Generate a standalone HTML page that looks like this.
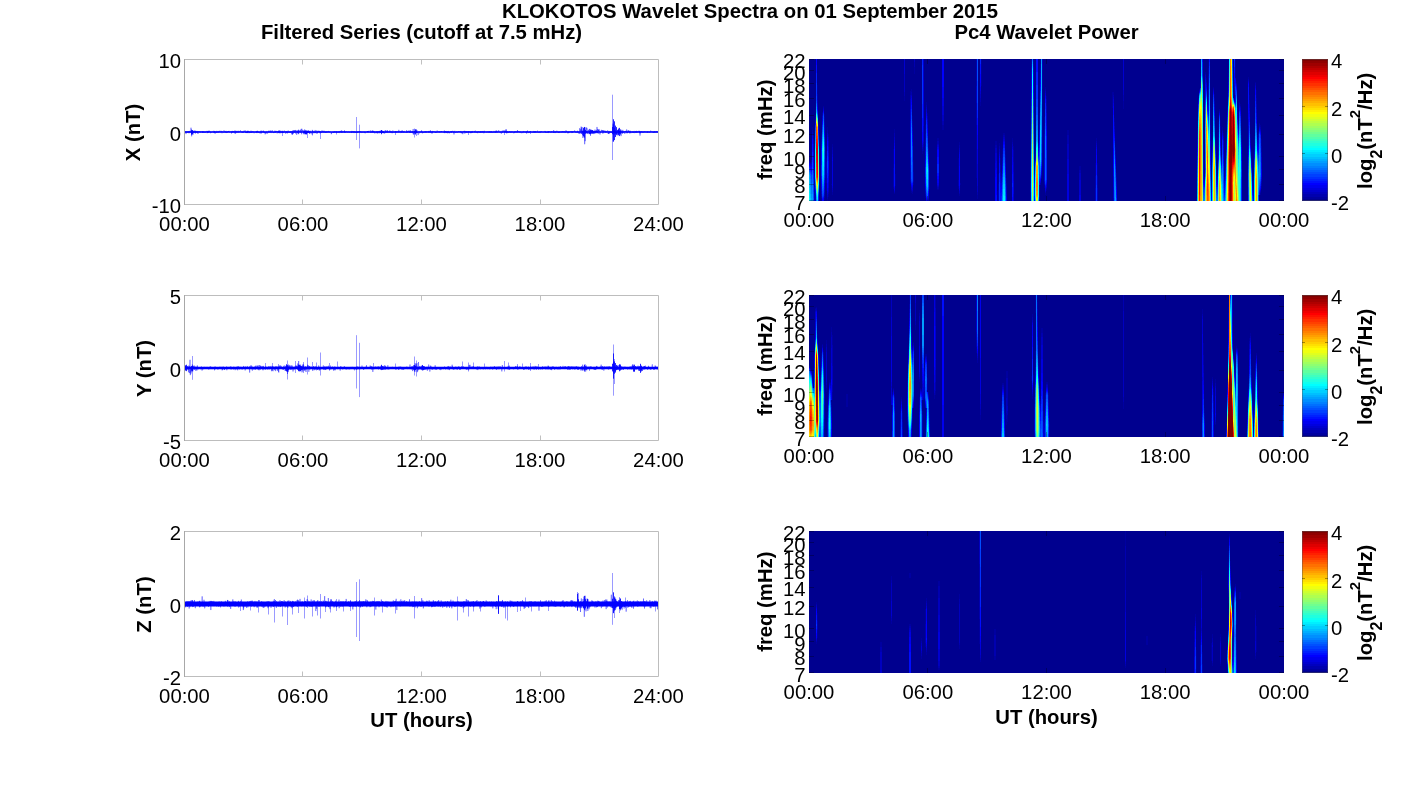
<!DOCTYPE html>
<html lang="en"><head><meta charset="utf-8"><title>KLOKOTOS Wavelet Spectra on 01 September 2015</title>
<style>html,body{margin:0;padding:0;background:#fff}svg{display:block}text{font-family:"Liberation Sans", sans-serif;font-size:20.3px;fill:#000}.b{font-weight:bold}.m{text-anchor:middle}.e{text-anchor:end}</style></head><body>
<svg width="1418" height="788" viewBox="0 0 1418 788">
<rect width="1418" height="788" fill="#fff"/>
<defs><linearGradient id="jet" x1="0" y1="1" x2="0" y2="0">
<stop offset="0.0000" stop-color="#00008f"/><stop offset="0.0156" stop-color="#00008f"/>
<stop offset="0.0156" stop-color="#00009f"/><stop offset="0.0312" stop-color="#00009f"/>
<stop offset="0.0312" stop-color="#0000af"/><stop offset="0.0469" stop-color="#0000af"/>
<stop offset="0.0469" stop-color="#0000bf"/><stop offset="0.0625" stop-color="#0000bf"/>
<stop offset="0.0625" stop-color="#0000cf"/><stop offset="0.0781" stop-color="#0000cf"/>
<stop offset="0.0781" stop-color="#0000df"/><stop offset="0.0938" stop-color="#0000df"/>
<stop offset="0.0938" stop-color="#0000ef"/><stop offset="0.1094" stop-color="#0000ef"/>
<stop offset="0.1094" stop-color="#0000ff"/><stop offset="0.1250" stop-color="#0000ff"/>
<stop offset="0.1250" stop-color="#0010ff"/><stop offset="0.1406" stop-color="#0010ff"/>
<stop offset="0.1406" stop-color="#0020ff"/><stop offset="0.1562" stop-color="#0020ff"/>
<stop offset="0.1562" stop-color="#0030ff"/><stop offset="0.1719" stop-color="#0030ff"/>
<stop offset="0.1719" stop-color="#0040ff"/><stop offset="0.1875" stop-color="#0040ff"/>
<stop offset="0.1875" stop-color="#0050ff"/><stop offset="0.2031" stop-color="#0050ff"/>
<stop offset="0.2031" stop-color="#0060ff"/><stop offset="0.2188" stop-color="#0060ff"/>
<stop offset="0.2188" stop-color="#0070ff"/><stop offset="0.2344" stop-color="#0070ff"/>
<stop offset="0.2344" stop-color="#0080ff"/><stop offset="0.2500" stop-color="#0080ff"/>
<stop offset="0.2500" stop-color="#008fff"/><stop offset="0.2656" stop-color="#008fff"/>
<stop offset="0.2656" stop-color="#009fff"/><stop offset="0.2812" stop-color="#009fff"/>
<stop offset="0.2812" stop-color="#00afff"/><stop offset="0.2969" stop-color="#00afff"/>
<stop offset="0.2969" stop-color="#00bfff"/><stop offset="0.3125" stop-color="#00bfff"/>
<stop offset="0.3125" stop-color="#00cfff"/><stop offset="0.3281" stop-color="#00cfff"/>
<stop offset="0.3281" stop-color="#00dfff"/><stop offset="0.3438" stop-color="#00dfff"/>
<stop offset="0.3438" stop-color="#00efff"/><stop offset="0.3594" stop-color="#00efff"/>
<stop offset="0.3594" stop-color="#00ffff"/><stop offset="0.3750" stop-color="#00ffff"/>
<stop offset="0.3750" stop-color="#10ffef"/><stop offset="0.3906" stop-color="#10ffef"/>
<stop offset="0.3906" stop-color="#20ffdf"/><stop offset="0.4062" stop-color="#20ffdf"/>
<stop offset="0.4062" stop-color="#30ffcf"/><stop offset="0.4219" stop-color="#30ffcf"/>
<stop offset="0.4219" stop-color="#40ffbf"/><stop offset="0.4375" stop-color="#40ffbf"/>
<stop offset="0.4375" stop-color="#50ffaf"/><stop offset="0.4531" stop-color="#50ffaf"/>
<stop offset="0.4531" stop-color="#60ff9f"/><stop offset="0.4688" stop-color="#60ff9f"/>
<stop offset="0.4688" stop-color="#70ff8f"/><stop offset="0.4844" stop-color="#70ff8f"/>
<stop offset="0.4844" stop-color="#80ff80"/><stop offset="0.5000" stop-color="#80ff80"/>
<stop offset="0.5000" stop-color="#8fff70"/><stop offset="0.5156" stop-color="#8fff70"/>
<stop offset="0.5156" stop-color="#9fff60"/><stop offset="0.5312" stop-color="#9fff60"/>
<stop offset="0.5312" stop-color="#afff50"/><stop offset="0.5469" stop-color="#afff50"/>
<stop offset="0.5469" stop-color="#bfff40"/><stop offset="0.5625" stop-color="#bfff40"/>
<stop offset="0.5625" stop-color="#cfff30"/><stop offset="0.5781" stop-color="#cfff30"/>
<stop offset="0.5781" stop-color="#dfff20"/><stop offset="0.5938" stop-color="#dfff20"/>
<stop offset="0.5938" stop-color="#efff10"/><stop offset="0.6094" stop-color="#efff10"/>
<stop offset="0.6094" stop-color="#ffff00"/><stop offset="0.6250" stop-color="#ffff00"/>
<stop offset="0.6250" stop-color="#ffef00"/><stop offset="0.6406" stop-color="#ffef00"/>
<stop offset="0.6406" stop-color="#ffdf00"/><stop offset="0.6562" stop-color="#ffdf00"/>
<stop offset="0.6562" stop-color="#ffcf00"/><stop offset="0.6719" stop-color="#ffcf00"/>
<stop offset="0.6719" stop-color="#ffbf00"/><stop offset="0.6875" stop-color="#ffbf00"/>
<stop offset="0.6875" stop-color="#ffaf00"/><stop offset="0.7031" stop-color="#ffaf00"/>
<stop offset="0.7031" stop-color="#ff9f00"/><stop offset="0.7188" stop-color="#ff9f00"/>
<stop offset="0.7188" stop-color="#ff8f00"/><stop offset="0.7344" stop-color="#ff8f00"/>
<stop offset="0.7344" stop-color="#ff8000"/><stop offset="0.7500" stop-color="#ff8000"/>
<stop offset="0.7500" stop-color="#ff7000"/><stop offset="0.7656" stop-color="#ff7000"/>
<stop offset="0.7656" stop-color="#ff6000"/><stop offset="0.7812" stop-color="#ff6000"/>
<stop offset="0.7812" stop-color="#ff5000"/><stop offset="0.7969" stop-color="#ff5000"/>
<stop offset="0.7969" stop-color="#ff4000"/><stop offset="0.8125" stop-color="#ff4000"/>
<stop offset="0.8125" stop-color="#ff3000"/><stop offset="0.8281" stop-color="#ff3000"/>
<stop offset="0.8281" stop-color="#ff2000"/><stop offset="0.8438" stop-color="#ff2000"/>
<stop offset="0.8438" stop-color="#ff1000"/><stop offset="0.8594" stop-color="#ff1000"/>
<stop offset="0.8594" stop-color="#ff0000"/><stop offset="0.8750" stop-color="#ff0000"/>
<stop offset="0.8750" stop-color="#ef0000"/><stop offset="0.8906" stop-color="#ef0000"/>
<stop offset="0.8906" stop-color="#df0000"/><stop offset="0.9062" stop-color="#df0000"/>
<stop offset="0.9062" stop-color="#cf0000"/><stop offset="0.9219" stop-color="#cf0000"/>
<stop offset="0.9219" stop-color="#bf0000"/><stop offset="0.9375" stop-color="#bf0000"/>
<stop offset="0.9375" stop-color="#af0000"/><stop offset="0.9531" stop-color="#af0000"/>
<stop offset="0.9531" stop-color="#9f0000"/><stop offset="0.9688" stop-color="#9f0000"/>
<stop offset="0.9688" stop-color="#8f0000"/><stop offset="0.9844" stop-color="#8f0000"/>
<stop offset="0.9844" stop-color="#800000"/><stop offset="1.0000" stop-color="#800000"/>
</linearGradient>
<filter id="bl" x="-2%" y="-2%" width="104%" height="104%"><feGaussianBlur stdDeviation="0.55 0.3"/></filter>
<clipPath id="cp0"><rect x="809" y="59" width="475" height="142"/></clipPath>
<clipPath id="cp1"><rect x="809" y="295" width="475" height="142"/></clipPath>
<clipPath id="cp2"><rect x="809" y="531" width="475" height="142"/></clipPath>
</defs>
<text class="b m" x="750" y="18">KLOKOTOS Wavelet Spectra on 01 September 2015</text>
<text class="b m" x="421.5" y="39">Filtered Series (cutoff at 7.5 mHz)</text>
<text class="b m" x="1046.5" y="39">Pc4 Wavelet Power</text>
<text class="b m" x="421.5" y="727">UT (hours)</text>
<text class="b m" x="1046.5" y="723.5">UT (hours)</text>
<path d="M302.5 204.5v-5M302.5 59.5v5M421.5 204.5v-5M421.5 59.5v5M540.5 204.5v-5M540.5 59.5v5M184.5 132.0h5M658.5 132.0h-5" stroke="#b0b0b0" stroke-width="1" fill="none" opacity="0.8"/>
<path d="M185.0 132.00H658.0" stroke="#00f" stroke-width="1.50" fill="none"/><path d="M184.50 131.76L184.67 132.61L184.83 131.27L185.00 132.16L185.17 132.37L185.33 131.55L185.50 131.56L185.67 132.33L185.83 131.99L186.00 134.07L186.17 131.41L186.33 131.49L186.50 131.51L186.67 133.04L186.83 132.17L187.00 132.00L187.17 131.79L187.33 131.85L187.50 131.30L187.67 132.84L187.83 132.11L188.00 132.37L188.17 131.89L188.33 131.67L188.50 131.18L188.67 132.31L188.83 131.53L189.00 133.34L189.17 132.14L189.33 131.10L189.50 132.37L189.67 131.66L189.83 130.86L190.00 130.77L190.17 130.89L190.33 132.17L190.50 131.81L190.67 132.52L190.83 130.56L191.00 127.69L191.17 131.86L191.33 133.12L191.50 131.93L191.67 136.33L191.83 131.48L192.00 133.91L192.17 132.29L192.33 131.96L192.50 130.46L192.67 131.57L192.83 130.40L193.00 134.62L193.17 134.40L193.33 132.16L193.50 132.82L193.67 132.20L193.83 131.54L194.00 132.04L194.17 131.38L194.33 130.44L194.50 132.91L194.67 132.06L194.83 131.75L195.00 132.16L195.17 131.27L195.33 133.61L195.50 130.70L195.67 132.70L195.83 131.87L196.00 131.26L196.17 132.45L196.33 131.74L196.50 131.61L196.67 131.71L196.83 132.91L197.00 130.91L197.17 131.88L197.33 133.13L197.50 131.66L197.67 131.98L197.83 131.75L198.00 133.93L198.17 131.28L198.33 131.92L198.50 131.91L198.67 132.23L198.83 131.58L199.00 131.46L199.17 131.85L199.33 131.24L199.50 131.96L199.67 132.22L199.83 132.56L200.00 132.57L200.17 131.20L200.33 132.04L200.50 132.19L200.67 131.71L200.83 132.59L201.00 132.28L201.17 131.84L201.33 131.69L201.50 131.72L201.67 131.84L201.83 131.73L202.00 131.25L202.17 132.43L202.33 132.47L202.50 131.32L202.67 132.71L202.83 131.52L203.00 132.95L203.17 132.25L203.33 131.58L203.50 132.11L203.67 132.10L203.83 131.32L204.00 133.01L204.17 131.97L204.33 131.78L204.50 132.14L204.67 132.34L204.83 132.38L205.00 131.76L205.17 132.95L205.33 131.78L205.50 132.27L205.67 132.17L205.83 131.61L206.00 131.62L206.17 131.87L206.33 131.91L206.50 131.54L206.67 130.93L206.83 131.64L207.00 132.54L207.17 133.18L207.33 130.91L207.50 132.98L207.67 131.31L207.83 131.55L208.00 132.22L208.17 131.60L208.33 132.48L208.50 130.80L208.67 132.54L208.83 131.60L209.00 131.44L209.17 132.07L209.33 130.65L209.50 131.72L209.67 131.55L209.83 132.27L210.00 132.03L210.17 131.22L210.33 132.46L210.50 133.22L210.67 132.19L210.83 132.51L211.00 131.81L211.17 131.69L211.33 132.43L211.50 132.18L211.67 132.53L211.83 132.50L212.00 131.87L212.17 131.64L212.33 131.81L212.50 131.45L212.67 131.43L212.83 132.04L213.00 132.32L213.17 132.54L213.33 132.72L213.50 131.92L213.67 132.13L213.83 130.76L214.00 131.93L214.17 132.82L214.33 131.17L214.50 133.25L214.67 132.79L214.83 131.79L215.00 132.01L215.17 131.26L215.33 133.53L215.50 132.70L215.67 132.35L215.83 132.24L216.00 132.84L216.17 131.88L216.33 132.35L216.50 132.87L216.67 132.53L216.83 130.83L217.00 132.25L217.17 132.10L217.33 131.48L217.50 131.83L217.67 132.62L217.83 132.19L218.00 132.37L218.17 131.83L218.33 132.34L218.50 131.37L218.67 132.47L218.83 132.31L219.00 131.96L219.17 130.86L219.33 131.53L219.50 131.69L219.67 132.33L219.83 131.38L220.00 130.74L220.17 131.13L220.33 131.39L220.50 131.55L220.67 132.40L220.83 131.74L221.00 131.59L221.17 132.17L221.33 130.85L221.50 131.75L221.67 131.46L221.83 131.86L222.00 133.25L222.17 132.23L222.33 132.05L222.50 131.32L222.67 131.85L222.83 131.93L223.00 131.82L223.17 132.09L223.33 132.45L223.50 132.76L223.67 131.85L223.83 131.65L224.00 130.32L224.17 131.76L224.33 131.59L224.50 132.17L224.67 131.70L224.83 131.47L225.00 132.64L225.17 132.85L225.33 131.30L225.50 131.28L225.67 131.76L225.83 132.54L226.00 131.82L226.17 130.86L226.33 133.05L226.50 132.86L226.67 131.92L226.83 132.00L227.00 132.78L227.17 132.52L227.33 131.66L227.50 132.31L227.67 132.49L227.83 131.06L228.00 131.87L228.17 131.81L228.33 131.04L228.50 131.82L228.67 131.33L228.83 131.78L229.00 130.83L229.17 132.30L229.33 131.76L229.50 131.99L229.67 132.41L229.83 132.20L230.00 132.45L230.17 131.89L230.33 131.39L230.50 131.99L230.67 131.66L230.83 131.78L231.00 132.17L231.17 132.31L231.33 132.23L231.50 133.50L231.67 131.04L231.83 131.96L232.00 132.18L232.17 132.79L232.33 130.88L232.50 132.22L232.67 132.07L232.83 131.76L233.00 131.07L233.17 132.43L233.33 131.33L233.50 131.98L233.67 131.15L233.83 132.03L234.00 132.23L234.17 132.98L234.33 132.20L234.50 131.67L234.67 131.55L234.83 132.14L235.00 130.33L235.17 133.99L235.33 132.06L235.50 131.09L235.67 131.62L235.83 131.89L236.00 133.12L236.17 131.82L236.33 132.35L236.50 131.89L236.67 130.87L236.83 132.03L237.00 132.18L237.17 131.41L237.33 132.04L237.50 132.47L237.67 132.66L237.83 130.85L238.00 131.39L238.17 131.54L238.33 131.91L238.50 132.52L238.67 132.22L238.83 130.77L239.00 131.90L239.17 131.51L239.33 132.27L239.50 131.88L239.67 131.82L239.83 131.96L240.00 132.02L240.17 132.11L240.33 131.69L240.50 130.38L240.67 132.01L240.83 131.91L241.00 131.72L241.17 131.83L241.33 131.63L241.50 131.31L241.67 132.11L241.83 132.70L242.00 132.03L242.17 132.55L242.33 131.73L242.50 131.72L242.67 132.64L242.83 132.28L243.00 131.01L243.17 132.24L243.33 132.30L243.50 132.88L243.67 132.03L243.83 131.02L244.00 130.61L244.17 131.15L244.33 131.82L244.50 131.33L244.67 131.28L244.83 131.77L245.00 132.13L245.17 130.35L245.33 131.08L245.50 132.77L245.67 132.85L245.83 131.59L246.00 132.72L246.17 132.41L246.33 131.93L246.50 132.96L246.67 131.75L246.83 132.60L247.00 133.16L247.17 130.79L247.33 132.88L247.50 131.63L247.67 132.46L247.83 130.94L248.00 132.07L248.17 130.75L248.33 132.23L248.50 131.87L248.67 132.34L248.83 131.30L249.00 133.18L249.17 132.51L249.33 132.60L249.50 131.73L249.67 132.65L249.83 131.77L250.00 131.64L250.17 132.77L250.33 131.97L250.50 131.96L250.67 132.71L250.83 132.16L251.00 130.67L251.17 132.16L251.33 132.64L251.50 131.75L251.67 132.88L251.83 132.14L252.00 132.32L252.17 131.31L252.33 131.04L252.50 131.24L252.67 131.69L252.83 132.67L253.00 131.13L253.17 131.65L253.33 132.44L253.50 132.49L253.67 132.30L253.83 131.59L254.00 131.75L254.17 133.28L254.33 132.64L254.50 132.53L254.67 132.08L254.83 131.81L255.00 131.83L255.17 132.18L255.33 132.22L255.50 131.68L255.67 132.04L255.83 132.33L256.00 131.75L256.17 132.73L256.33 132.22L256.50 131.00L256.67 132.89L256.83 133.12L257.00 130.88L257.17 132.43L257.33 132.12L257.50 130.80L257.67 132.39L257.83 132.49L258.00 131.57L258.17 132.16L258.33 131.76L258.50 132.28L258.67 133.02L258.83 131.81L259.00 131.80L259.17 132.89L259.33 132.53L259.50 133.26L259.67 131.80L259.83 131.93L260.00 132.27L260.17 132.43L260.33 131.98L260.50 132.42L260.67 131.19L260.83 132.89L261.00 133.78L261.17 130.47L261.33 133.10L261.50 132.85L261.67 131.69L261.83 131.69L262.00 131.47L262.17 131.65L262.33 132.18L262.50 132.37L262.67 132.52L262.83 130.97L263.00 132.21L263.17 131.63L263.33 130.54L263.50 132.21L263.67 131.97L263.83 131.66L264.00 133.06L264.17 131.66L264.33 131.61L264.50 132.87L264.67 133.04L264.83 132.38L265.00 132.31L265.17 134.35L265.33 132.02L265.50 132.58L265.67 131.92L265.83 132.54L266.00 133.70L266.17 131.45L266.33 131.30L266.50 132.43L266.67 133.17L266.83 132.01L267.00 132.19L267.17 132.13L267.33 131.91L267.50 133.60L267.67 133.39L267.83 131.60L268.00 131.36L268.17 132.12L268.33 132.04L268.50 132.55L268.67 130.66L268.83 131.82L269.00 131.15L269.17 132.28L269.33 132.02L269.50 132.16L269.67 132.38L269.83 130.66L270.00 130.88L270.17 132.92L270.33 131.97L270.50 131.72L270.67 131.55L270.83 130.43L271.00 132.34L271.17 131.40L271.33 131.99L271.50 131.82L271.67 132.90L271.83 132.75L272.00 132.10L272.17 131.98L272.33 130.33L272.50 130.75L272.67 132.50L272.83 132.32L273.00 132.91L273.17 132.72L273.33 132.88L273.50 132.06L273.67 133.06L273.83 132.45L274.00 131.87L274.17 132.51L274.33 132.70L274.50 132.81L274.67 131.03L274.83 130.62L275.00 132.50L275.17 132.17L275.33 132.96L275.50 131.47L275.67 131.84L275.83 131.12L276.00 132.40L276.17 130.89L276.33 131.28L276.50 131.32L276.67 131.58L276.83 132.04L277.00 131.39L277.17 133.40L277.33 131.93L277.50 131.74L277.67 132.31L277.83 132.00L278.00 131.14L278.17 132.14L278.33 131.35L278.50 131.55L278.67 132.94L278.83 130.65L279.00 133.18L279.17 130.33L279.33 133.12L279.50 131.94L279.67 131.50L279.83 130.77L280.00 131.82L280.17 133.26L280.33 131.34L280.50 132.35L280.67 131.08L280.83 130.70L281.00 130.82L281.17 133.14L281.33 132.22L281.50 131.35L281.67 132.09L281.83 132.49L282.00 131.80L282.17 132.83L282.33 131.84L282.50 132.79L282.67 130.77L282.83 131.40L283.00 132.14L283.17 131.36L283.33 133.00L283.50 132.45L283.67 132.02L283.83 132.93L284.00 132.89L284.17 131.14L284.33 130.56L284.50 131.98L284.67 131.90L284.83 131.75L285.00 132.26L285.17 131.65L285.33 131.19L285.50 131.56L285.67 133.68L285.83 131.57L286.00 132.30L286.17 132.38L286.33 132.96L286.50 132.68L286.67 131.09L286.83 133.13L287.00 131.53L287.17 131.70L287.33 131.24L287.50 133.37L287.67 132.14L287.83 132.56L288.00 132.63L288.17 130.51L288.33 130.87L288.50 132.40L288.67 131.65L288.83 131.62L289.00 132.12L289.17 132.35L289.33 132.57L289.50 131.85L289.67 132.76L289.83 131.22L290.00 132.19L290.17 132.10L290.33 132.22L290.50 132.83L290.67 131.27L290.83 132.27L291.00 131.37L291.17 132.32L291.33 131.55L291.50 131.28L291.67 134.07L291.83 134.45L292.00 131.55L292.17 133.52L292.33 133.06L292.50 132.96L292.67 134.19L292.83 130.50L293.00 133.12L293.17 131.82L293.33 130.25L293.50 133.56L293.67 132.47L293.83 132.19L294.00 131.79L294.17 130.38L294.33 131.43L294.50 132.65L294.67 130.43L294.83 131.68L295.00 132.46L295.17 130.17L295.33 131.72L295.50 133.53L295.67 130.05L295.83 130.20L296.00 131.62L296.17 131.64L296.33 130.87L296.50 130.71L296.67 134.81L296.83 132.78L297.00 131.12L297.17 130.69L297.33 132.14L297.50 133.19L297.67 130.38L297.83 132.31L298.00 133.17L298.17 131.77L298.33 130.97L298.50 130.16L298.67 134.18L298.83 130.50L299.00 131.36L299.17 132.23L299.33 131.36L299.50 131.69L299.67 131.74L299.83 130.90L300.00 129.94L300.17 132.15L300.33 130.86L300.50 130.47L300.67 132.69L300.83 132.92L301.00 130.00L301.17 128.92L301.33 132.05L301.50 132.43L301.67 134.27L301.83 128.76L302.00 132.17L302.17 131.87L302.33 131.86L302.50 131.68L302.67 130.17L302.83 130.21L303.00 131.13L303.17 130.19L303.33 131.56L303.50 133.34L303.67 131.55L303.83 134.25L304.00 132.25L304.17 131.46L304.33 133.20L304.50 131.63L304.67 129.43L304.83 134.28L305.00 132.63L305.17 132.72L305.33 130.69L305.50 131.98L305.67 131.97L305.83 134.06L306.00 131.01L306.17 132.76L306.33 134.74L306.50 131.25L306.67 132.26L306.83 133.54L307.00 131.61L307.17 131.20L307.33 131.82L307.50 131.61L307.67 132.42L307.83 133.07L308.00 130.03L308.17 131.20L308.33 132.82L308.50 131.88L308.67 130.62L308.83 132.32L309.00 132.06L309.17 131.60L309.33 132.46L309.50 134.03L309.67 133.01L309.83 130.83L310.00 133.08L310.17 131.61L310.33 131.28L310.50 130.85L310.67 132.25L310.83 131.61L311.00 133.60L311.17 132.08L311.33 132.31L311.50 132.75L311.67 132.25L311.83 132.13L312.00 132.37L312.17 134.63L312.33 129.89L312.50 131.32L312.67 132.15L312.83 130.66L313.00 131.93L313.17 131.70L313.33 131.57L313.50 132.74L313.67 132.06L313.83 133.31L314.00 132.13L314.17 132.51L314.33 132.45L314.50 131.38L314.67 132.22L314.83 133.12L315.00 132.23L315.17 129.98L315.33 132.67L315.50 131.93L315.67 133.13L315.83 131.65L316.00 131.83L316.17 131.61L316.33 131.98L316.50 132.27L316.67 131.99L316.83 130.37L317.00 133.99L317.17 131.67L317.33 132.74L317.50 132.10L317.67 132.82L317.83 131.06L318.00 131.57L318.17 131.78L318.33 131.36L318.50 132.12L318.67 131.10L318.83 130.57L319.00 132.08L319.17 131.32L319.33 132.83L319.50 130.97L319.67 132.01L319.83 131.51L320.00 132.56L320.17 133.53L320.33 132.76L320.50 132.21L320.67 132.64L320.83 131.56L321.00 131.96L321.17 132.43L321.33 132.19L321.50 132.14L321.67 131.87L321.83 132.97L322.00 130.33L322.17 132.21L322.33 132.09L322.50 131.44L322.67 131.20L322.83 131.80L323.00 132.05L323.17 132.04L323.33 130.88L323.50 132.45L323.67 132.20L323.83 132.33L324.00 132.65L324.17 130.74L324.33 131.99L324.50 132.51L324.67 132.37L324.83 132.55L325.00 131.08L325.17 132.00L325.33 132.27L325.50 132.87L325.67 131.91L325.83 132.48L326.00 131.99L326.17 132.31L326.33 131.62L326.50 132.54L326.67 131.54L326.83 132.06L327.00 132.38L327.17 131.43L327.33 131.46L327.50 131.66L327.67 132.43L327.83 131.99L328.00 131.67L328.17 132.20L328.33 132.03L328.50 130.93L328.67 131.96L328.83 131.78L329.00 132.45L329.17 132.04L329.33 132.28L329.50 132.13L329.67 131.42L329.83 132.02L330.00 132.50L330.17 132.33L330.33 131.86L330.50 131.75L330.67 131.70L330.83 132.09L331.00 132.22L331.17 131.98L331.33 134.20L331.50 132.82L331.67 133.25L331.83 132.13L332.00 132.42L332.17 132.02L332.33 132.20L332.50 131.88L332.67 131.83L332.83 131.58L333.00 132.46L333.17 132.02L333.33 133.00L333.50 131.95L333.67 132.29L333.83 132.49L334.00 132.52L334.17 130.99L334.33 132.33L334.50 132.30L334.67 131.57L334.83 132.37L335.00 132.72L335.17 131.65L335.33 132.06L335.50 132.08L335.67 131.47L335.83 132.30L336.00 132.35L336.17 131.97L336.33 132.37L336.50 132.17L336.67 131.36L336.83 132.88L337.00 131.90L337.17 132.32L337.33 131.88L337.50 131.77L337.67 131.76L337.83 131.75L338.00 132.55L338.17 132.05L338.33 131.40L338.50 132.44L338.67 131.91L338.83 131.52L339.00 132.05L339.17 133.00L339.33 133.04L339.50 131.05L339.67 131.05L339.83 131.86L340.00 132.23L340.17 132.24L340.33 132.50L340.50 130.97L340.67 132.14L340.83 130.87L341.00 131.71L341.17 132.03L341.33 132.86L341.50 131.95L341.67 130.33L341.83 132.35L342.00 131.53L342.17 132.74L342.33 131.87L342.50 131.38L342.67 132.11L342.83 132.11L343.00 132.16L343.17 131.85L343.33 131.36L343.50 132.40L343.67 131.95L343.83 131.80L344.00 131.26L344.17 132.14L344.33 131.25L344.50 131.94L344.67 131.92L344.83 132.62L345.00 132.19L345.17 131.60L345.33 132.67L345.50 131.66L345.67 132.29L345.83 132.01L346.00 132.17L346.17 131.60L346.33 131.49L346.50 131.22L346.67 132.32L346.83 132.58L347.00 132.29L347.17 131.43L347.33 131.61L347.50 132.29L347.67 132.59L347.83 132.37L348.00 131.93L348.17 131.70L348.33 132.26L348.50 131.67L348.67 131.73L348.83 131.57L349.00 132.57L349.17 132.33L349.33 132.43L349.50 131.80L349.67 131.71L349.83 131.67L350.00 132.83L350.17 132.25L350.33 131.88L350.50 131.59L350.67 131.85L350.83 131.67L351.00 132.35L351.17 132.70L351.33 132.72L351.50 131.98L351.67 132.74L351.83 130.89L352.00 132.37L352.17 131.64L352.33 132.04L352.50 131.76L352.67 132.36L352.83 131.63L353.00 132.25L353.17 132.28L353.33 131.48L353.50 132.37L353.67 132.12L353.83 131.24L354.00 132.48L354.17 133.10L354.33 132.13L354.50 131.28L354.67 132.17L354.83 131.99L355.00 132.41L355.17 132.63L355.33 131.62L355.50 132.16L355.67 132.94L355.83 132.42L356.00 131.96L356.17 132.77L356.33 131.98L356.50 131.81L356.67 132.02L356.83 132.29L357.00 131.60L357.17 132.61L357.33 131.89L357.50 132.22L357.67 131.71L357.83 132.85L358.00 132.77L358.17 132.22L358.33 131.61L358.50 132.22L358.67 131.69L358.83 131.83L359.00 131.51L359.17 131.98L359.33 131.93L359.50 131.41L359.67 131.42L359.83 132.60L360.00 131.82L360.17 131.92L360.33 131.24L360.50 132.45L360.67 132.35L360.83 131.65L361.00 132.00L361.17 131.91L361.33 131.99L361.50 132.88L361.67 132.74L361.83 131.64L362.00 131.89L362.17 131.96L362.33 132.35L362.50 131.77L362.67 132.36L362.83 132.17L363.00 131.99L363.17 132.29L363.33 131.98L363.50 131.89L363.67 132.11L363.83 132.31L364.00 131.53L364.17 132.53L364.33 133.07L364.50 131.97L364.67 132.11L364.83 132.30L365.00 131.65L365.17 132.08L365.33 133.27L365.50 133.06L365.67 131.99L365.83 131.86L366.00 132.41L366.17 132.19L366.33 132.22L366.50 132.30L366.67 131.84L366.83 131.99L367.00 131.42L367.17 131.67L367.33 132.13L367.50 131.02L367.67 132.25L367.83 131.15L368.00 132.76L368.17 132.00L368.33 131.00L368.50 131.64L368.67 131.72L368.83 131.10L369.00 130.76L369.17 132.21L369.33 131.96L369.50 132.16L369.67 131.86L369.83 132.23L370.00 132.57L370.17 132.47L370.33 132.41L370.50 132.50L370.67 130.41L370.83 131.98L371.00 132.54L371.17 132.05L371.33 132.85L371.50 132.30L371.67 131.48L371.83 130.92L372.00 132.13L372.17 131.82L372.33 131.03L372.50 130.48L372.67 132.80L372.83 131.26L373.00 132.23L373.17 130.82L373.33 132.27L373.50 131.10L373.67 131.20L373.83 131.31L374.00 132.71L374.17 131.97L374.33 132.58L374.50 131.34L374.67 131.49L374.83 133.48L375.00 132.52L375.17 132.61L375.33 131.71L375.50 132.28L375.67 132.02L375.83 132.50L376.00 131.56L376.17 131.69L376.33 131.61L376.50 132.76L376.67 132.54L376.83 131.42L377.00 133.33L377.17 131.69L377.33 132.39L377.50 131.79L377.67 133.40L377.83 131.38L378.00 131.79L378.17 132.09L378.33 131.97L378.50 131.51L378.67 131.75L378.83 132.60L379.00 131.36L379.17 133.38L379.33 131.98L379.50 130.86L379.67 131.36L379.83 132.12L380.00 132.54L380.17 130.99L380.33 131.96L380.50 132.05L380.67 132.68L380.83 131.06L381.00 130.23L381.17 131.75L381.33 132.92L381.50 130.25L381.67 131.51L381.83 131.83L382.00 132.34L382.17 132.14L382.33 132.17L382.50 132.17L382.67 130.91L382.83 132.73L383.00 133.05L383.17 132.49L383.33 131.60L383.50 132.00L383.67 132.83L383.83 131.96L384.00 133.55L384.17 133.60L384.33 132.08L384.50 132.35L384.67 132.30L384.83 133.29L385.00 130.54L385.17 131.53L385.33 132.62L385.50 130.65L385.67 130.86L385.83 130.36L386.00 132.86L386.17 130.96L386.33 132.11L386.50 131.86L386.67 131.73L386.83 131.73L387.00 132.46L387.17 133.04L387.33 130.09L387.50 132.16L387.67 131.89L387.83 130.97L388.00 132.41L388.17 132.52L388.33 132.05L388.50 132.10L388.67 131.87L388.83 132.00L389.00 131.48L389.17 132.69L389.33 132.28L389.50 131.49L389.67 131.66L389.83 130.30L390.00 132.70L390.17 131.88L390.33 132.20L390.50 132.55L390.67 131.27L390.83 131.92L391.00 131.23L391.17 132.26L391.33 131.72L391.50 131.62L391.67 133.02L391.83 132.25L392.00 131.76L392.17 133.26L392.33 132.56L392.50 132.81L392.67 131.97L392.83 130.46L393.00 131.65L393.17 132.68L393.33 132.11L393.50 132.05L393.67 131.70L393.83 131.79L394.00 132.52L394.17 132.89L394.33 131.68L394.50 131.48L394.67 132.36L394.83 132.05L395.00 132.09L395.17 131.89L395.33 131.53L395.50 132.38L395.67 131.33L395.83 132.85L396.00 132.80L396.17 131.05L396.33 132.34L396.50 132.38L396.67 132.30L396.83 131.61L397.00 132.49L397.17 131.34L397.33 131.71L397.50 132.26L397.67 131.79L397.83 132.11L398.00 132.19L398.17 131.49L398.33 130.98L398.50 132.06L398.67 132.55L398.83 129.83L399.00 131.61L399.17 132.15L399.33 131.43L399.50 131.55L399.67 132.42L399.83 131.68L400.00 131.67L400.17 132.07L400.33 131.71L400.50 131.83L400.67 130.93L400.83 132.90L401.00 132.79L401.17 131.48L401.33 132.20L401.50 130.75L401.67 132.43L401.83 131.91L402.00 132.62L402.17 131.69L402.33 130.44L402.50 131.67L402.67 130.95L402.83 131.48L403.00 132.33L403.17 132.99L403.33 131.24L403.50 131.71L403.67 132.21L403.83 132.70L404.00 131.63L404.17 131.29L404.33 130.92L404.50 131.70L404.67 132.57L404.83 132.08L405.00 131.74L405.17 132.02L405.33 132.27L405.50 132.00L405.67 132.41L405.83 132.27L406.00 131.88L406.17 132.02L406.33 132.88L406.50 132.21L406.67 130.20L406.83 132.37L407.00 131.41L407.17 131.91L407.33 132.61L407.50 132.23L407.67 131.04L407.83 131.88L408.00 132.51L408.17 132.23L408.33 131.74L408.50 131.78L408.67 130.95L408.83 131.79L409.00 130.39L409.17 132.51L409.33 131.37L409.50 132.56L409.67 131.96L409.83 132.64L410.00 131.72L410.17 132.26L410.33 130.52L410.50 132.97L410.67 130.66L410.83 131.34L411.00 131.43L411.17 132.45L411.33 131.90L411.50 132.32L411.67 132.65L411.83 131.86L412.00 132.76L412.17 130.90L412.33 131.00L412.50 132.81L412.67 131.24L412.83 133.25L413.00 133.14L413.17 128.96L413.33 134.42L413.50 132.84L413.67 132.92L413.83 132.25L414.00 134.56L414.17 131.21L414.33 131.96L414.50 131.02L414.67 131.15L414.83 133.50L415.00 134.08L415.17 129.19L415.33 130.59L415.50 132.44L415.67 132.74L415.83 132.11L416.00 132.54L416.17 132.43L416.33 130.74L416.50 132.71L416.67 132.39L416.83 132.09L417.00 130.21L417.17 131.09L417.33 133.07L417.50 132.06L417.67 132.90L417.83 132.75L418.00 132.79L418.17 135.09L418.33 132.41L418.50 132.39L418.67 131.86L418.83 131.45L419.00 131.23L419.17 133.47L419.33 132.63L419.50 132.43L419.67 132.65L419.83 131.81L420.00 131.57L420.17 131.88L420.33 132.68L420.50 132.32L420.67 131.54L420.83 131.72L421.00 131.95L421.17 132.47L421.33 132.68L421.50 130.41L421.67 132.04L421.83 130.91L422.00 131.45L422.17 132.37L422.33 133.24L422.50 132.37L422.67 133.14L422.83 131.96L423.00 132.29L423.17 131.85L423.33 132.67L423.50 132.05L423.67 132.49L423.83 132.24L424.00 131.51L424.17 131.65L424.33 132.13L424.50 132.58L424.67 131.76L424.83 131.04L425.00 131.35L425.17 132.51L425.33 132.25L425.50 132.67L425.67 131.17L425.83 132.29L426.00 131.66L426.17 131.56L426.33 131.05L426.50 131.86L426.67 132.95L426.83 132.39L427.00 132.14L427.17 131.68L427.33 132.04L427.50 132.04L427.67 132.09L427.83 131.67L428.00 131.68L428.17 131.93L428.33 130.93L428.50 132.54L428.67 131.86L428.83 132.34L429.00 131.33L429.17 132.49L429.33 132.41L429.50 132.17L429.67 131.53L429.83 132.16L430.00 131.15L430.17 132.46L430.33 130.22L430.50 131.53L430.67 131.45L430.83 133.00L431.00 132.72L431.17 131.14L431.33 131.42L431.50 131.82L431.67 132.33L431.83 132.53L432.00 133.74L432.17 131.66L432.33 132.93L432.50 130.92L432.67 131.66L432.83 131.92L433.00 131.79L433.17 131.37L433.33 132.09L433.50 131.51L433.67 131.67L433.83 132.06L434.00 131.76L434.17 132.32L434.33 131.80L434.50 131.85L434.67 132.12L434.83 131.43L435.00 131.47L435.17 131.41L435.33 132.98L435.50 131.83L435.67 132.41L435.83 132.16L436.00 132.65L436.17 132.27L436.33 132.19L436.50 132.55L436.67 131.79L436.83 132.18L437.00 131.31L437.17 130.47L437.33 132.21L437.50 132.18L437.67 131.84L437.83 132.12L438.00 132.35L438.17 131.13L438.33 131.37L438.50 132.06L438.67 132.19L438.83 131.70L439.00 131.63L439.17 131.78L439.33 131.62L439.50 132.59L439.67 131.17L439.83 131.70L440.00 132.39L440.17 132.31L440.33 131.76L440.50 132.00L440.67 132.06L440.83 132.19L441.00 131.17L441.17 131.96L441.33 131.04L441.50 132.07L441.67 131.46L441.83 132.22L442.00 131.91L442.17 131.55L442.33 131.37L442.50 131.71L442.67 131.75L442.83 131.99L443.00 131.95L443.17 132.48L443.33 132.52L443.50 131.84L443.67 132.00L443.83 131.44L444.00 130.87L444.17 132.10L444.33 132.86L444.50 130.64L444.67 132.67L444.83 133.20L445.00 132.18L445.17 131.75L445.33 132.35L445.50 131.04L445.67 132.05L445.83 131.11L446.00 132.30L446.17 132.57L446.33 131.86L446.50 132.96L446.67 131.70L446.83 131.23L447.00 131.28L447.17 133.17L447.33 131.44L447.50 131.55L447.67 132.35L447.83 133.22L448.00 132.53L448.17 131.67L448.33 130.94L448.50 132.45L448.67 131.83L448.83 132.43L449.00 131.59L449.17 132.24L449.33 133.37L449.50 132.03L449.67 132.42L449.83 132.37L450.00 132.13L450.17 131.83L450.33 131.77L450.50 131.47L450.67 131.33L450.83 132.72L451.00 131.12L451.17 132.41L451.33 131.61L451.50 132.57L451.67 131.39L451.83 131.72L452.00 131.26L452.17 131.16L452.33 131.95L452.50 131.39L452.67 130.85L452.83 131.47L453.00 132.27L453.17 132.46L453.33 132.55L453.50 132.90L453.67 131.17L453.83 131.49L454.00 134.44L454.17 131.81L454.33 131.73L454.50 131.88L454.67 131.88L454.83 130.90L455.00 130.84L455.17 132.65L455.33 132.87L455.50 132.46L455.67 132.67L455.83 132.21L456.00 131.98L456.17 132.46L456.33 132.09L456.50 131.60L456.67 131.27L456.83 132.30L457.00 132.26L457.17 132.08L457.33 132.64L457.50 132.54L457.67 131.97L457.83 132.08L458.00 132.22L458.17 131.32L458.33 131.88L458.50 132.06L458.67 131.47L458.83 132.10L459.00 131.03L459.17 131.99L459.33 131.74L459.50 131.72L459.67 131.83L459.83 132.22L460.00 131.76L460.17 131.88L460.33 131.76L460.50 131.23L460.67 132.09L460.83 132.02L461.00 130.96L461.17 133.18L461.33 132.02L461.50 132.38L461.67 132.12L461.83 131.60L462.00 133.48L462.17 132.01L462.33 132.10L462.50 132.04L462.67 132.68L462.83 134.20L463.00 131.45L463.17 131.76L463.33 131.01L463.50 131.72L463.67 132.10L463.83 131.57L464.00 131.64L464.17 131.54L464.33 130.79L464.50 131.86L464.67 130.98L464.83 133.64L465.00 131.93L465.17 131.57L465.33 130.96L465.50 132.32L465.67 132.10L465.83 132.56L466.00 131.56L466.17 132.34L466.33 131.31L466.50 132.90L466.67 132.70L466.83 131.27L467.00 131.96L467.17 131.78L467.33 133.06L467.50 132.80L467.67 132.38L467.83 131.35L468.00 132.07L468.17 131.56L468.33 131.90L468.50 132.52L468.67 131.77L468.83 132.10L469.00 132.45L469.17 131.30L469.33 132.16L469.50 131.96L469.67 131.48L469.83 131.88L470.00 132.40L470.17 133.11L470.33 132.21L470.50 132.56L470.67 131.50L470.83 132.24L471.00 133.21L471.17 131.20L471.33 132.84L471.50 132.31L471.67 132.22L471.83 132.15L472.00 131.41L472.17 132.41L472.33 131.79L472.50 132.75L472.67 131.27L472.83 130.93L473.00 131.93L473.17 132.03L473.33 131.81L473.50 132.12L473.67 132.41L473.83 131.98L474.00 131.61L474.17 131.74L474.33 131.80L474.50 130.98L474.67 132.39L474.83 132.46L475.00 132.64L475.17 131.95L475.33 130.64L475.50 132.27L475.67 132.06L475.83 131.63L476.00 132.40L476.17 132.68L476.33 132.61L476.50 132.52L476.67 131.46L476.83 132.76L477.00 132.49L477.17 132.49L477.33 131.82L477.50 132.47L477.67 133.20L477.83 131.32L478.00 132.24L478.17 131.86L478.33 131.77L478.50 131.35L478.67 131.62L478.83 132.55L479.00 131.60L479.17 131.93L479.33 132.15L479.50 131.85L479.67 132.14L479.83 132.83L480.00 131.42L480.17 131.58L480.33 132.62L480.50 131.32L480.67 131.02L480.83 132.56L481.00 131.75L481.17 132.10L481.33 131.46L481.50 132.04L481.67 131.55L481.83 132.50L482.00 131.83L482.17 132.67L482.33 132.88L482.50 132.09L482.67 130.98L482.83 131.99L483.00 131.39L483.17 132.03L483.33 131.83L483.50 131.63L483.67 131.97L483.83 133.31L484.00 131.84L484.17 132.96L484.33 130.77L484.50 131.62L484.67 131.92L484.83 131.81L485.00 131.44L485.17 131.61L485.33 131.65L485.50 132.03L485.67 132.09L485.83 132.11L486.00 132.05L486.17 132.69L486.33 131.73L486.50 131.61L486.67 131.50L486.83 131.44L487.00 132.55L487.17 132.50L487.33 131.79L487.50 132.10L487.67 132.22L487.83 131.57L488.00 131.07L488.17 131.63L488.33 131.79L488.50 132.61L488.67 132.62L488.83 132.77L489.00 131.35L489.17 132.29L489.33 131.62L489.50 131.31L489.67 131.63L489.83 132.85L490.00 131.34L490.17 132.18L490.33 132.69L490.50 131.78L490.67 131.76L490.83 131.31L491.00 132.42L491.17 131.78L491.33 132.50L491.50 131.17L491.67 132.20L491.83 132.34L492.00 132.61L492.17 133.03L492.33 131.97L492.50 132.35L492.67 132.15L492.83 131.57L493.00 132.23L493.17 131.98L493.33 132.44L493.50 132.02L493.67 131.85L493.83 132.51L494.00 130.92L494.17 131.21L494.33 131.85L494.50 131.84L494.67 132.64L494.83 132.63L495.00 131.87L495.17 132.41L495.33 132.34L495.50 131.67L495.67 132.91L495.83 131.20L496.00 131.78L496.17 130.29L496.33 132.52L496.50 132.21L496.67 131.54L496.83 132.43L497.00 130.87L497.17 131.98L497.33 132.37L497.50 132.38L497.67 132.50L497.83 132.37L498.00 132.62L498.17 132.06L498.33 131.66L498.50 130.68L498.67 131.46L498.83 130.45L499.00 131.90L499.17 131.88L499.33 132.51L499.50 132.24L499.67 131.90L499.83 132.17L500.00 132.42L500.17 131.50L500.33 131.89L500.50 132.18L500.67 133.15L500.83 131.42L501.00 131.48L501.17 131.98L501.33 132.19L501.50 133.60L501.67 132.16L501.83 132.13L502.00 130.89L502.17 131.06L502.33 131.63L502.50 132.85L502.67 131.58L502.83 130.77L503.00 131.76L503.17 130.44L503.33 131.68L503.50 132.12L503.67 132.32L503.83 131.84L504.00 131.16L504.17 131.14L504.33 130.37L504.50 131.81L504.67 131.88L504.83 132.92L505.00 131.24L505.17 131.90L505.33 131.02L505.50 132.30L505.67 129.61L505.83 130.63L506.00 131.53L506.17 132.90L506.33 129.38L506.50 133.36L506.67 131.63L506.83 132.10L507.00 131.51L507.17 132.51L507.33 131.01L507.50 132.29L507.67 133.15L507.83 132.39L508.00 132.51L508.17 132.30L508.33 132.54L508.50 132.87L508.67 131.68L508.83 132.63L509.00 132.25L509.17 131.06L509.33 131.44L509.50 132.36L509.67 132.02L509.83 131.48L510.00 131.08L510.17 131.75L510.33 132.69L510.50 131.81L510.67 131.68L510.83 132.33L511.00 131.95L511.17 132.28L511.33 132.05L511.50 131.25L511.67 131.88L511.83 132.78L512.00 132.45L512.17 131.89L512.33 132.07L512.50 131.76L512.67 131.35L512.83 131.69L513.00 131.66L513.17 132.57L513.33 132.02L513.50 131.84L513.67 132.44L513.83 133.33L514.00 131.93L514.17 132.15L514.33 132.30L514.50 131.43L514.67 131.84L514.83 133.00L515.00 131.81L515.17 132.36L515.33 131.49L515.50 131.01L515.67 131.57L515.83 131.71L516.00 131.78L516.17 132.13L516.33 131.38L516.50 131.92L516.67 132.63L516.83 131.82L517.00 131.68L517.17 130.98L517.33 131.61L517.50 130.05L517.67 132.46L517.83 132.60L518.00 131.18L518.17 132.02L518.33 131.81L518.50 131.09L518.67 131.49L518.83 131.20L519.00 131.38L519.17 132.49L519.33 132.45L519.50 132.29L519.67 131.60L519.83 131.62L520.00 132.80L520.17 132.85L520.33 131.47L520.50 132.25L520.67 132.15L520.83 132.25L521.00 132.32L521.17 131.95L521.33 131.71L521.50 132.01L521.67 133.24L521.83 132.56L522.00 132.24L522.17 132.29L522.33 131.84L522.50 131.80L522.67 131.84L522.83 132.46L523.00 133.12L523.17 132.15L523.33 130.97L523.50 131.74L523.67 131.79L523.83 132.25L524.00 131.73L524.17 131.84L524.33 132.30L524.50 131.79L524.67 132.03L524.83 132.15L525.00 131.49L525.17 131.83L525.33 131.63L525.50 131.91L525.67 132.83L525.83 131.87L526.00 131.96L526.17 132.19L526.33 132.65L526.50 131.43L526.67 133.64L526.83 132.68L527.00 131.22L527.17 132.40L527.33 131.83L527.50 130.50L527.67 131.66L527.83 131.42L528.00 132.40L528.17 131.70L528.33 131.90L528.50 133.07L528.67 132.44L528.83 132.25L529.00 132.51L529.17 132.95L529.33 132.16L529.50 132.06L529.67 131.58L529.83 132.47L530.00 131.21L530.17 132.36L530.33 131.66L530.50 131.44L530.67 131.41L530.83 131.93L531.00 131.48L531.17 132.17L531.33 132.42L531.50 132.31L531.67 132.08L531.83 132.32L532.00 132.11L532.17 132.21L532.33 131.81L532.50 131.93L532.67 132.02L532.83 132.81L533.00 132.38L533.17 131.69L533.33 130.95L533.50 131.24L533.67 132.10L533.83 132.68L534.00 131.33L534.17 132.61L534.33 132.24L534.50 131.42L534.67 132.75L534.83 131.59L535.00 131.96L535.17 131.84L535.33 131.08L535.50 132.64L535.67 131.21L535.83 131.51L536.00 132.47L536.17 132.09L536.33 132.14L536.50 131.85L536.67 131.69L536.83 132.66L537.00 131.99L537.17 131.92L537.33 131.32L537.50 130.67L537.67 131.80L537.83 132.44L538.00 132.05L538.17 131.88L538.33 132.44L538.50 132.06L538.67 132.39L538.83 131.83L539.00 131.83L539.17 132.58L539.33 132.19L539.50 132.31L539.67 132.03L539.83 131.44L540.00 133.05L540.17 131.78L540.33 131.44L540.50 131.89L540.67 132.44L540.83 132.85L541.00 132.53L541.17 131.31L541.33 131.56L541.50 131.33L541.67 131.97L541.83 131.82L542.00 131.95L542.17 131.58L542.33 132.25L542.50 132.29L542.67 131.95L542.83 132.25L543.00 132.18L543.17 132.23L543.33 132.13L543.50 132.05L543.67 132.32L543.83 131.78L544.00 131.89L544.17 132.15L544.33 131.65L544.50 131.72L544.67 132.32L544.83 131.60L545.00 130.92L545.17 131.20L545.33 131.80L545.50 132.75L545.67 131.56L545.83 132.23L546.00 132.78L546.17 131.89L546.33 132.19L546.50 132.51L546.67 132.70L546.83 132.81L547.00 131.84L547.17 132.21L547.33 132.56L547.50 132.00L547.67 131.42L547.83 131.54L548.00 132.92L548.17 131.58L548.33 133.06L548.50 131.38L548.67 131.67L548.83 132.03L549.00 131.02L549.17 131.98L549.33 132.10L549.50 131.68L549.67 132.40L549.83 132.19L550.00 132.14L550.17 131.57L550.33 131.74L550.50 132.47L550.67 132.02L550.83 132.30L551.00 131.52L551.17 131.80L551.33 132.70L551.50 131.40L551.67 132.03L551.83 131.49L552.00 131.74L552.17 131.48L552.33 131.57L552.50 131.83L552.67 131.97L552.83 132.52L553.00 131.92L553.17 131.59L553.33 132.92L553.50 132.16L553.67 130.17L553.83 132.65L554.00 132.07L554.17 131.88L554.33 131.77L554.50 132.69L554.67 131.87L554.83 131.64L555.00 131.11L555.17 133.08L555.33 132.23L555.50 132.47L555.67 131.93L555.83 131.97L556.00 131.21L556.17 131.72L556.33 132.59L556.50 132.10L556.67 131.56L556.83 130.68L557.00 131.83L557.17 132.31L557.33 131.69L557.50 131.56L557.67 132.29L557.83 131.86L558.00 131.76L558.17 132.20L558.33 132.93L558.50 131.69L558.67 131.96L558.83 132.86L559.00 131.71L559.17 133.05L559.33 132.12L559.50 132.13L559.67 131.47L559.83 132.03L560.00 132.53L560.17 132.02L560.33 131.63L560.50 131.75L560.67 132.30L560.83 132.21L561.00 132.30L561.17 132.13L561.33 131.70L561.50 132.56L561.67 132.19L561.83 131.65L562.00 132.04L562.17 131.40L562.33 131.01L562.50 131.84L562.67 132.44L562.83 131.53L563.00 132.09L563.17 131.33L563.33 132.50L563.50 132.13L563.67 131.30L563.83 131.67L564.00 132.12L564.17 131.90L564.33 131.75L564.50 132.11L564.67 131.21L564.83 131.73L565.00 133.07L565.17 131.70L565.33 131.81L565.50 132.02L565.67 132.03L565.83 132.39L566.00 130.25L566.17 132.07L566.33 131.81L566.50 131.01L566.67 131.67L566.83 132.20L567.00 132.00L567.17 131.53L567.33 131.66L567.50 132.13L567.67 133.16L567.83 132.27L568.00 133.28L568.17 131.48L568.33 131.24L568.50 132.66L568.67 132.16L568.83 133.09L569.00 131.65L569.17 132.13L569.33 131.87L569.50 131.97L569.67 131.72L569.83 132.46L570.00 132.23L570.17 131.71L570.33 132.05L570.50 131.68L570.67 132.09L570.83 131.87L571.00 131.24L571.17 132.08L571.33 131.64L571.50 132.02L571.67 131.53L571.83 133.08L572.00 132.35L572.17 131.78L572.33 132.26L572.50 131.27L572.67 131.11L572.83 132.95L573.00 131.14L573.17 131.38L573.33 131.68L573.50 131.51L573.67 131.18L573.83 131.42L574.00 131.71L574.17 131.26L574.33 131.52L574.50 130.59L574.67 131.66L574.83 130.81L575.00 131.75L575.17 132.05L575.33 132.46L575.50 131.59L575.67 131.66L575.83 131.72L576.00 132.64L576.17 131.77L576.33 132.36L576.50 132.49L576.67 131.94L576.83 131.71L577.00 131.25L577.17 132.66L577.33 132.12L577.50 130.73L577.67 132.24L577.83 131.95L578.00 132.54L578.17 133.07L578.33 132.77L578.50 133.18L578.67 131.42L578.83 132.25L579.00 132.24L579.17 133.88L579.33 132.77L579.50 131.57L579.67 128.22L579.83 132.11L580.00 133.47L580.17 132.67L580.33 133.35L580.50 130.56L580.67 131.51L580.83 128.96L581.00 130.87L581.17 126.58L581.33 132.23L581.50 127.42L581.67 133.99L581.83 132.21L582.00 134.01L582.17 130.44L582.33 133.71L582.50 134.72L582.67 135.17L582.83 131.13L583.00 131.23L583.17 135.25L583.33 132.67L583.50 137.41L583.67 134.78L583.83 134.61L584.00 127.46L584.17 133.70L584.33 132.62L584.50 127.28L584.67 144.24L584.83 135.75L585.00 133.33L585.17 141.18L585.33 132.54L585.50 132.84L585.67 129.83L585.83 127.34L586.00 131.92L586.17 132.39L586.33 131.40L586.50 129.32L586.67 127.61L586.83 129.33L587.00 129.50L587.17 128.62L587.33 133.08L587.50 133.91L587.67 132.26L587.83 131.84L588.00 130.05L588.17 133.46L588.33 134.08L588.50 132.64L588.67 129.84L588.83 130.62L589.00 132.94L589.17 130.05L589.33 129.17L589.50 129.86L589.67 128.86L589.83 130.50L590.00 133.40L590.17 132.37L590.33 133.48L590.50 135.78L590.67 132.12L590.83 130.02L591.00 131.97L591.17 132.30L591.33 129.69L591.50 130.66L591.67 132.20L591.83 130.31L592.00 133.45L592.17 132.89L592.33 131.68L592.50 130.96L592.67 131.98L592.83 130.05L593.00 131.04L593.17 133.52L593.33 133.50L593.50 132.35L593.67 133.09L593.83 134.10L594.00 133.48L594.17 132.69L594.33 131.71L594.50 133.53L594.67 130.82L594.83 129.77L595.00 130.24L595.17 129.81L595.33 131.80L595.50 131.36L595.67 130.64L595.83 133.59L596.00 131.07L596.17 132.27L596.33 131.52L596.50 131.93L596.67 129.93L596.83 131.33L597.00 126.95L597.17 131.81L597.33 133.15L597.50 133.34L597.67 128.91L597.83 130.66L598.00 132.76L598.17 132.23L598.33 129.56L598.50 131.00L598.67 130.03L598.83 133.90L599.00 130.74L599.17 129.23L599.33 131.52L599.50 131.44L599.67 130.87L599.83 132.03L600.00 134.47L600.17 133.40L600.33 132.84L600.50 131.74L600.67 132.65L600.83 132.36L601.00 132.21L601.17 131.23L601.33 129.84L601.50 130.80L601.67 131.21L601.83 131.10L602.00 130.22L602.17 131.34L602.33 132.93L602.50 133.47L602.67 130.21L602.83 131.25L603.00 130.55L603.17 131.66L603.33 131.46L603.50 130.65L603.67 133.33L603.83 130.76L604.00 130.72L604.17 132.01L604.33 131.63L604.50 131.34L604.67 131.75L604.83 130.48L605.00 130.70L605.17 131.41L605.33 132.65L605.50 132.87L605.67 131.12L605.83 131.74L606.00 130.93L606.17 132.03L606.33 132.74L606.50 132.28L606.67 132.22L606.83 131.32L607.00 131.70L607.17 130.91L607.33 130.90L607.50 130.48L607.67 131.61L607.83 132.81L608.00 133.40L608.17 133.79L608.33 132.35L608.50 133.89L608.67 131.90L608.83 130.84L609.00 132.18L609.17 134.03L609.33 131.68L609.50 132.58L609.67 131.71L609.83 132.35L610.00 132.77L610.17 132.71L610.33 132.13L610.50 132.27L610.67 131.81L610.83 132.10L611.00 131.38L611.17 132.36L611.33 132.08L611.50 132.07L611.67 132.78L611.83 132.92L612.00 131.78L612.17 132.09L612.33 132.91L612.50 131.89L612.67 131.50L612.83 131.89L613.00 123.57L613.17 141.54L613.33 125.63L613.50 124.26L613.67 134.52L613.83 127.49L614.00 127.31L614.17 134.80L614.33 127.96L614.50 128.54L614.67 133.56L614.83 130.12L615.00 132.22L615.17 132.97L615.33 132.72L615.50 133.99L615.67 130.18L615.83 132.69L616.00 133.35L616.17 131.92L616.33 133.51L616.50 132.09L616.67 132.97L616.83 134.18L617.00 133.29L617.17 135.53L617.33 133.27L617.50 133.57L617.67 133.55L617.83 134.85L618.00 134.11L618.17 130.84L618.33 132.50L618.50 131.62L618.67 133.99L618.83 131.35L619.00 132.32L619.17 131.65L619.33 131.82L619.50 132.70L619.67 132.10L619.83 133.93L620.00 131.85L620.17 134.58L620.33 129.53L620.50 134.38L620.67 129.72L620.83 129.39L621.00 136.14L621.17 135.30L621.33 132.74L621.50 131.13L621.67 130.39L621.83 133.27L622.00 130.85L622.17 133.03L622.33 133.13L622.50 131.63L622.67 133.71L622.83 129.89L623.00 133.00L623.17 132.19L623.33 132.30L623.50 131.53L623.67 132.41L623.83 131.63L624.00 131.38L624.17 131.14L624.33 131.90L624.50 131.57L624.67 132.79L624.83 133.93L625.00 131.16L625.17 131.33L625.33 131.48L625.50 130.83L625.67 132.02L625.83 131.40L626.00 131.87L626.17 132.10L626.33 131.04L626.50 131.16L626.67 129.43L626.83 133.31L627.00 131.22L627.17 132.63L627.33 132.91L627.50 132.06L627.67 133.20L627.83 133.02L628.00 130.30L628.17 130.70L628.33 130.33L628.50 131.93L628.67 130.90L628.83 131.93L629.00 130.76L629.17 132.63L629.33 132.77L629.50 131.57L629.67 131.49L629.83 133.50L630.00 131.45L630.17 130.70L630.33 133.01L630.50 133.00L630.67 131.51L630.83 131.87L631.00 131.24L631.17 132.74L631.33 133.07L631.50 132.73L631.67 132.71L631.83 132.66L632.00 131.70L632.17 132.02L632.33 132.42L632.50 131.53L632.67 132.26L632.83 132.91L633.00 132.67L633.17 131.45L633.33 132.78L633.50 131.70L633.67 132.69L633.83 132.64L634.00 131.64L634.17 131.35L634.33 130.91L634.50 131.17L634.67 133.13L634.83 132.16L635.00 132.14L635.17 131.90L635.33 132.54L635.50 131.06L635.67 132.28L635.83 132.06L636.00 132.56L636.17 130.94L636.33 131.46L636.50 132.97L636.67 130.96L636.83 131.08L637.00 131.10L637.17 132.04L637.33 131.89L637.50 132.72L637.67 131.92L637.83 131.27L638.00 131.86L638.17 131.98L638.33 131.12L638.50 130.86L638.67 131.77L638.83 132.03L639.00 132.79L639.17 132.61L639.33 130.82L639.50 131.23L639.67 133.25L639.83 130.97L640.00 135.59L640.17 131.55L640.33 132.17L640.50 133.22L640.67 132.19L640.83 132.72L641.00 132.94L641.17 131.00L641.33 131.96L641.50 132.19L641.67 131.91L641.83 131.42L642.00 132.00L642.17 131.74L642.33 132.71L642.50 131.98L642.67 132.25L642.83 132.54L643.00 131.42L643.17 131.88L643.33 132.16L643.50 131.97L643.67 131.87L643.83 132.79L644.00 132.05L644.17 131.09L644.33 131.50L644.50 131.88L644.67 132.17L644.83 131.36L645.00 132.03L645.17 132.34L645.33 132.04L645.50 131.91L645.67 132.06L645.83 131.48L646.00 131.95L646.17 131.60L646.33 132.57L646.50 132.42L646.67 131.97L646.83 132.10L647.00 131.83L647.17 132.11L647.33 131.67L647.50 132.48L647.67 131.46L647.83 132.91L648.00 131.89L648.17 131.38L648.33 132.13L648.50 131.88L648.67 132.18L648.83 132.08L649.00 132.29L649.17 131.88L649.33 131.76L649.50 131.91L649.67 132.85L649.83 132.58L650.00 131.61L650.17 131.79L650.33 131.76L650.50 132.15L650.67 130.63L650.83 131.75L651.00 132.21L651.17 132.29L651.33 131.88L651.50 131.56L651.67 131.99L651.83 131.81L652.00 131.57L652.17 132.20L652.33 132.14L652.50 132.04L652.67 132.36L652.83 131.51L653.00 132.25L653.17 132.59L653.33 131.66L653.50 132.87L653.67 132.19L653.83 131.87L654.00 132.01L654.17 132.16L654.33 132.30L654.50 131.24L654.67 132.65L654.83 131.52L655.00 131.94L655.17 132.30L655.33 132.20L655.50 132.42L655.67 131.81L655.83 132.02L656.00 132.20L656.17 131.72L656.33 131.06L656.50 132.08L656.67 132.28L656.83 132.25L657.00 131.29L657.17 131.62L657.33 131.68L657.50 132.38L657.67 132.25L657.83 132.41L658.00 131.76L658.17 131.98L658.33 131.55L658.50 132.80" stroke="#00f" stroke-width="0.37" fill="none" stroke-linejoin="round"/><path d="M282.5 131.00V136.00M292.5 131.00V135.00M298.5 129.50V134.00M307.5 131.00V138.00M312.5 131.00V135.50M320.5 131.00V139.00M336.5 131.00V134.50M344.5 130.00V133.00M356.5 117.00V140.00M359.5 124.70V148.40M395.5 131.00V135.00M414.5 128.50V137.50M416.5 129.00V136.00M468.5 131.00V135.00M504.5 131.00V135.00M530.5 131.00V134.00M582.5 127.00V138.00M612.5 94.70V160.00" stroke="#00f" stroke-width="0.4" fill="none"/><path d="M612.5 126.96V134.19M613.5 119.27V141.57M614.5 121.34V140.11M615.5 125.60V137.05M616.5 127.13V134.82M617.5 129.86V133.45M618.5 129.99V133.27M619.5 131.04V132.81M620.5 131.24V132.41M582.5 131.28V132.68M583.5 128.12V136.04M584.5 126.96V137.62M585.5 129.89V133.87M586.5 130.84V133.41M587.5 131.54V132.65M618.5 128.59V135.30M619.5 127.86V136.07M620.5 130.62V133.37M191.5 129.57V134.74M192.5 130.21V134.41M193.5 131.37V132.67M589.5 130.38V134.11M590.5 129.58V134.22M591.5 130.37V133.65M592.5 130.12V133.66M593.5 131.06V133.15M594.5 131.14V132.90M595.5 131.18V132.78M596.5 131.15V132.54M597.5 131.44V132.51M414.5 131.29V132.68M415.5 129.50V134.47M416.5 130.62V132.91M380.5 131.37V132.82M381.5 130.03V134.22M382.5 130.79V133.08M383.5 131.28V132.90M303.5 131.33V132.83M304.5 130.76V133.27M305.5 130.38V134.18M306.5 130.44V134.01M307.5 131.00V133.02M308.5 131.17V132.71M309.5 131.44V132.55" stroke="#00f" stroke-width="1" fill="none" opacity="0.85"/>
<path d="M184.5 59.0V205.0" stroke="#a8a8a8" stroke-width="1" fill="none"/>
<path d="M185.0 59.5H658.5V204.5H185.0" stroke="#bdbdbd" stroke-width="1" fill="none"/>
<text class="e" x="181" y="68.2">10</text>
<text class="e" x="181" y="140.7">0</text>
<text class="e" x="181" y="213.2">-10</text>
<text class="m" x="184.5" y="230.8">00:00</text>
<text class="m" x="303.0" y="230.8">06:00</text>
<text class="m" x="421.5" y="230.8">12:00</text>
<text class="m" x="540.0" y="230.8">18:00</text>
<text class="m" x="658.5" y="230.8">24:00</text>
<text class="b m" transform="translate(140 132.5) rotate(-90)">X (nT)</text>
<path d="M302.5 440.5v-5M302.5 295.5v5M421.5 440.5v-5M421.5 295.5v5M540.5 440.5v-5M540.5 295.5v5M184.5 368.0h5M658.5 368.0h-5" stroke="#b0b0b0" stroke-width="1" fill="none" opacity="0.8"/>
<path d="M185.0 368.00H658.0" stroke="#00f" stroke-width="2.40" fill="none"/><path d="M184.50 367.08L184.67 368.04L184.83 367.08L185.00 367.32L185.17 368.95L185.33 369.85L185.50 365.90L185.67 369.78L185.83 366.60L186.00 366.91L186.17 366.96L186.33 368.11L186.50 369.92L186.67 368.35L186.83 367.23L187.00 367.21L187.17 365.97L187.33 366.86L187.50 368.84L187.67 367.04L187.83 369.09L188.00 367.46L188.17 370.17L188.33 369.14L188.50 372.30L188.67 367.17L188.83 365.53L189.00 368.03L189.17 366.32L189.33 365.97L189.50 373.08L189.67 366.21L189.83 365.49L190.00 359.78L190.17 372.13L190.33 375.13L190.50 367.80L190.67 366.67L190.83 373.72L191.00 368.95L191.17 372.33L191.33 369.72L191.50 367.10L191.67 367.16L191.83 368.88L192.00 370.26L192.17 370.49L192.33 364.48L192.50 371.36L192.67 369.06L192.83 371.29L193.00 365.71L193.17 369.10L193.33 366.15L193.50 366.11L193.67 368.52L193.83 368.83L194.00 369.48L194.17 369.90L194.33 365.58L194.50 366.81L194.67 369.36L194.83 369.58L195.00 367.99L195.17 367.18L195.33 366.54L195.50 368.03L195.67 367.29L195.83 370.89L196.00 368.94L196.17 368.03L196.33 367.46L196.50 368.28L196.67 369.31L196.83 366.68L197.00 370.45L197.17 369.00L197.33 365.43L197.50 367.74L197.67 366.93L197.83 367.73L198.00 368.40L198.17 368.56L198.33 367.02L198.50 369.23L198.67 368.73L198.83 368.57L199.00 368.03L199.17 367.87L199.33 367.12L199.50 367.25L199.67 367.52L199.83 367.84L200.00 368.51L200.17 367.78L200.33 367.25L200.50 368.43L200.67 368.73L200.83 369.31L201.00 367.46L201.17 366.81L201.33 368.80L201.50 366.61L201.67 366.92L201.83 367.80L202.00 370.60L202.17 370.34L202.33 368.12L202.50 368.60L202.67 369.07L202.83 369.42L203.00 368.61L203.17 367.95L203.33 367.98L203.50 367.79L203.67 369.09L203.83 368.58L204.00 368.17L204.17 366.78L204.33 367.57L204.50 367.56L204.67 367.48L204.83 367.95L205.00 368.16L205.17 368.12L205.33 367.70L205.50 366.95L205.67 367.84L205.83 368.02L206.00 368.77L206.17 368.16L206.33 368.94L206.50 367.90L206.67 368.22L206.83 367.89L207.00 366.81L207.17 368.23L207.33 368.35L207.50 367.48L207.67 368.63L207.83 368.73L208.00 368.08L208.17 367.62L208.33 367.75L208.50 369.45L208.67 368.94L208.83 367.37L209.00 368.08L209.17 368.92L209.33 369.17L209.50 366.74L209.67 368.08L209.83 368.64L210.00 367.72L210.17 369.11L210.33 368.34L210.50 366.47L210.67 366.23L210.83 367.04L211.00 367.30L211.17 368.37L211.33 367.49L211.50 367.94L211.67 368.23L211.83 367.34L212.00 367.32L212.17 369.18L212.33 368.83L212.50 367.40L212.67 367.80L212.83 368.26L213.00 368.43L213.17 368.09L213.33 367.03L213.50 368.84L213.67 368.53L213.83 368.03L214.00 367.12L214.17 368.55L214.33 367.07L214.50 370.31L214.67 368.71L214.83 366.71L215.00 368.51L215.17 367.80L215.33 366.70L215.50 369.18L215.67 368.31L215.83 368.54L216.00 368.36L216.17 367.85L216.33 368.40L216.50 367.85L216.67 367.21L216.83 368.82L217.00 368.06L217.17 368.43L217.33 367.94L217.50 368.26L217.67 367.86L217.83 369.72L218.00 369.49L218.17 367.48L218.33 368.52L218.50 368.81L218.67 368.58L218.83 367.75L219.00 367.96L219.17 367.81L219.33 367.74L219.50 368.27L219.67 367.89L219.83 366.66L220.00 367.55L220.17 368.02L220.33 367.58L220.50 367.64L220.67 369.06L220.83 367.70L221.00 367.79L221.17 366.83L221.33 368.82L221.50 366.99L221.67 367.42L221.83 368.27L222.00 367.74L222.17 370.37L222.33 368.86L222.50 369.65L222.67 368.34L222.83 368.22L223.00 367.99L223.17 366.41L223.33 367.83L223.50 368.70L223.67 369.08L223.83 367.25L224.00 368.68L224.17 369.53L224.33 368.13L224.50 370.02L224.67 369.07L224.83 367.63L225.00 368.54L225.17 367.76L225.33 368.14L225.50 367.30L225.67 368.20L225.83 368.41L226.00 367.12L226.17 368.10L226.33 367.14L226.50 367.51L226.67 366.41L226.83 370.24L227.00 367.80L227.17 367.85L227.33 368.57L227.50 368.97L227.67 367.70L227.83 368.27L228.00 367.46L228.17 367.15L228.33 367.80L228.50 368.98L228.67 368.22L228.83 366.89L229.00 368.19L229.17 367.79L229.33 368.58L229.50 368.17L229.67 368.79L229.83 368.10L230.00 369.01L230.17 366.79L230.33 367.98L230.50 368.42L230.67 369.14L230.83 366.28L231.00 368.25L231.17 369.55L231.33 368.63L231.50 367.24L231.67 368.12L231.83 367.70L232.00 368.24L232.17 367.92L232.33 368.51L232.50 367.17L232.67 367.81L232.83 367.20L233.00 368.34L233.17 367.79L233.33 369.53L233.50 368.69L233.67 366.66L233.83 369.01L234.00 368.00L234.17 367.38L234.33 367.42L234.50 368.41L234.67 366.92L234.83 367.44L235.00 368.81L235.17 370.18L235.33 367.16L235.50 367.30L235.67 367.58L235.83 367.47L236.00 366.97L236.17 368.61L236.33 369.35L236.50 367.58L236.67 368.46L236.83 368.25L237.00 367.28L237.17 366.10L237.33 366.52L237.50 367.69L237.67 370.30L237.83 367.46L238.00 369.12L238.17 368.77L238.33 367.23L238.50 366.81L238.67 366.04L238.83 368.40L239.00 369.07L239.17 368.46L239.33 367.53L239.50 368.64L239.67 369.44L239.83 368.02L240.00 367.26L240.17 366.72L240.33 368.26L240.50 368.58L240.67 369.00L240.83 368.25L241.00 366.98L241.17 367.60L241.33 367.33L241.50 366.91L241.67 368.75L241.83 369.43L242.00 368.98L242.17 368.42L242.33 367.57L242.50 367.47L242.67 369.36L242.83 368.30L243.00 367.10L243.17 367.09L243.33 368.13L243.50 365.95L243.67 368.76L243.83 367.11L244.00 368.75L244.17 368.26L244.33 368.45L244.50 366.89L244.67 367.38L244.83 367.87L245.00 366.83L245.17 370.44L245.33 368.38L245.50 368.07L245.67 366.44L245.83 369.05L246.00 367.75L246.17 368.38L246.33 368.38L246.50 367.88L246.67 368.80L246.83 368.03L247.00 367.38L247.17 368.52L247.33 365.96L247.50 367.57L247.67 368.23L247.83 367.29L248.00 368.82L248.17 368.86L248.33 368.77L248.50 367.66L248.67 367.45L248.83 367.55L249.00 366.93L249.17 368.70L249.33 369.15L249.50 368.25L249.67 372.59L249.83 366.10L250.00 369.11L250.17 366.75L250.33 368.42L250.50 366.98L250.67 367.50L250.83 368.03L251.00 365.14L251.17 368.70L251.33 367.96L251.50 369.20L251.67 368.03L251.83 365.92L252.00 367.36L252.17 368.33L252.33 370.67L252.50 367.02L252.67 368.64L252.83 368.67L253.00 366.96L253.17 368.49L253.33 368.28L253.50 367.11L253.67 368.29L253.83 369.61L254.00 369.73L254.17 368.28L254.33 369.08L254.50 369.02L254.67 368.18L254.83 367.37L255.00 366.22L255.17 368.89L255.33 369.45L255.50 366.64L255.67 369.51L255.83 366.77L256.00 365.44L256.17 366.73L256.33 367.87L256.50 368.90L256.67 368.57L256.83 366.85L257.00 366.51L257.17 367.07L257.33 366.84L257.50 365.75L257.67 367.97L257.83 367.94L258.00 369.71L258.17 365.26L258.33 366.38L258.50 369.28L258.67 366.98L258.83 370.21L259.00 370.32L259.17 370.26L259.33 367.40L259.50 365.53L259.67 365.01L259.83 366.98L260.00 366.89L260.17 369.90L260.33 365.88L260.50 366.66L260.67 365.72L260.83 368.89L261.00 368.43L261.17 367.65L261.33 367.03L261.50 366.57L261.67 367.77L261.83 366.60L262.00 368.45L262.17 368.34L262.33 369.24L262.50 366.53L262.67 368.46L262.83 367.35L263.00 370.34L263.17 365.87L263.33 369.07L263.50 366.54L263.67 369.28L263.83 366.93L264.00 368.96L264.17 367.91L264.33 368.11L264.50 368.62L264.67 368.30L264.83 369.38L265.00 367.82L265.17 367.45L265.33 367.64L265.50 367.70L265.67 367.85L265.83 366.23L266.00 367.19L266.17 369.03L266.33 368.18L266.50 368.63L266.67 367.42L266.83 368.63L267.00 368.60L267.17 368.01L267.33 369.56L267.50 368.97L267.67 368.41L267.83 369.15L268.00 368.41L268.17 366.44L268.33 366.58L268.50 366.92L268.67 367.50L268.83 366.46L269.00 369.21L269.17 369.59L269.33 366.54L269.50 367.62L269.67 367.11L269.83 368.22L270.00 368.42L270.17 366.62L270.33 367.95L270.50 367.26L270.67 367.60L270.83 366.05L271.00 365.89L271.17 367.90L271.33 367.68L271.50 371.20L271.67 366.88L271.83 367.34L272.00 366.94L272.17 369.62L272.33 365.94L272.50 367.47L272.67 368.91L272.83 369.11L273.00 371.24L273.17 369.65L273.33 366.30L273.50 367.02L273.67 367.20L273.83 368.34L274.00 368.22L274.17 369.10L274.33 367.53L274.50 369.38L274.67 370.19L274.83 368.36L275.00 367.05L275.17 366.13L275.33 368.20L275.50 369.06L275.67 371.12L275.83 366.84L276.00 367.80L276.17 367.79L276.33 366.30L276.50 367.50L276.67 368.41L276.83 369.06L277.00 366.69L277.17 369.08L277.33 367.96L277.50 368.11L277.67 370.85L277.83 366.46L278.00 369.31L278.17 368.17L278.33 367.13L278.50 368.33L278.67 372.35L278.83 372.56L279.00 365.78L279.17 368.72L279.33 368.48L279.50 368.53L279.67 365.58L279.83 367.58L280.00 368.68L280.17 366.87L280.33 366.56L280.50 367.17L280.67 365.43L280.83 366.10L281.00 366.66L281.17 368.12L281.33 366.35L281.50 368.51L281.67 367.02L281.83 367.66L282.00 369.08L282.17 367.81L282.33 367.82L282.50 368.75L282.67 367.98L282.83 368.25L283.00 369.68L283.17 368.48L283.33 369.72L283.50 365.85L283.67 366.09L283.83 368.27L284.00 368.46L284.17 367.74L284.33 368.36L284.50 369.09L284.67 365.49L284.83 366.27L285.00 367.99L285.17 371.02L285.33 369.73L285.50 370.69L285.67 367.90L285.83 369.01L286.00 366.18L286.17 367.80L286.33 365.60L286.50 366.96L286.67 366.82L286.83 370.92L287.00 369.78L287.17 372.08L287.33 366.84L287.50 374.00L287.67 371.12L287.83 370.35L288.00 365.68L288.17 372.07L288.33 370.12L288.50 367.13L288.67 364.54L288.83 365.97L289.00 367.33L289.17 368.61L289.33 365.53L289.50 365.19L289.67 368.59L289.83 366.62L290.00 369.94L290.17 366.94L290.33 369.28L290.50 368.90L290.67 365.65L290.83 365.75L291.00 369.85L291.17 369.59L291.33 365.40L291.50 367.44L291.67 368.66L291.83 367.40L292.00 369.65L292.17 369.35L292.33 365.63L292.50 368.43L292.67 367.87L292.83 367.58L293.00 371.47L293.17 367.99L293.33 366.79L293.50 367.12L293.67 368.88L293.83 367.05L294.00 370.13L294.17 368.63L294.33 368.50L294.50 366.75L294.67 368.47L294.83 367.71L295.00 366.86L295.17 368.99L295.33 366.41L295.50 365.78L295.67 367.87L295.83 367.70L296.00 367.90L296.17 365.48L296.33 368.15L296.50 366.25L296.67 368.82L296.83 366.54L297.00 367.33L297.17 365.69L297.33 366.90L297.50 368.84L297.67 367.48L297.83 363.44L298.00 365.55L298.17 367.78L298.33 369.94L298.50 365.53L298.67 361.01L298.83 369.44L299.00 370.44L299.17 366.19L299.33 366.45L299.50 367.77L299.67 365.51L299.83 366.74L300.00 364.31L300.17 369.09L300.33 370.75L300.50 366.01L300.67 369.56L300.83 369.39L301.00 366.45L301.17 370.11L301.33 366.41L301.50 367.73L301.67 369.64L301.83 369.89L302.00 372.36L302.17 369.61L302.33 364.72L302.50 368.51L302.67 369.75L302.83 368.62L303.00 371.37L303.17 366.21L303.33 363.90L303.50 368.04L303.67 365.23L303.83 368.69L304.00 366.41L304.17 369.01L304.33 369.84L304.50 368.91L304.67 370.78L304.83 367.99L305.00 369.44L305.17 370.27L305.33 366.45L305.50 367.52L305.67 369.37L305.83 366.36L306.00 372.03L306.17 367.64L306.33 367.22L306.50 369.00L306.67 369.50L306.83 368.00L307.00 367.84L307.17 366.43L307.33 368.30L307.50 364.74L307.67 367.09L307.83 368.44L308.00 368.61L308.17 369.19L308.33 365.27L308.50 368.43L308.67 366.49L308.83 371.80L309.00 368.52L309.17 367.52L309.33 366.22L309.50 368.23L309.67 365.96L309.83 369.71L310.00 368.42L310.17 366.90L310.33 367.13L310.50 366.89L310.67 367.43L310.83 368.71L311.00 368.33L311.17 366.94L311.33 366.58L311.50 368.63L311.67 368.73L311.83 368.25L312.00 368.18L312.17 369.03L312.33 367.19L312.50 368.79L312.67 368.29L312.83 368.74L313.00 368.99L313.17 370.43L313.33 367.30L313.50 366.32L313.67 367.27L313.83 366.18L314.00 367.70L314.17 366.98L314.33 367.07L314.50 368.97L314.67 370.19L314.83 366.87L315.00 369.37L315.17 367.78L315.33 367.55L315.50 368.37L315.67 366.63L315.83 369.58L316.00 366.22L316.17 368.20L316.33 367.35L316.50 367.80L316.67 367.11L316.83 367.54L317.00 368.63L317.17 369.42L317.33 369.99L317.50 368.39L317.67 369.85L317.83 368.15L318.00 367.26L318.17 366.93L318.33 366.97L318.50 367.33L318.67 365.49L318.83 369.49L319.00 370.23L319.17 367.97L319.33 366.78L319.50 370.40L319.67 367.74L319.83 368.64L320.00 368.44L320.17 368.22L320.33 369.33L320.50 367.45L320.67 369.24L320.83 368.21L321.00 369.18L321.17 368.41L321.33 369.10L321.50 367.32L321.67 367.80L321.83 368.59L322.00 367.54L322.17 367.94L322.33 368.59L322.50 367.18L322.67 369.19L322.83 369.08L323.00 367.15L323.17 368.29L323.33 365.43L323.50 369.79L323.67 369.25L323.83 367.96L324.00 368.01L324.17 368.20L324.33 369.41L324.50 367.89L324.67 366.31L324.83 368.79L325.00 370.07L325.17 368.96L325.33 366.59L325.50 369.85L325.67 369.15L325.83 368.15L326.00 367.57L326.17 367.73L326.33 368.31L326.50 369.32L326.67 366.60L326.83 366.27L327.00 368.73L327.17 366.78L327.33 366.62L327.50 368.42L327.67 366.92L327.83 368.12L328.00 367.78L328.17 367.97L328.33 367.15L328.50 365.75L328.67 368.87L328.83 368.47L329.00 366.88L329.17 367.91L329.33 368.92L329.50 370.49L329.67 367.28L329.83 368.59L330.00 369.86L330.17 367.26L330.33 365.75L330.50 365.58L330.67 367.60L330.83 367.15L331.00 369.01L331.17 368.87L331.33 369.27L331.50 369.06L331.67 367.55L331.83 368.83L332.00 367.54L332.17 368.38L332.33 366.78L332.50 367.53L332.67 366.63L332.83 368.73L333.00 368.68L333.17 369.14L333.33 368.70L333.50 369.03L333.67 370.68L333.83 368.19L334.00 367.95L334.17 368.23L334.33 370.16L334.50 367.63L334.67 367.80L334.83 366.35L335.00 367.71L335.17 368.65L335.33 370.26L335.50 367.70L335.67 367.76L335.83 368.11L336.00 368.39L336.17 367.26L336.33 368.37L336.50 367.47L336.67 367.88L336.83 368.40L337.00 367.86L337.17 368.97L337.33 367.40L337.50 367.80L337.67 369.20L337.83 367.43L338.00 367.72L338.17 368.17L338.33 368.23L338.50 366.84L338.67 367.88L338.83 367.72L339.00 367.91L339.17 368.46L339.33 368.50L339.50 368.52L339.67 368.78L339.83 368.22L340.00 367.02L340.17 370.61L340.33 367.01L340.50 366.74L340.67 368.40L340.83 366.15L341.00 367.50L341.17 367.59L341.33 368.73L341.50 368.22L341.67 367.09L341.83 367.76L342.00 368.14L342.17 367.78L342.33 367.26L342.50 368.40L342.67 369.43L342.83 367.07L343.00 368.35L343.17 368.90L343.33 368.92L343.50 367.66L343.67 368.33L343.83 367.94L344.00 368.29L344.17 368.51L344.33 366.09L344.50 367.50L344.67 367.34L344.83 367.76L345.00 367.23L345.17 368.21L345.33 368.72L345.50 368.58L345.67 368.42L345.83 368.93L346.00 368.82L346.17 369.67L346.33 368.25L346.50 367.80L346.67 368.09L346.83 367.18L347.00 369.19L347.17 367.89L347.33 368.33L347.50 368.76L347.67 368.51L347.83 368.67L348.00 367.88L348.17 369.24L348.33 368.22L348.50 368.27L348.67 367.59L348.83 369.10L349.00 369.01L349.17 368.70L349.33 368.06L349.50 369.36L349.67 367.44L349.83 368.69L350.00 367.93L350.17 367.16L350.33 367.04L350.50 368.74L350.67 368.01L350.83 369.19L351.00 367.39L351.17 368.13L351.33 367.86L351.50 369.02L351.67 368.51L351.83 367.46L352.00 367.59L352.17 366.89L352.33 368.84L352.50 367.58L352.67 367.63L352.83 368.00L353.00 366.96L353.17 367.32L353.33 369.24L353.50 367.48L353.67 368.40L353.83 367.28L354.00 368.34L354.17 368.07L354.33 367.45L354.50 370.30L354.67 368.03L354.83 368.59L355.00 368.85L355.17 368.00L355.33 368.17L355.50 369.12L355.67 368.10L355.83 368.02L356.00 369.34L356.17 369.13L356.33 367.37L356.50 366.71L356.67 367.60L356.83 369.98L357.00 368.12L357.17 367.61L357.33 366.59L357.50 367.06L357.67 366.71L357.83 367.51L358.00 368.49L358.17 367.40L358.33 367.40L358.50 367.56L358.67 368.39L358.83 369.25L359.00 368.24L359.17 366.70L359.33 368.56L359.50 369.02L359.67 368.70L359.83 369.28L360.00 369.32L360.17 368.07L360.33 367.33L360.50 366.91L360.67 368.67L360.83 367.47L361.00 367.70L361.17 367.72L361.33 368.23L361.50 367.73L361.67 369.03L361.83 368.58L362.00 365.57L362.17 368.72L362.33 368.30L362.50 368.23L362.67 367.54L362.83 367.41L363.00 369.03L363.17 369.16L363.33 367.32L363.50 367.30L363.67 369.93L363.83 367.85L364.00 368.95L364.17 367.45L364.33 367.81L364.50 367.64L364.67 367.72L364.83 368.88L365.00 367.39L365.17 368.01L365.33 368.20L365.50 367.41L365.67 368.24L365.83 368.41L366.00 366.61L366.17 368.59L366.33 368.62L366.50 365.24L366.67 368.07L366.83 367.62L367.00 368.63L367.17 367.70L367.33 367.29L367.50 368.26L367.67 368.31L367.83 368.43L368.00 367.48L368.17 368.93L368.33 368.59L368.50 368.38L368.67 367.73L368.83 368.83L369.00 367.85L369.17 368.51L369.33 367.71L369.50 367.86L369.67 367.31L369.83 367.84L370.00 368.46L370.17 365.49L370.33 367.58L370.50 367.07L370.67 368.66L370.83 366.42L371.00 368.62L371.17 367.41L371.33 366.35L371.50 367.13L371.67 368.75L371.83 369.72L372.00 366.47L372.17 368.84L372.33 369.00L372.50 369.04L372.67 366.87L372.83 371.90L373.00 367.83L373.17 367.62L373.33 369.02L373.50 368.66L373.67 367.67L373.83 369.27L374.00 369.29L374.17 368.03L374.33 368.16L374.50 368.93L374.67 368.15L374.83 367.00L375.00 366.52L375.17 367.53L375.33 368.83L375.50 367.08L375.67 366.86L375.83 366.50L376.00 368.14L376.17 367.62L376.33 367.00L376.50 368.00L376.67 368.04L376.83 366.92L377.00 367.29L377.17 368.46L377.33 368.04L377.50 366.55L377.67 368.09L377.83 367.80L378.00 367.04L378.17 367.55L378.33 368.13L378.50 369.42L378.67 366.12L378.83 368.18L379.00 367.18L379.17 367.40L379.33 368.30L379.50 366.81L379.67 368.94L379.83 367.32L380.00 367.26L380.17 368.31L380.33 367.99L380.50 369.24L380.67 369.62L380.83 368.55L381.00 368.31L381.17 365.61L381.33 368.99L381.50 366.83L381.67 369.00L381.83 367.47L382.00 367.38L382.17 366.91L382.33 366.70L382.50 366.58L382.67 366.81L382.83 365.90L383.00 368.01L383.17 369.89L383.33 369.73L383.50 366.11L383.67 366.20L383.83 366.21L384.00 368.52L384.17 367.55L384.33 368.16L384.50 369.32L384.67 365.22L384.83 369.13L385.00 366.72L385.17 369.91L385.33 366.80L385.50 365.83L385.67 367.99L385.83 369.19L386.00 367.20L386.17 366.88L386.33 367.19L386.50 368.49L386.67 367.98L386.83 368.64L387.00 369.37L387.17 369.34L387.33 368.66L387.50 368.47L387.67 368.26L387.83 365.25L388.00 368.52L388.17 367.35L388.33 369.64L388.50 367.87L388.67 368.56L388.83 368.22L389.00 367.13L389.17 368.19L389.33 367.22L389.50 369.23L389.67 368.48L389.83 367.65L390.00 367.84L390.17 367.71L390.33 368.57L390.50 368.28L390.67 368.01L390.83 368.06L391.00 367.66L391.17 368.32L391.33 368.61L391.50 367.18L391.67 368.52L391.83 368.09L392.00 367.01L392.17 366.85L392.33 367.95L392.50 366.95L392.67 367.85L392.83 368.11L393.00 368.13L393.17 367.77L393.33 367.57L393.50 367.59L393.67 368.36L393.83 368.46L394.00 367.82L394.17 368.26L394.33 368.60L394.50 368.09L394.67 367.65L394.83 368.61L395.00 367.97L395.17 368.25L395.33 368.08L395.50 367.30L395.67 368.01L395.83 369.74L396.00 368.02L396.17 368.59L396.33 369.24L396.50 368.52L396.67 368.42L396.83 368.09L397.00 367.75L397.17 367.35L397.33 367.46L397.50 368.46L397.67 367.19L397.83 368.21L398.00 369.02L398.17 369.15L398.33 368.76L398.50 368.93L398.67 369.78L398.83 366.70L399.00 369.39L399.17 368.30L399.33 367.59L399.50 366.93L399.67 367.35L399.83 368.08L400.00 368.25L400.17 366.49L400.33 367.54L400.50 367.55L400.67 368.14L400.83 368.86L401.00 366.82L401.17 367.87L401.33 367.30L401.50 369.48L401.67 367.63L401.83 367.56L402.00 368.10L402.17 367.73L402.33 368.70L402.50 367.98L402.67 369.63L402.83 369.33L403.00 367.64L403.17 369.71L403.33 367.81L403.50 368.54L403.67 367.05L403.83 369.44L404.00 369.42L404.17 367.05L404.33 367.67L404.50 367.31L404.67 368.91L404.83 367.17L405.00 368.25L405.17 368.33L405.33 368.83L405.50 367.23L405.67 368.25L405.83 368.52L406.00 368.04L406.17 367.86L406.33 368.04L406.50 368.95L406.67 368.79L406.83 366.54L407.00 368.62L407.17 367.86L407.33 368.21L407.50 367.58L407.67 367.21L407.83 369.18L408.00 367.97L408.17 367.55L408.33 368.63L408.50 368.64L408.67 368.88L408.83 367.06L409.00 367.48L409.17 368.35L409.33 368.61L409.50 369.10L409.67 367.80L409.83 366.55L410.00 364.52L410.17 367.75L410.33 368.24L410.50 367.12L410.67 368.25L410.83 369.21L411.00 368.01L411.17 367.77L411.33 367.98L411.50 369.32L411.67 366.89L411.83 366.53L412.00 369.15L412.17 366.11L412.33 369.05L412.50 369.49L412.67 371.12L412.83 368.41L413.00 368.53L413.17 366.24L413.33 370.09L413.50 366.82L413.67 365.12L413.83 370.05L414.00 369.25L414.17 365.66L414.33 366.39L414.50 369.74L414.67 371.54L414.83 365.47L415.00 371.64L415.17 363.18L415.33 366.91L415.50 369.52L415.67 366.35L415.83 366.37L416.00 368.59L416.17 364.14L416.33 367.25L416.50 368.30L416.67 367.70L416.83 369.15L417.00 363.08L417.17 372.20L417.33 366.56L417.50 369.91L417.67 371.42L417.83 371.19L418.00 368.69L418.17 370.09L418.33 367.86L418.50 362.05L418.67 365.98L418.83 369.22L419.00 369.58L419.17 366.72L419.33 369.25L419.50 367.02L419.67 366.15L419.83 368.46L420.00 368.34L420.17 367.02L420.33 367.33L420.50 368.47L420.67 368.12L420.83 369.40L421.00 366.40L421.17 369.47L421.33 365.71L421.50 369.05L421.67 370.09L421.83 366.84L422.00 368.00L422.17 366.45L422.33 365.78L422.50 369.06L422.67 366.78L422.83 366.59L423.00 367.22L423.17 369.72L423.33 366.56L423.50 366.89L423.67 366.70L423.83 366.57L424.00 367.97L424.17 369.50L424.33 366.42L424.50 367.20L424.67 369.20L424.83 369.41L425.00 369.19L425.17 367.89L425.33 367.75L425.50 368.13L425.67 369.23L425.83 368.24L426.00 367.87L426.17 369.59L426.33 366.81L426.50 367.34L426.67 367.13L426.83 368.69L427.00 367.33L427.17 366.93L427.33 370.72L427.50 369.88L427.67 367.30L427.83 367.86L428.00 366.61L428.17 368.22L428.33 369.34L428.50 369.27L428.67 364.57L428.83 365.66L429.00 366.75L429.17 368.33L429.33 367.24L429.50 368.55L429.67 367.84L429.83 371.57L430.00 369.63L430.17 369.34L430.33 366.63L430.50 367.55L430.67 365.59L430.83 367.87L431.00 366.95L431.17 368.10L431.33 366.69L431.50 367.71L431.67 367.17L431.83 369.31L432.00 366.99L432.17 369.76L432.33 369.00L432.50 367.59L432.67 367.74L432.83 367.38L433.00 369.36L433.17 368.42L433.33 368.37L433.50 367.36L433.67 367.85L433.83 368.05L434.00 369.00L434.17 369.23L434.33 368.40L434.50 367.19L434.67 369.14L434.83 366.93L435.00 368.63L435.17 365.25L435.33 367.88L435.50 367.77L435.67 369.56L435.83 368.06L436.00 369.46L436.17 368.55L436.33 368.28L436.50 368.56L436.67 369.55L436.83 368.54L437.00 369.20L437.17 367.04L437.33 368.37L437.50 368.40L437.67 368.09L437.83 367.88L438.00 368.46L438.17 368.28L438.33 367.04L438.50 368.37L438.67 367.84L438.83 368.48L439.00 367.67L439.17 368.14L439.33 369.53L439.50 369.68L439.67 367.78L439.83 367.54L440.00 367.76L440.17 368.03L440.33 367.35L440.50 367.18L440.67 370.14L440.83 369.26L441.00 367.58L441.17 369.43L441.33 369.19L441.50 367.46L441.67 367.15L441.83 368.76L442.00 368.32L442.17 368.64L442.33 367.19L442.50 368.44L442.67 368.37L442.83 369.07L443.00 368.22L443.17 367.43L443.33 369.20L443.50 368.20L443.67 368.82L443.83 367.23L444.00 367.55L444.17 367.18L444.33 367.83L444.50 366.57L444.67 366.53L444.83 368.55L445.00 368.77L445.17 367.14L445.33 368.84L445.50 368.06L445.67 369.53L445.83 368.14L446.00 368.57L446.17 367.45L446.33 368.24L446.50 368.14L446.67 367.88L446.83 366.99L447.00 367.78L447.17 369.04L447.33 368.64L447.50 366.51L447.67 368.01L447.83 368.55L448.00 368.12L448.17 369.77L448.33 367.64L448.50 365.97L448.67 367.61L448.83 367.55L449.00 367.10L449.17 367.72L449.33 366.57L449.50 370.08L449.67 367.64L449.83 368.29L450.00 368.01L450.17 367.03L450.33 368.21L450.50 368.16L450.67 366.50L450.83 367.52L451.00 368.10L451.17 367.19L451.33 367.83L451.50 367.40L451.67 367.97L451.83 368.04L452.00 367.57L452.17 364.72L452.33 368.40L452.50 366.48L452.67 369.14L452.83 368.24L453.00 367.68L453.17 368.06L453.33 369.57L453.50 369.78L453.67 367.29L453.83 368.62L454.00 369.13L454.17 369.09L454.33 367.58L454.50 367.73L454.67 367.85L454.83 369.37L455.00 367.94L455.17 368.26L455.33 366.91L455.50 367.02L455.67 366.79L455.83 366.61L456.00 367.54L456.17 368.91L456.33 368.56L456.50 369.36L456.67 368.58L456.83 368.42L457.00 367.31L457.17 367.22L457.33 367.06L457.50 369.69L457.67 366.96L457.83 367.37L458.00 367.81L458.17 367.42L458.33 367.53L458.50 368.75L458.67 367.46L458.83 366.03L459.00 367.76L459.17 367.74L459.33 368.71L459.50 367.64L459.67 369.83L459.83 367.02L460.00 369.24L460.17 368.04L460.33 367.87L460.50 369.47L460.67 367.81L460.83 369.04L461.00 367.39L461.17 368.73L461.33 368.39L461.50 366.48L461.67 367.74L461.83 367.99L462.00 366.61L462.17 366.84L462.33 368.08L462.50 367.85L462.67 368.24L462.83 367.57L463.00 367.37L463.17 366.95L463.33 366.30L463.50 366.80L463.67 368.90L463.83 368.39L464.00 368.34L464.17 367.27L464.33 367.34L464.50 367.74L464.67 367.22L464.83 368.62L465.00 367.80L465.17 367.58L465.33 368.91L465.50 367.23L465.67 367.47L465.83 367.15L466.00 368.61L466.17 367.94L466.33 369.84L466.50 366.99L466.67 367.74L466.83 367.30L467.00 367.51L467.17 367.81L467.33 369.65L467.50 368.46L467.67 367.68L467.83 367.00L468.00 367.60L468.17 368.82L468.33 368.02L468.50 367.46L468.67 370.23L468.83 368.50L469.00 366.50L469.17 364.91L469.33 365.92L469.50 367.98L469.67 367.43L469.83 367.93L470.00 364.81L470.17 368.19L470.33 368.61L470.50 367.53L470.67 367.38L470.83 368.80L471.00 368.02L471.17 367.18L471.33 366.66L471.50 367.56L471.67 367.42L471.83 367.83L472.00 368.68L472.17 368.60L472.33 368.14L472.50 368.62L472.67 367.82L472.83 366.49L473.00 367.52L473.17 366.71L473.33 366.22L473.50 368.30L473.67 368.89L473.83 368.95L474.00 366.88L474.17 367.24L474.33 367.44L474.50 368.06L474.67 368.55L474.83 368.72L475.00 368.76L475.17 367.39L475.33 368.45L475.50 367.14L475.67 367.22L475.83 368.93L476.00 367.15L476.17 368.97L476.33 369.27L476.50 367.07L476.67 367.61L476.83 368.43L477.00 369.41L477.17 366.68L477.33 368.12L477.50 366.64L477.67 367.73L477.83 370.09L478.00 366.88L478.17 367.84L478.33 367.51L478.50 366.70L478.67 367.52L478.83 367.11L479.00 369.08L479.17 369.05L479.33 368.79L479.50 366.56L479.67 367.71L479.83 367.81L480.00 368.39L480.17 367.28L480.33 368.96L480.50 369.29L480.67 367.30L480.83 368.14L481.00 367.80L481.17 368.10L481.33 367.91L481.50 367.99L481.67 368.67L481.83 367.71L482.00 368.39L482.17 367.91L482.33 367.09L482.50 368.50L482.67 368.87L482.83 367.69L483.00 367.52L483.17 369.34L483.33 367.84L483.50 369.10L483.67 367.81L483.83 368.87L484.00 367.95L484.17 369.06L484.33 367.42L484.50 367.44L484.67 367.24L484.83 367.95L485.00 368.95L485.17 367.23L485.33 367.75L485.50 369.28L485.67 366.91L485.83 368.26L486.00 367.86L486.17 368.04L486.33 367.32L486.50 368.88L486.67 366.87L486.83 368.67L487.00 367.89L487.17 367.95L487.33 369.08L487.50 369.14L487.67 367.04L487.83 368.52L488.00 368.15L488.17 368.28L488.33 368.90L488.50 368.23L488.67 367.53L488.83 368.51L489.00 367.08L489.17 367.87L489.33 369.34L489.50 367.20L489.67 367.42L489.83 369.02L490.00 368.05L490.17 368.18L490.33 367.93L490.50 369.13L490.67 368.76L490.83 366.59L491.00 369.00L491.17 368.17L491.33 368.51L491.50 367.34L491.67 368.67L491.83 367.05L492.00 367.75L492.17 367.37L492.33 366.79L492.50 368.10L492.67 369.55L492.83 367.33L493.00 368.23L493.17 369.02L493.33 368.72L493.50 368.19L493.67 366.85L493.83 367.25L494.00 368.43L494.17 367.01L494.33 366.39L494.50 367.90L494.67 366.48L494.83 366.18L495.00 368.40L495.17 368.17L495.33 368.73L495.50 367.49L495.67 368.22L495.83 368.12L496.00 369.29L496.17 368.20L496.33 367.80L496.50 366.88L496.67 369.95L496.83 368.05L497.00 368.15L497.17 366.51L497.33 367.86L497.50 368.07L497.67 368.20L497.83 367.78L498.00 368.32L498.17 367.70L498.33 368.22L498.50 367.47L498.67 366.42L498.83 369.31L499.00 367.84L499.17 367.88L499.33 368.43L499.50 369.07L499.67 367.13L499.83 366.38L500.00 368.08L500.17 368.63L500.33 367.66L500.50 368.38L500.67 366.61L500.83 368.64L501.00 367.01L501.17 368.03L501.33 369.05L501.50 367.96L501.67 369.36L501.83 371.41L502.00 368.15L502.17 368.82L502.33 365.06L502.50 366.68L502.67 368.02L502.83 369.15L503.00 368.57L503.17 368.85L503.33 367.69L503.50 367.71L503.67 367.78L503.83 367.91L504.00 369.01L504.17 368.02L504.33 367.01L504.50 368.36L504.67 368.65L504.83 367.60L505.00 367.76L505.17 368.98L505.33 368.26L505.50 367.61L505.67 368.32L505.83 367.75L506.00 368.56L506.17 367.91L506.33 367.79L506.50 367.75L506.67 368.96L506.83 368.36L507.00 368.14L507.17 367.68L507.33 367.54L507.50 368.77L507.67 369.25L507.83 369.23L508.00 368.53L508.17 365.94L508.33 368.92L508.50 367.56L508.67 367.54L508.83 368.78L509.00 367.70L509.17 369.70L509.33 365.64L509.50 369.42L509.67 368.24L509.83 369.22L510.00 367.94L510.17 368.32L510.33 367.76L510.50 368.93L510.67 368.98L510.83 367.43L511.00 367.91L511.17 367.73L511.33 368.46L511.50 367.74L511.67 368.02L511.83 367.97L512.00 368.57L512.17 367.81L512.33 368.20L512.50 368.17L512.67 367.08L512.83 369.05L513.00 368.70L513.17 367.93L513.33 368.10L513.50 367.82L513.67 369.37L513.83 368.07L514.00 368.11L514.17 367.23L514.33 368.79L514.50 368.42L514.67 368.40L514.83 367.27L515.00 367.85L515.17 367.87L515.33 366.47L515.50 366.52L515.67 367.38L515.83 367.08L516.00 365.97L516.17 368.59L516.33 369.01L516.50 368.17L516.67 367.57L516.83 367.97L517.00 367.18L517.17 368.37L517.33 366.43L517.50 365.83L517.67 367.76L517.83 367.62L518.00 368.67L518.17 368.64L518.33 368.49L518.50 369.34L518.67 367.98L518.83 368.73L519.00 368.38L519.17 367.76L519.33 366.82L519.50 366.36L519.67 366.48L519.83 366.94L520.00 368.76L520.17 368.13L520.33 366.62L520.50 367.76L520.67 367.46L520.83 367.90L521.00 368.32L521.17 367.05L521.33 368.04L521.50 368.02L521.67 367.60L521.83 368.82L522.00 368.45L522.17 368.09L522.33 367.09L522.50 368.87L522.67 367.93L522.83 368.23L523.00 368.80L523.17 367.92L523.33 367.23L523.50 367.80L523.67 369.95L523.83 367.68L524.00 368.38L524.17 368.74L524.33 369.58L524.50 367.41L524.67 367.89L524.83 368.74L525.00 367.82L525.17 367.92L525.33 366.54L525.50 368.09L525.67 368.01L525.83 367.70L526.00 366.72L526.17 369.27L526.33 367.99L526.50 366.61L526.67 368.55L526.83 367.77L527.00 369.16L527.17 367.91L527.33 367.87L527.50 368.49L527.67 367.41L527.83 368.24L528.00 368.75L528.17 367.48L528.33 366.47L528.50 368.47L528.67 369.94L528.83 368.79L529.00 369.34L529.17 367.69L529.33 368.96L529.50 368.50L529.67 368.87L529.83 367.62L530.00 367.87L530.17 369.41L530.33 368.77L530.50 367.98L530.67 366.41L530.83 368.06L531.00 368.19L531.17 368.03L531.33 369.08L531.50 368.48L531.67 367.31L531.83 368.01L532.00 367.31L532.17 368.08L532.33 366.73L532.50 368.42L532.67 369.07L532.83 368.35L533.00 367.71L533.17 366.36L533.33 366.48L533.50 367.90L533.67 369.31L533.83 369.47L534.00 368.31L534.17 367.35L534.33 368.06L534.50 369.35L534.67 367.32L534.83 368.10L535.00 365.89L535.17 367.51L535.33 367.49L535.50 368.16L535.67 368.53L535.83 367.99L536.00 366.13L536.17 367.45L536.33 369.81L536.50 368.24L536.67 366.79L536.83 368.06L537.00 367.74L537.17 368.33L537.33 368.06L537.50 367.30L537.67 366.54L537.83 367.98L538.00 367.27L538.17 367.16L538.33 368.22L538.50 367.63L538.67 367.12L538.83 368.44L539.00 367.73L539.17 368.60L539.33 368.05L539.50 367.64L539.67 367.06L539.83 368.38L540.00 367.97L540.17 369.39L540.33 367.10L540.50 367.99L540.67 368.41L540.83 367.36L541.00 369.38L541.17 367.77L541.33 367.39L541.50 367.34L541.67 367.86L541.83 367.44L542.00 367.46L542.17 368.58L542.33 367.84L542.50 369.38L542.67 366.20L542.83 368.78L543.00 366.86L543.17 368.65L543.33 367.35L543.50 367.03L543.67 367.87L543.83 368.59L544.00 367.57L544.17 368.33L544.33 369.00L544.50 367.49L544.67 368.50L544.83 366.84L545.00 366.28L545.17 367.23L545.33 368.14L545.50 368.47L545.67 366.83L545.83 369.50L546.00 368.33L546.17 368.70L546.33 367.68L546.50 368.64L546.67 368.45L546.83 369.08L547.00 366.34L547.17 367.02L547.33 368.01L547.50 367.82L547.67 368.00L547.83 369.35L548.00 367.66L548.17 365.58L548.33 369.31L548.50 366.28L548.67 368.76L548.83 366.84L549.00 368.40L549.17 367.11L549.33 368.66L549.50 367.80L549.67 367.46L549.83 369.36L550.00 366.70L550.17 367.77L550.33 368.79L550.50 367.82L550.67 369.68L550.83 369.37L551.00 369.80L551.17 367.95L551.33 367.92L551.50 368.02L551.67 370.17L551.83 367.16L552.00 367.55L552.17 366.36L552.33 368.24L552.50 367.33L552.67 366.67L552.83 367.34L553.00 368.92L553.17 367.36L553.33 368.17L553.50 366.77L553.67 366.39L553.83 367.14L554.00 367.94L554.17 368.46L554.33 367.39L554.50 369.03L554.67 369.90L554.83 368.48L555.00 368.48L555.17 368.80L555.33 368.04L555.50 367.58L555.67 367.16L555.83 367.49L556.00 368.47L556.17 366.71L556.33 367.21L556.50 368.55L556.67 367.63L556.83 368.63L557.00 369.14L557.17 367.56L557.33 369.43L557.50 367.18L557.67 367.41L557.83 368.09L558.00 368.00L558.17 367.33L558.33 367.95L558.50 368.91L558.67 369.47L558.83 367.20L559.00 366.62L559.17 366.83L559.33 368.25L559.50 367.32L559.67 367.73L559.83 367.16L560.00 369.58L560.17 368.71L560.33 367.38L560.50 366.04L560.67 367.08L560.83 367.87L561.00 368.21L561.17 367.95L561.33 367.04L561.50 367.32L561.67 367.94L561.83 368.38L562.00 367.15L562.17 367.57L562.33 368.54L562.50 368.95L562.67 368.74L562.83 367.40L563.00 365.85L563.17 367.70L563.33 368.67L563.50 367.83L563.67 368.12L563.83 367.81L564.00 367.07L564.17 368.34L564.33 367.31L564.50 366.35L564.67 367.00L564.83 369.09L565.00 368.47L565.17 367.14L565.33 368.65L565.50 366.25L565.67 368.03L565.83 366.68L566.00 368.64L566.17 368.18L566.33 367.08L566.50 368.24L566.67 367.79L566.83 367.97L567.00 367.06L567.17 367.14L567.33 366.40L567.50 368.87L567.67 369.86L567.83 368.64L568.00 367.90L568.17 367.81L568.33 366.38L568.50 366.15L568.67 369.58L568.83 366.37L569.00 367.29L569.17 366.14L569.33 367.53L569.50 369.43L569.67 368.20L569.83 369.05L570.00 368.46L570.17 369.87L570.33 368.45L570.50 367.77L570.67 368.73L570.83 366.33L571.00 368.81L571.17 367.33L571.33 366.57L571.50 367.24L571.67 367.14L571.83 368.17L572.00 368.31L572.17 366.32L572.33 367.00L572.50 369.23L572.67 368.10L572.83 368.09L573.00 369.09L573.17 366.63L573.33 366.38L573.50 368.30L573.67 367.57L573.83 368.65L574.00 366.95L574.17 369.14L574.33 367.10L574.50 368.05L574.67 366.50L574.83 369.61L575.00 368.39L575.17 367.96L575.33 367.91L575.50 369.09L575.67 366.45L575.83 367.79L576.00 367.65L576.17 368.64L576.33 368.98L576.50 366.22L576.67 368.12L576.83 368.37L577.00 368.94L577.17 366.40L577.33 368.47L577.50 369.84L577.67 368.40L577.83 367.83L578.00 367.06L578.17 368.35L578.33 368.16L578.50 369.72L578.67 366.64L578.83 369.33L579.00 369.05L579.17 367.56L579.33 368.25L579.50 367.52L579.67 367.71L579.83 368.47L580.00 368.73L580.17 368.65L580.33 369.08L580.50 367.99L580.67 368.11L580.83 368.64L581.00 370.70L581.17 367.26L581.33 368.92L581.50 366.13L581.67 369.35L581.83 367.94L582.00 366.99L582.17 368.89L582.33 369.96L582.50 366.73L582.67 364.66L582.83 370.95L583.00 368.21L583.17 366.67L583.33 369.63L583.50 367.09L583.67 367.64L583.83 367.64L584.00 366.61L584.17 367.70L584.33 367.30L584.50 371.64L584.67 368.26L584.83 367.97L585.00 364.18L585.17 366.30L585.33 366.66L585.50 369.10L585.67 371.60L585.83 367.48L586.00 368.32L586.17 365.44L586.33 369.93L586.50 369.43L586.67 368.55L586.83 370.29L587.00 367.26L587.17 367.85L587.33 367.06L587.50 367.24L587.67 367.52L587.83 366.64L588.00 368.24L588.17 367.99L588.33 368.10L588.50 368.77L588.67 366.76L588.83 368.45L589.00 368.77L589.17 367.23L589.33 368.60L589.50 370.63L589.67 368.71L589.83 367.53L590.00 366.30L590.17 366.76L590.33 367.67L590.50 368.56L590.67 366.48L590.83 368.25L591.00 368.82L591.17 367.21L591.33 367.87L591.50 366.61L591.67 368.91L591.83 367.30L592.00 368.13L592.17 367.30L592.33 367.95L592.50 367.11L592.67 368.19L592.83 367.21L593.00 368.94L593.17 368.52L593.33 369.08L593.50 367.92L593.67 368.22L593.83 367.18L594.00 366.79L594.17 369.95L594.33 368.20L594.50 368.31L594.67 368.79L594.83 367.30L595.00 369.94L595.17 368.07L595.33 369.19L595.50 367.45L595.67 367.65L595.83 370.02L596.00 367.85L596.17 368.01L596.33 366.23L596.50 367.86L596.67 368.83L596.83 365.92L597.00 367.05L597.17 367.46L597.33 366.92L597.50 368.55L597.67 367.73L597.83 367.80L598.00 367.92L598.17 367.26L598.33 367.36L598.50 367.64L598.67 368.35L598.83 367.64L599.00 368.23L599.17 368.66L599.33 367.92L599.50 367.93L599.67 368.10L599.83 367.63L600.00 367.58L600.17 368.27L600.33 366.40L600.50 367.35L600.67 367.80L600.83 367.70L601.00 367.90L601.17 364.68L601.33 368.07L601.50 367.82L601.67 368.87L601.83 369.56L602.00 366.28L602.17 368.51L602.33 366.43L602.50 369.60L602.67 366.85L602.83 367.36L603.00 367.34L603.17 366.47L603.33 367.86L603.50 368.91L603.67 368.13L603.83 370.66L604.00 368.22L604.17 368.55L604.33 367.94L604.50 366.76L604.67 368.30L604.83 366.28L605.00 369.06L605.17 367.39L605.33 367.80L605.50 367.40L605.67 366.95L605.83 368.30L606.00 367.57L606.17 367.61L606.33 368.30L606.50 368.48L606.67 366.89L606.83 368.56L607.00 366.20L607.17 368.53L607.33 367.48L607.50 369.07L607.67 368.68L607.83 367.28L608.00 366.80L608.17 367.84L608.33 367.27L608.50 369.34L608.67 369.61L608.83 366.54L609.00 368.28L609.17 366.21L609.33 367.62L609.50 367.97L609.67 366.74L609.83 367.59L610.00 368.56L610.17 367.72L610.33 368.20L610.50 366.87L610.67 367.36L610.83 366.96L611.00 366.58L611.17 368.11L611.33 368.01L611.50 368.47L611.67 368.38L611.83 367.66L612.00 367.41L612.17 367.14L612.33 368.43L612.50 367.56L612.67 369.09L612.83 368.76L613.00 367.23L613.17 369.18L613.33 362.77L613.50 373.04L613.67 372.32L613.83 362.05L614.00 363.72L614.17 370.18L614.33 365.63L614.50 365.72L614.67 365.15L614.83 370.84L615.00 370.31L615.17 368.97L615.33 368.54L615.50 370.03L615.67 370.78L615.83 366.62L616.00 366.89L616.17 366.43L616.33 368.17L616.50 368.29L616.67 367.97L616.83 369.41L617.00 367.08L617.17 369.11L617.33 367.19L617.50 368.83L617.67 368.01L617.83 368.56L618.00 369.20L618.17 365.05L618.33 366.18L618.50 369.96L618.67 368.25L618.83 368.47L619.00 367.34L619.17 369.42L619.33 369.37L619.50 364.42L619.67 367.48L619.83 366.67L620.00 366.45L620.17 364.07L620.33 367.73L620.50 367.74L620.67 368.71L620.83 366.29L621.00 367.32L621.17 368.06L621.33 368.59L621.50 370.03L621.67 368.59L621.83 367.39L622.00 366.43L622.17 368.19L622.33 368.32L622.50 368.54L622.67 367.88L622.83 369.51L623.00 368.33L623.17 367.57L623.33 369.97L623.50 368.60L623.67 368.96L623.83 367.27L624.00 366.62L624.17 368.90L624.33 368.04L624.50 367.93L624.67 368.46L624.83 366.82L625.00 367.85L625.17 369.02L625.33 369.02L625.50 366.79L625.67 367.22L625.83 368.22L626.00 368.96L626.17 367.74L626.33 369.00L626.50 368.24L626.67 368.30L626.83 367.99L627.00 366.87L627.17 368.48L627.33 367.45L627.50 369.18L627.67 367.58L627.83 369.60L628.00 367.66L628.17 367.51L628.33 368.90L628.50 368.19L628.67 367.95L628.83 368.74L629.00 366.91L629.17 367.52L629.33 368.32L629.50 367.61L629.67 367.59L629.83 366.64L630.00 369.56L630.17 366.81L630.33 367.77L630.50 366.83L630.67 368.41L630.83 367.10L631.00 366.52L631.17 368.96L631.33 369.06L631.50 369.01L631.67 369.51L631.83 366.62L632.00 367.79L632.17 365.50L632.33 368.73L632.50 365.46L632.67 369.29L632.83 364.06L633.00 365.97L633.17 368.78L633.33 365.98L633.50 366.52L633.67 368.01L633.83 368.97L634.00 371.80L634.17 371.57L634.33 370.13L634.50 371.81L634.67 367.61L634.83 369.08L635.00 367.87L635.17 367.54L635.33 367.71L635.50 366.21L635.67 367.72L635.83 369.45L636.00 369.08L636.17 369.09L636.33 366.34L636.50 367.73L636.67 369.47L636.83 366.91L637.00 369.01L637.17 367.65L637.33 368.78L637.50 367.82L637.67 368.85L637.83 365.91L638.00 368.66L638.17 365.78L638.33 369.73L638.50 367.83L638.67 367.45L638.83 370.66L639.00 369.30L639.17 370.95L639.33 366.13L639.50 370.84L639.67 368.91L639.83 366.26L640.00 369.56L640.17 366.91L640.33 367.70L640.50 368.60L640.67 368.27L640.83 370.83L641.00 365.25L641.17 371.74L641.33 369.46L641.50 368.35L641.67 370.84L641.83 366.91L642.00 368.04L642.17 368.54L642.33 367.39L642.50 371.01L642.67 366.76L642.83 369.27L643.00 368.80L643.17 367.93L643.33 369.49L643.50 366.87L643.67 368.57L643.83 366.23L644.00 367.32L644.17 369.43L644.33 366.21L644.50 369.28L644.67 366.04L644.83 366.39L645.00 368.17L645.17 366.15L645.33 365.63L645.50 368.35L645.67 367.93L645.83 369.22L646.00 367.93L646.17 367.77L646.33 367.87L646.50 368.63L646.67 368.39L646.83 368.00L647.00 367.10L647.17 368.36L647.33 368.05L647.50 369.52L647.67 369.95L647.83 369.01L648.00 368.03L648.17 367.29L648.33 369.08L648.50 365.83L648.67 368.66L648.83 367.25L649.00 368.22L649.17 368.03L649.33 366.93L649.50 367.97L649.67 367.13L649.83 367.75L650.00 367.49L650.17 367.60L650.33 370.00L650.50 367.53L650.67 367.10L650.83 367.90L651.00 367.50L651.17 368.84L651.33 366.99L651.50 369.35L651.67 368.16L651.83 367.04L652.00 368.34L652.17 365.73L652.33 364.42L652.50 368.46L652.67 367.51L652.83 368.00L653.00 367.76L653.17 367.18L653.33 367.28L653.50 369.38L653.67 369.87L653.83 369.20L654.00 369.41L654.17 369.47L654.33 367.30L654.50 368.22L654.67 369.50L654.83 369.20L655.00 367.46L655.17 365.48L655.33 367.24L655.50 368.67L655.67 368.61L655.83 366.31L656.00 367.39L656.17 368.32L656.33 369.00L656.50 367.69L656.67 368.24L656.83 368.43L657.00 367.34L657.17 369.61L657.33 367.95L657.50 367.39L657.67 368.07L657.83 369.16L658.00 368.12L658.17 366.54L658.33 368.19L658.50 367.67" stroke="#00f" stroke-width="0.37" fill="none" stroke-linejoin="round"/><path d="M192.5 356.00V379.80M265.5 363.00V370.00M272.5 363.00V371.00M278.5 364.00V372.00M287.5 360.50V379.50M295.5 361.00V373.00M303.5 362.00V373.00M307.5 357.50V374.50M312.5 362.00V371.00M316.5 362.50V370.50M320.5 352.50V375.50M329.5 363.00V369.00M337.5 361.50V369.00M356.5 335.20V388.50M359.5 342.80V397.10M373.5 363.00V369.00M395.5 363.50V369.00M414.5 356.50V375.50M416.5 360.50V376.50M462.5 361.50V369.00M468.5 362.50V371.50M473.5 362.50V369.00M484.5 363.50V369.00M504.5 361.00V371.50M508.5 362.50V369.50M517.5 364.00V370.00M522.5 363.50V369.00M530.5 363.00V371.00M538.5 364.00V370.00M613.5 344.50V395.70M614.5 359.00V384.00" stroke="#00f" stroke-width="0.4" fill="none"/><path d="M612.5 363.84V371.42M613.5 353.46V378.67M614.5 361.37V373.75M615.5 363.09V372.55M616.5 364.95V370.08M617.5 365.78V369.69M618.5 366.95V369.00M619.5 367.29V368.48M619.5 364.74V371.26M620.5 365.16V370.48M621.5 366.74V369.00M633.5 365.52V371.52M634.5 364.66V370.96M635.5 366.30V369.21M636.5 367.32V368.78M639.5 366.99V368.81M640.5 363.81V372.87M641.5 366.03V370.13M642.5 367.03V368.66M583.5 367.39V368.75M584.5 364.95V370.54M585.5 366.23V369.64M586.5 366.64V368.91M191.5 366.01V370.68M192.5 365.72V370.88M193.5 367.30V368.89M421.5 367.08V368.96M422.5 364.97V370.48M423.5 366.11V370.17M424.5 366.61V369.54M425.5 367.14V369.27M426.5 367.25V368.83M427.5 367.57V368.62M285.5 366.67V369.66M286.5 364.28V371.26M287.5 365.14V371.62M288.5 366.55V370.24M289.5 366.67V369.02M290.5 367.39V368.71M296.5 366.95V368.71M297.5 366.68V369.65M298.5 364.68V371.19M299.5 365.05V371.39M300.5 365.46V371.25M301.5 366.17V370.16M302.5 366.34V369.60M303.5 366.78V369.06M304.5 367.23V368.94M305.5 367.35V368.53M414.5 365.04V370.25M415.5 365.90V369.99M416.5 366.74V369.03M380.5 366.65V369.18M381.5 364.80V370.10M382.5 366.23V369.90M383.5 366.99V369.25M384.5 367.39V368.48M185.5 365.32V370.64M186.5 364.72V371.13M187.5 366.45V369.27M188.5 367.01V369.10M189.5 367.54V368.70" stroke="#00f" stroke-width="1" fill="none" opacity="0.85"/>
<path d="M184.5 295.0V441.0" stroke="#a8a8a8" stroke-width="1" fill="none"/>
<path d="M185.0 295.5H658.5V440.5H185.0" stroke="#bdbdbd" stroke-width="1" fill="none"/>
<text class="e" x="181" y="304.2">5</text>
<text class="e" x="181" y="376.7">0</text>
<text class="e" x="181" y="449.2">-5</text>
<text class="m" x="184.5" y="466.8">00:00</text>
<text class="m" x="303.0" y="466.8">06:00</text>
<text class="m" x="421.5" y="466.8">12:00</text>
<text class="m" x="540.0" y="466.8">18:00</text>
<text class="m" x="658.5" y="466.8">24:00</text>
<text class="b m" transform="translate(151 368.5) rotate(-90)">Y (nT)</text>
<path d="M302.5 676.5v-5M302.5 531.5v5M421.5 676.5v-5M421.5 531.5v5M540.5 676.5v-5M540.5 531.5v5M184.5 604.0h5M658.5 604.0h-5" stroke="#b0b0b0" stroke-width="1" fill="none" opacity="0.8"/>
<path d="M185.0 604.00H658.0" stroke="#00f" stroke-width="4.80" fill="none"/><path d="M184.50 604.16L184.67 606.83L184.83 603.33L185.00 606.33L185.17 606.26L185.33 605.28L185.50 606.29L185.67 607.35L185.83 603.43L186.00 604.12L186.17 604.94L186.33 603.00L186.50 605.03L186.67 605.01L186.83 601.16L187.00 602.35L187.17 606.80L187.33 605.55L187.50 604.17L187.67 601.85L187.83 606.79L188.00 601.35L188.17 602.93L188.33 605.66L188.50 605.90L188.67 601.44L188.83 604.96L189.00 604.24L189.17 608.56L189.33 605.19L189.50 604.51L189.67 601.90L189.83 601.26L190.00 607.14L190.17 601.40L190.33 604.50L190.50 603.36L190.67 602.50L190.83 602.97L191.00 600.40L191.17 603.43L191.33 602.45L191.50 605.02L191.67 605.45L191.83 600.33L192.00 605.61L192.17 604.45L192.33 607.10L192.50 600.13L192.67 604.26L192.83 600.74L193.00 602.06L193.17 605.15L193.33 606.99L193.50 604.05L193.67 603.74L193.83 604.48L194.00 604.08L194.17 605.47L194.33 604.49L194.50 599.99L194.67 604.18L194.83 603.49L195.00 603.85L195.17 607.17L195.33 608.16L195.50 604.76L195.67 604.42L195.83 604.39L196.00 602.25L196.17 604.48L196.33 604.94L196.50 605.22L196.67 604.45L196.83 602.85L197.00 605.77L197.17 604.88L197.33 603.42L197.50 604.32L197.67 601.69L197.83 604.88L198.00 605.07L198.17 605.48L198.33 603.42L198.50 604.45L198.67 601.64L198.83 603.86L199.00 605.90L199.17 602.18L199.33 603.70L199.50 601.21L199.67 607.39L199.83 600.70L200.00 607.03L200.17 602.22L200.33 603.71L200.50 603.78L200.67 603.58L200.83 602.47L201.00 605.39L201.17 604.50L201.33 602.78L201.50 602.01L201.67 605.25L201.83 602.74L202.00 603.23L202.17 596.36L202.33 606.36L202.50 601.76L202.67 606.01L202.83 603.69L203.00 602.96L203.17 602.53L203.33 606.47L203.50 602.78L203.67 602.25L203.83 605.94L204.00 599.77L204.17 606.32L204.33 601.89L204.50 601.85L204.67 608.31L204.83 607.86L205.00 605.09L205.17 603.37L205.33 605.87L205.50 605.28L205.67 604.25L205.83 601.90L206.00 606.02L206.17 603.25L206.33 605.54L206.50 603.22L206.67 605.47L206.83 603.51L207.00 602.76L207.17 605.81L207.33 604.50L207.50 605.01L207.67 605.61L207.83 604.34L208.00 605.29L208.17 605.52L208.33 605.32L208.50 606.80L208.67 603.98L208.83 601.69L209.00 603.26L209.17 603.97L209.33 605.43L209.50 605.79L209.67 604.87L209.83 602.19L210.00 600.92L210.17 604.13L210.33 604.25L210.50 603.29L210.67 601.39L210.83 610.06L211.00 604.81L211.17 600.87L211.33 603.33L211.50 605.79L211.67 602.17L211.83 601.07L212.00 602.44L212.17 601.89L212.33 605.40L212.50 601.95L212.67 601.37L212.83 605.54L213.00 604.21L213.17 602.69L213.33 604.73L213.50 605.37L213.67 604.41L213.83 600.88L214.00 606.15L214.17 603.57L214.33 602.74L214.50 605.33L214.67 604.45L214.83 603.02L215.00 605.10L215.17 603.60L215.33 602.49L215.50 602.74L215.67 603.49L215.83 603.84L216.00 602.66L216.17 601.93L216.33 605.03L216.50 606.24L216.67 606.10L216.83 604.96L217.00 606.24L217.17 603.22L217.33 603.17L217.50 605.56L217.67 603.03L217.83 602.44L218.00 606.00L218.17 602.35L218.33 604.07L218.50 605.20L218.67 606.81L218.83 605.68L219.00 603.03L219.17 601.47L219.33 605.11L219.50 603.72L219.67 602.42L219.83 604.57L220.00 604.48L220.17 602.56L220.33 606.52L220.50 607.37L220.67 603.56L220.83 604.96L221.00 606.04L221.17 603.38L221.33 601.26L221.50 603.76L221.67 603.80L221.83 603.61L222.00 604.15L222.17 604.83L222.33 603.94L222.50 604.05L222.67 604.16L222.83 602.45L223.00 602.29L223.17 603.38L223.33 602.04L223.50 603.71L223.67 602.99L223.83 606.53L224.00 604.52L224.17 603.25L224.33 604.34L224.50 603.44L224.67 605.47L224.83 606.15L225.00 603.63L225.17 605.08L225.33 600.83L225.50 605.67L225.67 603.80L225.83 603.50L226.00 604.48L226.17 603.50L226.33 603.86L226.50 603.01L226.67 602.59L226.83 603.58L227.00 604.32L227.17 605.18L227.33 602.34L227.50 599.96L227.67 606.70L227.83 599.99L228.00 604.88L228.17 603.38L228.33 603.50L228.50 602.38L228.67 604.74L228.83 603.34L229.00 605.25L229.17 601.07L229.33 607.09L229.50 606.87L229.67 602.07L229.83 602.49L230.00 603.54L230.17 604.06L230.33 603.64L230.50 603.91L230.67 608.92L230.83 604.96L231.00 603.29L231.17 602.20L231.33 603.63L231.50 602.77L231.67 604.98L231.83 604.14L232.00 603.74L232.17 603.20L232.33 601.98L232.50 605.40L232.67 601.20L232.83 599.42L233.00 605.60L233.17 604.48L233.33 604.71L233.50 601.48L233.67 601.60L233.83 604.54L234.00 603.24L234.17 604.55L234.33 605.67L234.50 603.69L234.67 601.68L234.83 606.57L235.00 604.33L235.17 602.53L235.33 601.50L235.50 606.27L235.67 602.26L235.83 603.87L236.00 605.67L236.17 602.15L236.33 604.42L236.50 604.52L236.67 603.05L236.83 603.90L237.00 603.94L237.17 604.87L237.33 603.33L237.50 603.59L237.67 605.00L237.83 604.33L238.00 603.48L238.17 603.69L238.33 604.73L238.50 600.89L238.67 607.51L238.83 603.42L239.00 603.18L239.17 604.31L239.33 603.57L239.50 605.12L239.67 606.33L239.83 602.74L240.00 606.27L240.17 604.60L240.33 604.94L240.50 604.56L240.67 601.75L240.83 604.85L241.00 603.33L241.17 603.90L241.33 599.56L241.50 604.61L241.67 602.93L241.83 604.38L242.00 605.38L242.17 603.90L242.33 601.90L242.50 605.74L242.67 604.38L242.83 606.37L243.00 605.50L243.17 606.17L243.33 610.09L243.50 604.43L243.67 608.39L243.83 603.60L244.00 603.68L244.17 603.85L244.33 606.26L244.50 604.08L244.67 606.10L244.83 604.64L245.00 602.85L245.17 606.63L245.33 605.39L245.50 605.21L245.67 604.64L245.83 604.33L246.00 602.90L246.17 603.30L246.33 605.75L246.50 607.75L246.67 603.26L246.83 605.04L247.00 604.57L247.17 603.36L247.33 604.81L247.50 603.86L247.67 601.34L247.83 607.42L248.00 603.70L248.17 606.10L248.33 602.57L248.50 605.16L248.67 603.35L248.83 602.23L249.00 604.77L249.17 604.36L249.33 601.13L249.50 602.03L249.67 604.81L249.83 602.66L250.00 603.59L250.17 603.70L250.33 605.82L250.50 602.79L250.67 602.54L250.83 600.84L251.00 604.63L251.17 604.70L251.33 604.98L251.50 606.52L251.67 603.70L251.83 600.94L252.00 602.25L252.17 600.52L252.33 603.43L252.50 604.59L252.67 603.34L252.83 601.85L253.00 605.73L253.17 604.91L253.33 604.15L253.50 604.62L253.67 601.85L253.83 604.78L254.00 605.30L254.17 607.23L254.33 603.00L254.50 604.31L254.67 605.28L254.83 602.03L255.00 600.91L255.17 606.21L255.33 601.98L255.50 604.60L255.67 604.34L255.83 603.28L256.00 603.58L256.17 603.36L256.33 602.49L256.50 605.85L256.67 601.79L256.83 607.54L257.00 601.58L257.17 604.75L257.33 602.47L257.50 607.47L257.67 602.48L257.83 603.70L258.00 602.73L258.17 602.35L258.33 603.47L258.50 602.81L258.67 605.24L258.83 603.59L259.00 606.13L259.17 600.00L259.33 604.46L259.50 602.34L259.67 604.79L259.83 603.59L260.00 603.47L260.17 604.18L260.33 604.67L260.50 603.30L260.67 605.45L260.83 604.90L261.00 605.03L261.17 602.00L261.33 605.50L261.50 604.71L261.67 601.17L261.83 603.37L262.00 606.89L262.17 604.76L262.33 602.89L262.50 604.04L262.67 603.52L262.83 603.99L263.00 607.54L263.17 606.67L263.33 601.95L263.50 602.61L263.67 604.18L263.83 608.03L264.00 602.95L264.17 603.67L264.33 603.60L264.50 603.90L264.67 603.90L264.83 607.02L265.00 603.51L265.17 605.83L265.33 602.26L265.50 602.55L265.67 604.30L265.83 604.22L266.00 603.04L266.17 602.49L266.33 605.04L266.50 604.08L266.67 604.42L266.83 603.50L267.00 601.58L267.17 604.27L267.33 601.53L267.50 601.89L267.67 606.43L267.83 605.15L268.00 608.20L268.17 604.57L268.33 605.19L268.50 605.34L268.67 606.66L268.83 605.86L269.00 605.11L269.17 601.41L269.33 604.49L269.50 603.66L269.67 604.83L269.83 602.95L270.00 604.60L270.17 605.47L270.33 604.74L270.50 604.99L270.67 605.54L270.83 603.05L271.00 607.79L271.17 603.80L271.33 603.36L271.50 602.87L271.67 603.62L271.83 602.45L272.00 606.12L272.17 604.31L272.33 604.52L272.50 605.62L272.67 602.84L272.83 603.74L273.00 603.97L273.17 606.53L273.33 600.73L273.50 606.61L273.67 604.32L273.83 603.98L274.00 603.96L274.17 604.72L274.33 599.10L274.50 605.02L274.67 603.00L274.83 605.70L275.00 604.55L275.17 603.56L275.33 604.16L275.50 600.00L275.67 605.65L275.83 606.02L276.00 606.00L276.17 603.96L276.33 607.85L276.50 601.16L276.67 604.73L276.83 602.01L277.00 604.01L277.17 605.61L277.33 605.23L277.50 603.69L277.67 602.86L277.83 604.23L278.00 603.09L278.17 606.69L278.33 603.34L278.50 603.06L278.67 601.80L278.83 603.24L279.00 606.24L279.17 605.23L279.33 602.43L279.50 605.96L279.67 603.72L279.83 603.76L280.00 600.28L280.17 607.10L280.33 605.28L280.50 603.31L280.67 605.44L280.83 606.64L281.00 602.95L281.17 604.26L281.33 601.10L281.50 603.39L281.67 604.41L281.83 601.27L282.00 603.91L282.17 602.64L282.33 604.79L282.50 604.10L282.67 605.76L282.83 601.83L283.00 602.24L283.17 603.05L283.33 605.51L283.50 604.37L283.67 602.45L283.83 604.36L284.00 603.26L284.17 600.20L284.33 604.47L284.50 603.96L284.67 604.78L284.83 603.52L285.00 603.63L285.17 607.54L285.33 603.89L285.50 601.50L285.67 603.24L285.83 605.28L286.00 606.37L286.17 602.71L286.33 605.09L286.50 604.45L286.67 605.78L286.83 604.03L287.00 605.87L287.17 606.71L287.33 603.52L287.50 605.48L287.67 602.94L287.83 607.86L288.00 600.59L288.17 600.91L288.33 605.66L288.50 604.99L288.67 603.82L288.83 603.53L289.00 600.49L289.17 606.04L289.33 602.13L289.50 605.49L289.67 604.56L289.83 604.32L290.00 603.20L290.17 604.26L290.33 604.32L290.50 600.94L290.67 602.14L290.83 604.17L291.00 607.21L291.17 604.23L291.33 602.12L291.50 602.97L291.67 607.23L291.83 603.71L292.00 607.17L292.17 608.27L292.33 605.70L292.50 602.66L292.67 600.88L292.83 605.38L293.00 606.11L293.17 606.44L293.33 602.43L293.50 607.01L293.67 601.38L293.83 606.09L294.00 602.85L294.17 605.01L294.33 604.38L294.50 606.13L294.67 604.83L294.83 602.17L295.00 604.35L295.17 603.14L295.33 603.60L295.50 601.46L295.67 606.01L295.83 604.52L296.00 603.98L296.17 605.48L296.33 605.41L296.50 605.13L296.67 605.27L296.83 602.58L297.00 600.35L297.17 604.53L297.33 607.06L297.50 599.65L297.67 605.70L297.83 605.50L298.00 605.12L298.17 605.36L298.33 606.06L298.50 605.38L298.67 602.26L298.83 600.75L299.00 605.34L299.17 604.76L299.33 602.78L299.50 602.46L299.67 602.69L299.83 604.11L300.00 598.90L300.17 601.91L300.33 603.88L300.50 602.04L300.67 602.56L300.83 603.32L301.00 604.73L301.17 604.84L301.33 603.90L301.50 602.81L301.67 606.29L301.83 604.19L302.00 603.00L302.17 601.29L302.33 603.44L302.50 601.89L302.67 604.84L302.83 604.74L303.00 603.06L303.17 603.63L303.33 603.92L303.50 602.37L303.67 604.10L303.83 602.87L304.00 605.21L304.17 603.92L304.33 604.27L304.50 604.56L304.67 601.16L304.83 603.11L305.00 605.77L305.17 605.50L305.33 605.22L305.50 600.97L305.67 603.75L305.83 601.35L306.00 602.61L306.17 604.74L306.33 606.85L306.50 602.51L306.67 605.27L306.83 602.27L307.00 604.61L307.17 599.11L307.33 605.92L307.50 605.94L307.67 603.58L307.83 602.13L308.00 605.79L308.17 600.73L308.33 602.23L308.50 603.88L308.67 603.39L308.83 603.24L309.00 602.89L309.17 602.99L309.33 601.37L309.50 602.28L309.67 604.08L309.83 604.32L310.00 606.88L310.17 601.82L310.33 602.63L310.50 603.29L310.67 605.01L310.83 603.48L311.00 602.42L311.17 599.48L311.33 606.91L311.50 603.67L311.67 604.56L311.83 605.48L312.00 606.08L312.17 603.74L312.33 602.74L312.50 606.49L312.67 602.85L312.83 605.93L313.00 602.15L313.17 600.29L313.33 604.69L313.50 606.10L313.67 602.10L313.83 601.78L314.00 604.11L314.17 602.18L314.33 600.15L314.50 605.84L314.67 604.96L314.83 601.42L315.00 601.92L315.17 604.33L315.33 602.10L315.50 604.33L315.67 606.74L315.83 611.07L316.00 604.03L316.17 604.41L316.33 604.66L316.50 605.59L316.67 608.76L316.83 603.10L317.00 601.07L317.17 602.86L317.33 604.72L317.50 603.67L317.67 604.91L317.83 604.77L318.00 602.04L318.17 600.65L318.33 605.44L318.50 606.59L318.67 605.48L318.83 603.48L319.00 604.33L319.17 603.94L319.33 603.10L319.50 606.58L319.67 601.29L319.83 604.45L320.00 603.71L320.17 601.66L320.33 604.53L320.50 605.39L320.67 602.77L320.83 604.36L321.00 603.87L321.17 604.95L321.33 602.42L321.50 601.26L321.67 605.56L321.83 602.91L322.00 605.18L322.17 605.76L322.33 604.65L322.50 603.91L322.67 603.61L322.83 605.03L323.00 604.45L323.17 600.53L323.33 600.93L323.50 605.55L323.67 601.61L323.83 603.95L324.00 605.35L324.17 605.12L324.33 602.51L324.50 599.53L324.67 596.14L324.83 605.55L325.00 602.71L325.17 603.07L325.33 606.23L325.50 606.65L325.67 607.45L325.83 600.76L326.00 606.01L326.17 606.85L326.33 601.32L326.50 602.85L326.67 605.38L326.83 603.77L327.00 603.93L327.17 606.08L327.33 605.99L327.50 601.63L327.67 604.03L327.83 605.70L328.00 604.33L328.17 606.98L328.33 598.06L328.50 601.53L328.67 607.01L328.83 606.03L329.00 604.43L329.17 607.47L329.33 602.47L329.50 604.23L329.67 604.48L329.83 604.48L330.00 609.17L330.17 607.80L330.33 606.45L330.50 601.01L330.67 599.33L330.83 600.69L331.00 602.89L331.17 604.94L331.33 603.43L331.50 599.45L331.67 602.52L331.83 604.21L332.00 603.32L332.17 601.45L332.33 603.86L332.50 601.54L332.67 603.83L332.83 603.54L333.00 601.88L333.17 605.69L333.33 604.01L333.50 604.09L333.67 603.48L333.83 607.06L334.00 607.57L334.17 605.02L334.33 604.52L334.50 606.44L334.67 603.14L334.83 605.14L335.00 604.22L335.17 605.40L335.33 603.57L335.50 604.20L335.67 600.71L335.83 606.14L336.00 601.78L336.17 603.89L336.33 607.33L336.50 603.51L336.67 604.94L336.83 606.94L337.00 602.79L337.17 604.18L337.33 604.88L337.50 604.40L337.67 602.21L337.83 604.92L338.00 604.50L338.17 604.26L338.33 601.81L338.50 602.83L338.67 603.77L338.83 602.07L339.00 599.57L339.17 608.26L339.33 606.22L339.50 603.04L339.67 604.51L339.83 602.11L340.00 604.24L340.17 605.19L340.33 603.65L340.50 603.47L340.67 601.26L340.83 606.89L341.00 604.52L341.17 602.25L341.33 605.37L341.50 605.24L341.67 605.10L341.83 604.69L342.00 601.01L342.17 601.69L342.33 605.48L342.50 605.12L342.67 606.68L342.83 605.42L343.00 604.31L343.17 602.26L343.33 604.23L343.50 603.83L343.67 603.90L343.83 602.59L344.00 603.49L344.17 603.78L344.33 602.25L344.50 603.46L344.67 603.79L344.83 603.14L345.00 601.44L345.17 603.82L345.33 604.89L345.50 601.36L345.67 603.19L345.83 601.87L346.00 605.07L346.17 598.92L346.33 600.87L346.50 604.23L346.67 603.74L346.83 602.78L347.00 602.39L347.17 605.06L347.33 603.41L347.50 605.07L347.67 603.38L347.83 603.48L348.00 605.97L348.17 605.18L348.33 603.31L348.50 601.72L348.67 603.52L348.83 601.26L349.00 604.15L349.17 604.13L349.33 606.83L349.50 604.42L349.67 603.96L349.83 606.13L350.00 603.32L350.17 602.91L350.33 603.96L350.50 600.21L350.67 607.10L350.83 604.49L351.00 602.71L351.17 602.14L351.33 602.95L351.50 602.65L351.67 605.61L351.83 604.41L352.00 605.37L352.17 603.07L352.33 601.93L352.50 603.00L352.67 607.17L352.83 609.45L353.00 604.55L353.17 606.43L353.33 606.71L353.50 604.38L353.67 604.79L353.83 603.76L354.00 604.06L354.17 606.17L354.33 605.17L354.50 603.43L354.67 604.27L354.83 606.42L355.00 601.49L355.17 605.88L355.33 601.26L355.50 604.48L355.67 605.41L355.83 604.71L356.00 607.06L356.17 603.47L356.33 605.46L356.50 603.82L356.67 600.30L356.83 604.02L357.00 603.51L357.17 603.16L357.33 604.86L357.50 604.67L357.67 604.46L357.83 602.95L358.00 603.93L358.17 603.25L358.33 604.58L358.50 601.42L358.67 603.50L358.83 606.81L359.00 604.54L359.17 603.93L359.33 604.48L359.50 600.15L359.67 601.99L359.83 602.58L360.00 601.10L360.17 604.22L360.33 607.32L360.50 603.78L360.67 607.28L360.83 605.28L361.00 601.71L361.17 603.24L361.33 605.21L361.50 601.52L361.67 604.04L361.83 604.08L362.00 605.86L362.17 604.47L362.33 603.79L362.50 606.83L362.67 601.36L362.83 602.45L363.00 603.72L363.17 604.12L363.33 601.32L363.50 604.21L363.67 605.20L363.83 601.38L364.00 603.90L364.17 603.58L364.33 601.52L364.50 603.83L364.67 605.01L364.83 605.44L365.00 602.99L365.17 602.87L365.33 603.87L365.50 601.25L365.67 604.69L365.83 599.35L366.00 601.67L366.17 604.89L366.33 603.40L366.50 603.50L366.67 602.66L366.83 607.28L367.00 602.38L367.17 599.98L367.33 603.26L367.50 603.88L367.67 601.09L367.83 602.67L368.00 605.80L368.17 604.99L368.33 603.00L368.50 603.57L368.67 603.48L368.83 603.75L369.00 606.06L369.17 602.74L369.33 603.78L369.50 604.48L369.67 604.03L369.83 602.36L370.00 607.21L370.17 605.15L370.33 602.71L370.50 601.67L370.67 603.60L370.83 606.80L371.00 603.02L371.17 604.08L371.33 604.34L371.50 603.18L371.67 601.63L371.83 606.17L372.00 603.77L372.17 604.66L372.33 604.45L372.50 600.86L372.67 602.11L372.83 602.43L373.00 602.35L373.17 603.54L373.33 603.25L373.50 600.98L373.67 602.97L373.83 604.59L374.00 603.29L374.17 601.40L374.33 603.91L374.50 605.97L374.67 604.14L374.83 603.01L375.00 603.14L375.17 602.99L375.33 604.06L375.50 602.92L375.67 605.96L375.83 609.57L376.00 603.38L376.17 601.30L376.33 606.34L376.50 604.19L376.67 604.29L376.83 605.80L377.00 602.09L377.17 601.21L377.33 603.50L377.50 603.68L377.67 605.46L377.83 603.73L378.00 603.17L378.17 600.96L378.33 604.15L378.50 602.98L378.67 603.79L378.83 603.99L379.00 607.23L379.17 606.30L379.33 601.10L379.50 604.19L379.67 603.59L379.83 602.34L380.00 602.04L380.17 603.62L380.33 605.35L380.50 603.72L380.67 604.50L380.83 602.81L381.00 604.23L381.17 605.95L381.33 599.56L381.50 601.16L381.67 602.63L381.83 603.44L382.00 603.60L382.17 605.09L382.33 604.30L382.50 603.63L382.67 601.68L382.83 601.01L383.00 603.53L383.17 605.27L383.33 604.43L383.50 604.80L383.67 602.85L383.83 605.79L384.00 605.13L384.17 602.95L384.33 603.86L384.50 604.51L384.67 604.40L384.83 606.85L385.00 603.88L385.17 604.95L385.33 602.07L385.50 605.62L385.67 603.72L385.83 605.06L386.00 600.93L386.17 607.07L386.33 604.16L386.50 602.12L386.67 605.80L386.83 604.30L387.00 602.77L387.17 607.66L387.33 605.14L387.50 604.76L387.67 603.26L387.83 601.41L388.00 603.66L388.17 602.49L388.33 604.34L388.50 604.16L388.67 603.96L388.83 604.41L389.00 604.78L389.17 604.57L389.33 604.06L389.50 604.70L389.67 604.32L389.83 603.81L390.00 604.76L390.17 602.96L390.33 604.76L390.50 604.63L390.67 604.02L390.83 607.21L391.00 603.75L391.17 603.63L391.33 603.93L391.50 605.14L391.67 603.85L391.83 602.67L392.00 603.30L392.17 606.45L392.33 606.00L392.50 604.23L392.67 602.01L392.83 605.18L393.00 601.71L393.17 604.27L393.33 600.36L393.50 606.41L393.67 604.57L393.83 602.08L394.00 605.86L394.17 605.48L394.33 602.88L394.50 602.14L394.67 601.09L394.83 603.33L395.00 602.98L395.17 601.07L395.33 600.77L395.50 606.32L395.67 604.63L395.83 603.60L396.00 601.75L396.17 598.79L396.33 604.26L396.50 602.88L396.67 605.51L396.83 610.06L397.00 603.16L397.17 601.19L397.33 605.43L397.50 604.40L397.67 604.21L397.83 603.48L398.00 605.35L398.17 604.28L398.33 603.70L398.50 604.57L398.67 602.33L398.83 604.50L399.00 600.89L399.17 600.85L399.33 602.23L399.50 605.25L399.67 603.29L399.83 602.16L400.00 603.17L400.17 606.49L400.33 603.83L400.50 604.80L400.67 604.72L400.83 599.37L401.00 603.54L401.17 603.16L401.33 601.41L401.50 605.79L401.67 601.56L401.83 603.24L402.00 605.25L402.17 602.82L402.33 604.19L402.50 605.73L402.67 603.67L402.83 602.95L403.00 600.50L403.17 603.19L403.33 601.47L403.50 605.27L403.67 604.05L403.83 604.70L404.00 603.78L404.17 601.51L404.33 602.87L404.50 605.24L404.67 600.15L404.83 604.41L405.00 604.80L405.17 603.92L405.33 603.80L405.50 604.89L405.67 604.91L405.83 602.67L406.00 605.40L406.17 603.76L406.33 603.59L406.50 602.25L406.67 601.00L406.83 604.18L407.00 605.34L407.17 603.58L407.33 602.86L407.50 604.55L407.67 602.19L407.83 602.93L408.00 602.57L408.17 603.06L408.33 605.46L408.50 601.93L408.67 603.14L408.83 604.70L409.00 603.07L409.17 604.03L409.33 605.20L409.50 599.29L409.67 603.43L409.83 603.03L410.00 606.53L410.17 602.25L410.33 605.86L410.50 602.73L410.67 605.39L410.83 604.52L411.00 604.75L411.17 605.91L411.33 604.20L411.50 603.14L411.67 604.48L411.83 602.35L412.00 601.58L412.17 604.27L412.33 607.17L412.50 603.12L412.67 601.75L412.83 603.85L413.00 604.36L413.17 603.12L413.33 605.75L413.50 606.72L413.67 603.89L413.83 606.58L414.00 604.35L414.17 601.43L414.33 603.65L414.50 604.99L414.67 604.69L414.83 602.33L415.00 605.54L415.17 607.46L415.33 606.15L415.50 605.24L415.67 605.07L415.83 603.30L416.00 601.46L416.17 606.00L416.33 602.14L416.50 602.07L416.67 603.90L416.83 603.02L417.00 604.83L417.17 601.85L417.33 608.24L417.50 602.98L417.67 604.19L417.83 603.45L418.00 603.37L418.17 606.43L418.33 602.80L418.50 604.02L418.67 604.32L418.83 604.93L419.00 601.78L419.17 602.88L419.33 602.71L419.50 602.68L419.67 601.26L419.83 605.50L420.00 604.17L420.17 603.53L420.33 602.86L420.50 602.87L420.67 602.90L420.83 604.15L421.00 606.96L421.17 604.70L421.33 601.97L421.50 604.70L421.67 598.15L421.83 603.47L422.00 603.87L422.17 602.32L422.33 603.66L422.50 604.26L422.67 605.63L422.83 600.21L423.00 603.90L423.17 601.96L423.33 608.36L423.50 606.51L423.67 603.64L423.83 603.53L424.00 603.21L424.17 602.77L424.33 605.26L424.50 604.55L424.67 604.38L424.83 604.12L425.00 604.27L425.17 604.90L425.33 604.33L425.50 605.05L425.67 603.10L425.83 605.66L426.00 602.81L426.17 602.56L426.33 605.33L426.50 605.49L426.67 603.87L426.83 600.70L427.00 605.95L427.17 601.48L427.33 604.37L427.50 603.31L427.67 603.91L427.83 605.75L428.00 606.06L428.17 604.83L428.33 602.53L428.50 604.66L428.67 604.60L428.83 605.23L429.00 606.59L429.17 600.27L429.33 604.10L429.50 604.67L429.67 604.39L429.83 602.66L430.00 605.34L430.17 604.67L430.33 602.97L430.50 603.45L430.67 602.26L430.83 604.01L431.00 603.13L431.17 602.71L431.33 604.94L431.50 602.25L431.67 607.27L431.83 602.73L432.00 606.88L432.17 603.07L432.33 603.14L432.50 606.35L432.67 602.16L432.83 604.56L433.00 604.80L433.17 606.80L433.33 600.14L433.50 604.71L433.67 605.55L433.83 601.67L434.00 605.45L434.17 602.70L434.33 604.27L434.50 602.67L434.67 606.31L434.83 603.16L435.00 607.00L435.17 603.69L435.33 601.14L435.50 603.84L435.67 602.24L435.83 603.16L436.00 603.05L436.17 604.96L436.33 603.36L436.50 604.78L436.67 603.75L436.83 604.75L437.00 604.37L437.17 606.00L437.33 605.57L437.50 602.77L437.67 605.24L437.83 600.93L438.00 605.90L438.17 606.61L438.33 604.61L438.50 604.40L438.67 600.00L438.83 602.70L439.00 603.16L439.17 602.77L439.33 603.76L439.50 602.46L439.67 603.40L439.83 605.29L440.00 602.14L440.17 604.18L440.33 607.11L440.50 605.49L440.67 603.93L440.83 603.72L441.00 605.06L441.17 600.40L441.33 603.09L441.50 602.50L441.67 606.06L441.83 602.72L442.00 605.86L442.17 604.58L442.33 602.90L442.50 603.14L442.67 607.65L442.83 606.28L443.00 602.09L443.17 605.17L443.33 605.76L443.50 604.14L443.67 605.77L443.83 602.09L444.00 602.76L444.17 603.50L444.33 606.71L444.50 603.22L444.67 604.40L444.83 604.05L445.00 602.22L445.17 604.21L445.33 601.35L445.50 605.65L445.67 603.60L445.83 603.24L446.00 602.73L446.17 605.39L446.33 602.58L446.50 603.86L446.67 604.40L446.83 607.76L447.00 602.87L447.17 602.76L447.33 604.41L447.50 600.97L447.67 603.41L447.83 604.94L448.00 605.46L448.17 604.99L448.33 603.53L448.50 604.09L448.67 605.81L448.83 603.10L449.00 601.63L449.17 605.14L449.33 605.52L449.50 607.85L449.67 605.29L449.83 605.57L450.00 605.73L450.17 604.25L450.33 603.15L450.50 603.43L450.67 603.53L450.83 599.73L451.00 602.65L451.17 603.28L451.33 603.51L451.50 605.51L451.67 607.14L451.83 608.33L452.00 603.77L452.17 604.90L452.33 603.93L452.50 604.26L452.67 604.29L452.83 605.43L453.00 600.56L453.17 602.47L453.33 604.92L453.50 602.58L453.67 605.31L453.83 605.58L454.00 605.03L454.17 604.16L454.33 605.79L454.50 602.17L454.67 605.14L454.83 607.07L455.00 603.79L455.17 606.04L455.33 603.36L455.50 603.71L455.67 605.56L455.83 606.44L456.00 603.58L456.17 604.76L456.33 604.97L456.50 603.36L456.67 603.20L456.83 604.58L457.00 602.83L457.17 604.49L457.33 602.11L457.50 602.14L457.67 603.87L457.83 604.73L458.00 601.05L458.17 604.71L458.33 604.83L458.50 604.97L458.67 602.72L458.83 606.09L459.00 605.00L459.17 605.43L459.33 602.26L459.50 602.76L459.67 605.41L459.83 606.06L460.00 604.50L460.17 604.55L460.33 606.76L460.50 606.16L460.67 603.51L460.83 603.54L461.00 605.48L461.17 602.00L461.33 603.46L461.50 606.90L461.67 603.68L461.83 603.35L462.00 602.35L462.17 602.88L462.33 603.99L462.50 604.74L462.67 604.05L462.83 602.54L463.00 603.49L463.17 608.23L463.33 605.81L463.50 605.27L463.67 604.74L463.83 603.29L464.00 606.07L464.17 604.16L464.33 604.44L464.50 603.12L464.67 607.18L464.83 601.06L465.00 603.25L465.17 603.94L465.33 603.54L465.50 605.47L465.67 604.33L465.83 604.85L466.00 604.44L466.17 600.33L466.33 599.09L466.50 602.70L466.67 605.69L466.83 605.84L467.00 604.19L467.17 599.96L467.33 602.15L467.50 604.52L467.67 602.24L467.83 605.10L468.00 604.18L468.17 603.59L468.33 603.30L468.50 601.36L468.67 604.85L468.83 605.05L469.00 603.24L469.17 602.71L469.33 604.04L469.50 604.35L469.67 603.40L469.83 603.46L470.00 602.78L470.17 602.50L470.33 606.83L470.50 604.98L470.67 603.55L470.83 603.56L471.00 602.93L471.17 605.58L471.33 602.93L471.50 604.99L471.67 601.75L471.83 605.36L472.00 602.98L472.17 603.37L472.33 603.70L472.50 605.38L472.67 603.98L472.83 603.62L473.00 606.20L473.17 601.08L473.33 602.75L473.50 604.15L473.67 604.32L473.83 607.14L474.00 604.55L474.17 604.28L474.33 603.54L474.50 605.31L474.67 605.01L474.83 604.48L475.00 605.59L475.17 603.36L475.33 603.69L475.50 601.64L475.67 604.12L475.83 604.77L476.00 602.81L476.17 603.01L476.33 601.33L476.50 604.21L476.67 603.07L476.83 601.07L477.00 600.12L477.17 603.74L477.33 604.26L477.50 603.94L477.67 604.63L477.83 603.55L478.00 604.61L478.17 603.89L478.33 604.79L478.50 605.46L478.67 605.93L478.83 601.53L479.00 605.45L479.17 604.49L479.33 604.66L479.50 602.88L479.67 604.72L479.83 608.61L480.00 603.07L480.17 606.46L480.33 602.48L480.50 601.66L480.67 604.21L480.83 605.85L481.00 606.49L481.17 607.47L481.33 603.15L481.50 606.38L481.67 602.85L481.83 603.66L482.00 603.63L482.17 603.66L482.33 604.26L482.50 602.69L482.67 603.55L482.83 604.07L483.00 604.72L483.17 601.01L483.33 605.59L483.50 600.97L483.67 604.42L483.83 603.53L484.00 601.80L484.17 605.68L484.33 602.88L484.50 604.32L484.67 604.58L484.83 606.91L485.00 602.84L485.17 605.37L485.33 602.04L485.50 605.27L485.67 603.77L485.83 605.17L486.00 605.60L486.17 600.40L486.33 602.57L486.50 603.36L486.67 603.95L486.83 604.62L487.00 602.21L487.17 601.68L487.33 604.29L487.50 602.79L487.67 603.35L487.83 604.88L488.00 603.41L488.17 603.10L488.33 603.14L488.50 603.87L488.67 603.83L488.83 603.92L489.00 604.40L489.17 604.74L489.33 604.30L489.50 601.69L489.67 605.09L489.83 603.38L490.00 605.83L490.17 605.43L490.33 604.47L490.50 603.59L490.67 603.45L490.83 605.73L491.00 606.45L491.17 604.93L491.33 604.49L491.50 601.60L491.67 603.91L491.83 603.88L492.00 604.22L492.17 604.34L492.33 605.46L492.50 604.43L492.67 603.68L492.83 608.37L493.00 603.13L493.17 601.86L493.33 601.87L493.50 604.49L493.67 602.13L493.83 605.98L494.00 603.44L494.17 602.13L494.33 602.83L494.50 605.68L494.67 602.52L494.83 603.63L495.00 604.56L495.17 604.23L495.33 603.91L495.50 605.46L495.67 606.96L495.83 604.44L496.00 603.94L496.17 609.19L496.33 605.06L496.50 601.07L496.67 605.60L496.83 603.24L497.00 602.22L497.17 603.09L497.33 601.56L497.50 603.68L497.67 602.05L497.83 604.20L498.00 602.19L498.17 608.84L498.33 601.63L498.50 609.41L498.67 605.26L498.83 600.92L499.00 604.15L499.17 604.22L499.33 605.28L499.50 601.74L499.67 605.18L499.83 604.15L500.00 604.20L500.17 601.99L500.33 602.08L500.50 603.24L500.67 605.62L500.83 601.27L501.00 604.18L501.17 605.73L501.33 604.92L501.50 603.89L501.67 606.96L501.83 605.60L502.00 606.23L502.17 600.92L502.33 606.01L502.50 599.97L502.67 605.99L502.83 604.30L503.00 602.65L503.17 603.34L503.33 607.19L503.50 607.58L503.67 604.10L503.83 604.20L504.00 604.48L504.17 601.75L504.33 602.62L504.50 603.67L504.67 603.97L504.83 607.51L505.00 603.91L505.17 602.90L505.33 604.67L505.50 604.42L505.67 604.36L505.83 603.42L506.00 603.07L506.17 603.89L506.33 605.46L506.50 604.07L506.67 604.15L506.83 604.48L507.00 605.08L507.17 602.57L507.33 604.08L507.50 604.75L507.67 606.73L507.83 604.37L508.00 604.97L508.17 604.07L508.33 603.70L508.50 605.69L508.67 604.67L508.83 604.53L509.00 605.67L509.17 603.69L509.33 605.31L509.50 602.65L509.67 604.50L509.83 602.72L510.00 604.68L510.17 600.41L510.33 604.95L510.50 607.28L510.67 602.78L510.83 601.54L511.00 605.53L511.17 604.18L511.33 606.00L511.50 604.18L511.67 605.87L511.83 600.80L512.00 602.42L512.17 605.10L512.33 604.51L512.50 602.78L512.67 604.17L512.83 602.28L513.00 602.51L513.17 603.35L513.33 606.66L513.50 603.78L513.67 604.88L513.83 606.74L514.00 604.91L514.17 605.89L514.33 604.23L514.50 604.50L514.67 603.94L514.83 603.64L515.00 603.75L515.17 604.73L515.33 604.69L515.50 602.93L515.67 604.66L515.83 605.29L516.00 603.75L516.17 603.58L516.33 604.20L516.50 604.54L516.67 604.28L516.83 603.49L517.00 603.01L517.17 606.40L517.33 604.62L517.50 604.42L517.67 601.03L517.83 603.02L518.00 604.58L518.17 603.11L518.33 603.84L518.50 604.87L518.67 603.32L518.83 602.07L519.00 603.72L519.17 604.09L519.33 605.39L519.50 604.00L519.67 602.15L519.83 602.97L520.00 604.20L520.17 603.93L520.33 602.22L520.50 603.89L520.67 604.37L520.83 602.29L521.00 604.07L521.17 604.12L521.33 601.65L521.50 601.50L521.67 604.40L521.83 603.16L522.00 602.92L522.17 605.87L522.33 603.95L522.50 600.16L522.67 602.93L522.83 604.18L523.00 601.44L523.17 603.85L523.33 603.78L523.50 605.36L523.67 606.61L523.83 602.77L524.00 604.20L524.17 608.89L524.33 602.81L524.50 604.15L524.67 607.57L524.83 602.04L525.00 604.15L525.17 606.00L525.33 604.53L525.50 603.11L525.67 603.60L525.83 604.62L526.00 604.39L526.17 603.56L526.33 603.48L526.50 603.92L526.67 602.13L526.83 602.65L527.00 606.80L527.17 602.94L527.33 602.70L527.50 602.55L527.67 602.64L527.83 606.03L528.00 604.18L528.17 603.91L528.33 606.54L528.50 604.06L528.67 608.08L528.83 603.07L529.00 603.36L529.17 601.57L529.33 605.18L529.50 603.59L529.67 601.61L529.83 605.28L530.00 604.11L530.17 603.87L530.33 602.92L530.50 601.58L530.67 606.59L530.83 605.88L531.00 601.70L531.17 601.89L531.33 602.72L531.50 604.45L531.67 603.45L531.83 603.55L532.00 603.82L532.17 605.34L532.33 603.12L532.50 602.85L532.67 604.52L532.83 605.43L533.00 603.72L533.17 604.16L533.33 603.44L533.50 603.49L533.67 604.40L533.83 603.06L534.00 606.35L534.17 605.90L534.33 604.95L534.50 605.45L534.67 604.11L534.83 604.74L535.00 601.13L535.17 601.80L535.33 602.42L535.50 603.94L535.67 604.49L535.83 602.83L536.00 606.34L536.17 602.67L536.33 605.80L536.50 602.93L536.67 605.57L536.83 604.30L537.00 603.72L537.17 604.69L537.33 603.34L537.50 602.75L537.67 602.49L537.83 605.08L538.00 604.40L538.17 602.34L538.33 601.85L538.50 603.42L538.67 606.46L538.83 607.12L539.00 610.72L539.17 604.00L539.33 603.30L539.50 606.26L539.67 602.84L539.83 604.64L540.00 606.00L540.17 605.09L540.33 606.07L540.50 600.32L540.67 602.53L540.83 603.74L541.00 605.63L541.17 603.32L541.33 604.88L541.50 606.81L541.67 603.38L541.83 603.82L542.00 606.46L542.17 602.13L542.33 604.97L542.50 604.56L542.67 601.87L542.83 606.75L543.00 604.20L543.17 601.91L543.33 604.19L543.50 604.14L543.67 604.77L543.83 605.22L544.00 602.39L544.17 604.89L544.33 604.41L544.50 603.89L544.67 604.16L544.83 605.59L545.00 602.89L545.17 600.84L545.33 605.30L545.50 604.12L545.67 603.13L545.83 602.88L546.00 603.95L546.17 604.14L546.33 600.27L546.50 604.27L546.67 603.92L546.83 605.21L547.00 603.77L547.17 603.21L547.33 605.24L547.50 602.12L547.67 606.15L547.83 604.50L548.00 603.00L548.17 602.85L548.33 603.29L548.50 606.15L548.67 606.71L548.83 600.14L549.00 601.14L549.17 601.90L549.33 604.39L549.50 605.01L549.67 606.35L549.83 605.13L550.00 604.99L550.17 602.66L550.33 602.73L550.50 604.27L550.67 604.71L550.83 604.42L551.00 601.89L551.17 603.51L551.33 600.03L551.50 605.93L551.67 602.93L551.83 603.14L552.00 605.78L552.17 603.12L552.33 601.43L552.50 605.21L552.67 601.96L552.83 604.29L553.00 601.96L553.17 604.88L553.33 602.63L553.50 604.90L553.67 605.01L553.83 602.82L554.00 604.33L554.17 606.57L554.33 604.92L554.50 600.72L554.67 602.97L554.83 602.81L555.00 604.58L555.17 606.11L555.33 603.62L555.50 606.56L555.67 605.61L555.83 603.24L556.00 601.71L556.17 606.43L556.33 602.46L556.50 603.42L556.67 603.20L556.83 603.98L557.00 603.82L557.17 604.01L557.33 603.29L557.50 605.20L557.67 604.82L557.83 602.37L558.00 604.60L558.17 605.98L558.33 602.84L558.50 602.47L558.67 602.12L558.83 604.12L559.00 602.13L559.17 602.52L559.33 603.43L559.50 603.76L559.67 606.11L559.83 603.86L560.00 602.76L560.17 604.14L560.33 603.71L560.50 602.76L560.67 606.71L560.83 602.73L561.00 604.12L561.17 601.99L561.33 604.76L561.50 603.91L561.67 602.66L561.83 604.31L562.00 601.96L562.17 602.62L562.33 600.75L562.50 603.60L562.67 603.80L562.83 604.12L563.00 603.94L563.17 600.20L563.33 604.95L563.50 604.35L563.67 602.94L563.83 603.01L564.00 607.32L564.17 602.08L564.33 607.19L564.50 604.56L564.67 602.91L564.83 603.90L565.00 604.77L565.17 605.33L565.33 605.45L565.50 603.19L565.67 605.38L565.83 604.71L566.00 603.34L566.17 603.55L566.33 603.08L566.50 601.61L566.67 603.41L566.83 601.61L567.00 604.79L567.17 602.63L567.33 606.73L567.50 601.76L567.67 604.44L567.83 604.48L568.00 605.21L568.17 602.80L568.33 605.41L568.50 604.64L568.67 603.32L568.83 602.47L569.00 604.91L569.17 606.37L569.33 605.96L569.50 605.27L569.67 605.72L569.83 603.14L570.00 603.35L570.17 605.13L570.33 604.89L570.50 604.69L570.67 604.52L570.83 600.58L571.00 603.17L571.17 604.29L571.33 599.99L571.50 604.87L571.67 603.24L571.83 607.14L572.00 605.49L572.17 605.40L572.33 601.24L572.50 604.26L572.67 600.34L572.83 601.28L573.00 603.06L573.17 604.53L573.33 602.30L573.50 602.03L573.67 604.94L573.83 601.99L574.00 602.66L574.17 602.51L574.33 602.81L574.50 601.55L574.67 604.66L574.83 606.64L575.00 606.66L575.17 602.64L575.33 606.25L575.50 601.90L575.67 607.81L575.83 604.46L576.00 606.07L576.17 603.46L576.33 605.82L576.50 606.13L576.67 603.90L576.83 602.05L577.00 607.85L577.17 606.15L577.33 603.93L577.50 606.61L577.67 603.46L577.83 601.81L578.00 601.36L578.17 605.03L578.33 603.71L578.50 605.22L578.67 605.96L578.83 602.60L579.00 603.37L579.17 605.84L579.33 605.47L579.50 602.25L579.67 607.57L579.83 602.60L580.00 608.37L580.17 605.41L580.33 601.01L580.50 612.00L580.67 605.08L580.83 607.64L581.00 607.18L581.17 600.88L581.33 598.42L581.50 601.64L581.67 602.29L581.83 608.15L582.00 603.94L582.17 603.26L582.33 605.12L582.50 603.01L582.67 603.81L582.83 600.43L583.00 599.09L583.17 600.49L583.33 601.76L583.50 604.39L583.67 601.86L583.83 608.60L584.00 605.93L584.17 607.92L584.33 616.78L584.50 599.32L584.67 598.27L584.83 610.14L585.00 600.63L585.17 595.72L585.33 599.12L585.50 602.42L585.67 602.17L585.83 603.86L586.00 611.34L586.17 607.27L586.33 605.62L586.50 602.42L586.67 603.42L586.83 604.40L587.00 598.57L587.17 604.79L587.33 605.98L587.50 608.43L587.67 600.65L587.83 610.88L588.00 599.18L588.17 602.27L588.33 606.41L588.50 607.57L588.67 603.30L588.83 603.91L589.00 609.28L589.17 605.93L589.33 602.80L589.50 602.68L589.67 607.59L589.83 603.91L590.00 606.97L590.17 604.47L590.33 604.21L590.50 602.48L590.67 605.79L590.83 605.45L591.00 604.25L591.17 605.53L591.33 604.99L591.50 605.64L591.67 604.55L591.83 600.33L592.00 605.30L592.17 604.21L592.33 604.40L592.50 604.26L592.67 600.90L592.83 606.07L593.00 602.36L593.17 605.75L593.33 604.91L593.50 603.46L593.67 601.80L593.83 603.39L594.00 603.26L594.17 604.89L594.33 604.76L594.50 605.79L594.67 602.00L594.83 603.50L595.00 607.60L595.17 601.92L595.33 605.45L595.50 603.74L595.67 603.32L595.83 601.65L596.00 601.18L596.17 603.36L596.33 605.03L596.50 604.46L596.67 607.41L596.83 603.68L597.00 604.90L597.17 606.78L597.33 602.93L597.50 606.58L597.67 600.69L597.83 603.81L598.00 602.87L598.17 605.65L598.33 605.05L598.50 604.89L598.67 600.90L598.83 603.99L599.00 601.23L599.17 603.71L599.33 603.94L599.50 604.66L599.67 605.30L599.83 604.31L600.00 605.14L600.17 603.46L600.33 603.41L600.50 602.91L600.67 604.95L600.83 604.03L601.00 602.55L601.17 604.85L601.33 608.17L601.50 603.71L601.67 601.82L601.83 604.14L602.00 604.45L602.17 603.23L602.33 604.78L602.50 603.43L602.67 606.54L602.83 604.03L603.00 600.50L603.17 603.58L603.33 604.56L603.50 603.66L603.67 604.32L603.83 605.55L604.00 603.79L604.17 602.13L604.33 602.40L604.50 604.99L604.67 599.98L604.83 604.99L605.00 603.15L605.17 601.75L605.33 604.65L605.50 605.61L605.67 599.50L605.83 604.11L606.00 605.42L606.17 609.14L606.33 605.15L606.50 600.86L606.67 604.54L606.83 599.53L607.00 606.89L607.17 606.95L607.33 607.46L607.50 603.58L607.67 602.29L607.83 601.07L608.00 604.40L608.17 602.18L608.33 604.90L608.50 602.18L608.67 604.45L608.83 604.68L609.00 603.83L609.17 601.76L609.33 605.82L609.50 603.78L609.67 604.72L609.83 601.52L610.00 606.08L610.17 602.60L610.33 605.48L610.50 604.55L610.67 602.81L610.83 607.31L611.00 601.72L611.17 598.49L611.33 594.71L611.50 603.65L611.67 607.83L611.83 603.84L612.00 602.43L612.17 603.25L612.33 603.92L612.50 603.26L612.67 607.29L612.83 604.84L613.00 604.97L613.17 608.02L613.33 607.26L613.50 609.86L613.67 612.63L613.83 603.24L614.00 603.84L614.17 609.08L614.33 606.23L614.50 606.44L614.67 605.23L614.83 608.08L615.00 609.46L615.17 597.53L615.33 610.15L615.50 604.47L615.67 608.08L615.83 599.11L616.00 608.34L616.17 604.18L616.33 601.84L616.50 604.81L616.67 604.04L616.83 605.93L617.00 604.31L617.17 604.10L617.33 606.40L617.50 603.43L617.67 601.76L617.83 604.83L618.00 603.45L618.17 602.36L618.33 602.70L618.50 600.00L618.67 604.00L618.83 601.66L619.00 603.71L619.17 603.82L619.33 602.68L619.50 602.16L619.67 604.77L619.83 609.07L620.00 598.25L620.17 602.73L620.33 610.45L620.50 604.92L620.67 602.92L620.83 607.94L621.00 605.16L621.17 605.44L621.33 602.70L621.50 605.40L621.67 608.68L621.83 604.55L622.00 609.67L622.17 609.81L622.33 603.54L622.50 606.60L622.67 605.05L622.83 606.59L623.00 602.15L623.17 606.87L623.33 602.79L623.50 604.69L623.67 603.35L623.83 605.45L624.00 608.05L624.17 608.48L624.33 602.57L624.50 607.06L624.67 603.73L624.83 606.83L625.00 603.95L625.17 601.43L625.33 604.82L625.50 606.21L625.67 601.52L625.83 605.50L626.00 601.81L626.17 611.65L626.33 603.96L626.50 605.59L626.67 603.66L626.83 604.93L627.00 602.69L627.17 605.78L627.33 602.96L627.50 600.23L627.67 605.45L627.83 607.81L628.00 606.38L628.17 605.32L628.33 602.87L628.50 601.76L628.67 606.64L628.83 602.69L629.00 607.03L629.17 603.71L629.33 605.13L629.50 603.89L629.67 602.22L629.83 601.10L630.00 604.25L630.17 602.87L630.33 600.85L630.50 604.21L630.67 604.33L630.83 603.91L631.00 606.97L631.17 604.75L631.33 602.95L631.50 604.90L631.67 603.62L631.83 607.86L632.00 604.65L632.17 602.41L632.33 604.53L632.50 603.07L632.67 603.73L632.83 605.45L633.00 603.04L633.17 601.14L633.33 603.98L633.50 608.65L633.67 604.22L633.83 600.67L634.00 604.97L634.17 602.73L634.33 605.19L634.50 603.68L634.67 606.21L634.83 606.07L635.00 604.53L635.17 602.47L635.33 603.58L635.50 603.80L635.67 603.56L635.83 603.37L636.00 601.34L636.17 605.09L636.33 604.06L636.50 602.97L636.67 604.08L636.83 605.87L637.00 604.98L637.17 604.28L637.33 600.44L637.50 602.50L637.67 606.50L637.83 606.85L638.00 605.50L638.17 605.36L638.33 603.39L638.50 601.26L638.67 603.27L638.83 603.55L639.00 603.73L639.17 603.99L639.33 602.50L639.50 602.43L639.67 603.22L639.83 602.94L640.00 603.08L640.17 604.75L640.33 601.32L640.50 604.92L640.67 604.24L640.83 604.93L641.00 605.00L641.17 603.43L641.33 603.18L641.50 603.41L641.67 602.97L641.83 603.07L642.00 601.22L642.17 603.80L642.33 604.66L642.50 603.57L642.67 604.76L642.83 602.87L643.00 604.68L643.17 601.61L643.33 605.77L643.50 598.56L643.67 604.11L643.83 606.30L644.00 603.04L644.17 603.73L644.33 601.12L644.50 608.51L644.67 603.27L644.83 603.43L645.00 601.24L645.17 601.22L645.33 603.53L645.50 606.25L645.67 605.15L645.83 603.37L646.00 603.84L646.17 604.86L646.33 605.02L646.50 604.43L646.67 600.33L646.83 604.38L647.00 603.78L647.17 603.81L647.33 602.10L647.50 603.48L647.67 604.24L647.83 602.33L648.00 605.18L648.17 602.91L648.33 603.40L648.50 602.96L648.67 604.52L648.83 605.55L649.00 602.53L649.17 603.45L649.33 603.75L649.50 603.62L649.67 605.29L649.83 600.06L650.00 604.11L650.17 608.13L650.33 603.45L650.50 602.68L650.67 602.13L650.83 602.06L651.00 608.20L651.17 603.14L651.33 605.62L651.50 604.40L651.67 602.20L651.83 604.71L652.00 604.17L652.17 602.77L652.33 600.95L652.50 603.96L652.67 602.95L652.83 605.57L653.00 606.26L653.17 603.82L653.33 605.34L653.50 602.79L653.67 606.19L653.83 603.88L654.00 606.56L654.17 605.48L654.33 606.00L654.50 600.66L654.67 602.25L654.83 604.07L655.00 603.42L655.17 603.98L655.33 604.09L655.50 605.26L655.67 602.74L655.83 605.90L656.00 600.60L656.17 600.94L656.33 603.78L656.50 604.59L656.67 604.04L656.83 603.31L657.00 605.47L657.17 602.45L657.33 604.79L657.50 609.30L657.67 602.83L657.83 604.71L658.00 604.31L658.17 603.98L658.33 605.01L658.50 604.09" stroke="#00f" stroke-width="0.37" fill="none" stroke-linejoin="round"/><path d="M240.5 601.00V611.00M250.5 601.00V610.50M258.5 600.00V612.50M268.5 601.00V614.50M274.5 601.00V622.50M282.5 601.00V616.50M287.5 601.00V625.00M292.5 601.00V614.50M298.5 600.00V613.00M304.5 597.50V618.50M307.5 595.50V608.00M312.5 601.00V616.50M317.5 600.00V615.50M320.5 594.00V618.50M325.5 601.00V612.00M330.5 601.00V612.50M336.5 599.00V611.00M343.5 601.00V611.50M350.5 601.00V611.00M356.5 582.00V637.00M359.5 579.30V641.00M374.5 597.50V615.50M382.5 601.00V612.50M395.5 601.00V613.50M414.5 596.00V618.50M457.5 596.50V620.50M463.5 601.00V612.50M468.5 600.00V616.50M473.5 601.00V611.50M480.5 601.00V611.50M498.5 595.50V613.50M505.5 601.00V618.50M507.5 601.00V620.50M517.5 601.00V612.00M520.5 601.00V611.00M525.5 597.50V608.00M531.5 601.00V611.50M548.5 601.00V611.00M577.5 592.00V610.50M578.5 593.00V608.00M583.5 596.50V608.00M612.5 573.00V624.80M614.5 596.00V618.00M619.5 597.00V613.00M625.5 597.50V608.00M655.5 601.00V611.50" stroke="#00f" stroke-width="0.4" fill="none"/><path d="M612.5 598.72V608.06M613.5 592.33V613.18M614.5 597.41V610.64M615.5 599.26V607.63M616.5 600.73V606.80M617.5 601.82V605.85M618.5 602.06V605.76M619.5 602.91V605.13M620.5 603.15V604.67M583.5 601.43V607.83M584.5 595.91V609.67M585.5 599.20V608.31M586.5 601.35V605.84M587.5 602.75V605.48M588.5 603.16V604.69M589.5 603.59V604.60M618.5 603.53V604.67M619.5 600.26V609.03M620.5 598.67V609.37M621.5 601.09V607.74M622.5 601.79V606.25M623.5 601.96V605.62M624.5 602.52V605.44M625.5 603.23V605.09M626.5 603.23V604.63M577.5 593.84V610.61M578.5 599.25V606.56M579.5 602.42V604.60M498.5 595.37V613.89M499.5 602.78V605.88M586.5 602.51V604.75M587.5 598.91V608.56M588.5 602.17V605.23M589.5 603.08V604.51" stroke="#00f" stroke-width="1" fill="none" opacity="0.85"/>
<path d="M184.5 531.0V677.0" stroke="#a8a8a8" stroke-width="1" fill="none"/>
<path d="M185.0 531.5H658.5V676.5H185.0" stroke="#bdbdbd" stroke-width="1" fill="none"/>
<text class="e" x="181" y="540.2">2</text>
<text class="e" x="181" y="612.7">0</text>
<text class="e" x="181" y="685.2">-2</text>
<text class="m" x="184.5" y="702.8">00:00</text>
<text class="m" x="303.0" y="702.8">06:00</text>
<text class="m" x="421.5" y="702.8">12:00</text>
<text class="m" x="540.0" y="702.8">18:00</text>
<text class="m" x="658.5" y="702.8">24:00</text>
<text class="b m" transform="translate(151 604.5) rotate(-90)">Z (nT)</text>
<g shape-rendering="crispEdges" fill="none" stroke-width="1"><rect x="809" y="59" width="475" height="142" fill="#00008f" stroke="none"/><g filter="url(#bl)" clip-path="url(#cp0)"><path stroke="#00009f" d="M809.5 160v1M810.5 162v1M812.5 127v3M813.5 133v3M814.5 171v5M814.5 181v6M815.5 115v2M817.5 85v9M818.5 122v2M819.5 164v6M819.5 182v4M821.5 133v3M821.5 198v3M822.5 112v1M823.5 106v1M824.5 114v3M824.5 198v2M825.5 146v10M825.5 178v5M826.5 151v7M826.5 183v8M827.5 127v3M827.5 199v2M828.5 134v3M828.5 194v3M831.5 184v1M832.5 144v3M832.5 192v3M893.5 149v19M893.5 187v2M894.5 129v4M894.5 193v1M895.5 174v12M904.5 96v5M910.5 91v4M910.5 182v2M911.5 89v3M911.5 191v2M912.5 116v5M912.5 192v2M913.5 160v12M913.5 182v3M914.5 67v7M922.5 151v3M923.5 147v4M925.5 125v9M925.5 196v2M926.5 102v3M927.5 113v3M928.5 143v5M929.5 170v19M937.5 138v3M937.5 189v1M938.5 138v3M938.5 189v1M942.5 125v5M943.5 125v5M958.5 158v22M958.5 186v3M959.5 142v3M959.5 194v2M960.5 183v2M976.5 125v53M977.5 195v4M980.5 102v4M981.5 59v27M995.5 141v4M996.5 141v4M997.5 191v9M998.5 174v10M999.5 143v3M1000.5 158v7M1001.5 173v3M1002.5 149v5M1003.5 133v2M1004.5 133v2M1005.5 150v5M1006.5 178v5M1012.5 138v4M1013.5 146v4M1030.5 162v21M1030.5 193v8M1031.5 59v1M1033.5 59v1M1034.5 160v8M1035.5 146v5M1038.5 143v3M1039.5 113v6M1039.5 185v1M1039.5 197v3M1040.5 59v5M1041.5 178v1M1042.5 89v71M1044.5 117v9M1044.5 185v3M1045.5 87v2M1045.5 193v2M1046.5 96v3M1046.5 189v2M1067.5 130v5M1068.5 130v5M1079.5 166v4M1080.5 166v4M1095.5 163v13M1096.5 138v3M1097.5 163v13M1112.5 92v16M1113.5 92v3M1114.5 118v4M1115.5 147v3M1116.5 173v4M1123.5 101v8M1196.5 198v3M1197.5 121v7M1198.5 96v2M1199.5 89v1M1200.5 76v4M1203.5 107v23M1204.5 177v2M1205.5 72v2M1206.5 78v2M1207.5 101v3M1208.5 59v9M1210.5 108v17M1211.5 180v5M1212.5 132v7M1213.5 87v1M1214.5 94v4M1215.5 138v3M1216.5 166v3M1217.5 171v4M1218.5 122v10M1219.5 109v2M1220.5 120v6M1221.5 155v2M1222.5 127v3M1223.5 133v3M1224.5 177v2M1225.5 160v4M1226.5 132v4M1227.5 105v2M1228.5 61v8M1233.5 92v6M1234.5 93v2M1234.5 99v1M1235.5 59v19M1236.5 81v2M1237.5 105v3M1238.5 121v4M1239.5 102v1M1240.5 104v2M1241.5 130v5M1248.5 77v2M1249.5 95v5M1250.5 134v4M1251.5 156v3M1252.5 177v4M1253.5 176v4M1254.5 136v10M1255.5 82v1M1256.5 90v8M1257.5 135v3M1258.5 131v2M1259.5 123v1M1260.5 125v2M1260.5 193v2M1261.5 139v7M1261.5 186v3"/><path stroke="#0000af" d="M809.5 161v1M810.5 163v1M811.5 160v2M812.5 130v2M813.5 136v3M814.5 176v5M814.5 187v8M815.5 117v2M817.5 94v6M818.5 124v1M819.5 170v4M819.5 179v3M821.5 136v3M821.5 196v2M822.5 113v2M823.5 107v1M824.5 117v5M824.5 196v2M825.5 156v22M826.5 158v4M826.5 175v8M827.5 130v3M827.5 197v2M828.5 137v4M828.5 192v2M832.5 147v3M832.5 190v2M893.5 168v19M894.5 133v4M894.5 192v1M904.5 92v4M910.5 95v4M910.5 180v2M911.5 92v3M911.5 190v1M912.5 121v4M912.5 191v1M913.5 172v10M914.5 62v5M922.5 149v2M923.5 144v3M925.5 134v6M925.5 194v2M926.5 105v2M927.5 116v3M928.5 148v3M928.5 200v1M937.5 141v3M937.5 187v2M938.5 141v3M938.5 187v2M942.5 121v4M943.5 121v4M958.5 180v6M959.5 145v3M959.5 193v1M976.5 59v27M976.5 103v22M977.5 192v3M980.5 98v4M995.5 145v3M996.5 145v3M997.5 200v1M998.5 184v6M999.5 146v3M1000.5 165v7M1001.5 176v2M1002.5 154v4M1003.5 135v2M1004.5 135v2M1005.5 155v3M1006.5 183v3M1012.5 142v2M1013.5 150v12M1030.5 183v10M1031.5 60v4M1033.5 60v4M1034.5 168v3M1035.5 151v3M1038.5 146v2M1039.5 119v5M1039.5 186v11M1040.5 64v4M1040.5 183v2M1041.5 176v2M1042.5 70v19M1044.5 126v8M1044.5 184v1M1045.5 89v2M1045.5 192v1M1046.5 99v7M1046.5 188v1M1067.5 135v9M1068.5 135v9M1079.5 170v3M1080.5 170v3M1095.5 176v12M1096.5 141v2M1097.5 176v12M1113.5 95v2M1114.5 122v4M1115.5 150v4M1116.5 177v4M1123.5 95v6M1197.5 128v3M1198.5 98v1M1200.5 80v2M1203.5 130v14M1204.5 179v1M1205.5 74v1M1206.5 80v2M1207.5 104v1M1208.5 68v8M1210.5 125v9M1211.5 185v2M1212.5 139v2M1213.5 88v1M1214.5 98v3M1215.5 141v2M1216.5 169v3M1217.5 175v2M1218.5 132v5M1219.5 111v1M1220.5 126v4M1221.5 157v1M1222.5 130v1M1223.5 136v2M1224.5 179v2M1225.5 164v4M1226.5 136v2M1227.5 107v1M1228.5 69v4M1234.5 90v3M1236.5 83v1M1237.5 108v2M1238.5 125v2M1239.5 103v2M1240.5 106v1M1241.5 135v4M1248.5 79v1M1249.5 100v4M1250.5 138v2M1251.5 159v1M1252.5 181v2M1253.5 180v9M1254.5 146v4M1255.5 83v2M1256.5 98v6M1257.5 138v2M1258.5 133v1M1259.5 124v2M1260.5 127v2M1260.5 192v1M1261.5 146v6M1261.5 183v3"/><path stroke="#0000bf" d="M809.5 162v1M810.5 164v1M811.5 162v2M812.5 132v2M813.5 139v5M814.5 195v5M815.5 119v1M815.5 195v6M817.5 100v3M818.5 125v1M819.5 174v5M821.5 139v3M821.5 194v2M822.5 115v1M823.5 108v1M824.5 122v3M824.5 194v2M826.5 162v13M827.5 133v2M827.5 195v2M828.5 141v6M828.5 188v4M832.5 150v4M832.5 188v2M894.5 137v3M894.5 191v1M904.5 74v18M910.5 99v10M910.5 168v12M911.5 95v1M911.5 189v1M912.5 125v3M912.5 190v1M914.5 59v3M922.5 147v2M923.5 142v2M925.5 140v6M925.5 191v3M926.5 107v2M927.5 119v3M928.5 151v3M928.5 199v1M937.5 144v1M937.5 186v1M938.5 144v1M938.5 186v1M942.5 115v6M943.5 115v6M959.5 148v2M959.5 191v2M976.5 86v17M977.5 186v6M980.5 94v4M995.5 148v5M996.5 148v5M998.5 190v11M999.5 149v3M1000.5 172v4M1001.5 178v3M1002.5 158v3M1003.5 137v2M1004.5 137v2M1005.5 158v4M1006.5 186v4M1012.5 144v3M1013.5 162v10M1031.5 64v3M1033.5 64v3M1034.5 171v3M1035.5 154v2M1038.5 148v2M1039.5 124v5M1040.5 68v5M1041.5 175v1M1042.5 59v11M1044.5 134v6M1044.5 182v2M1045.5 91v2M1045.5 191v1M1046.5 106v7M1046.5 187v1M1067.5 144v15M1068.5 144v15M1079.5 173v7M1080.5 173v7M1095.5 188v13M1096.5 143v2M1097.5 188v13M1113.5 97v2M1113.5 198v3M1114.5 126v3M1115.5 154v2M1116.5 181v3M1123.5 90v5M1197.5 131v3M1198.5 99v1M1199.5 90v1M1200.5 82v2M1203.5 144v12M1204.5 180v1M1205.5 75v2M1206.5 82v1M1207.5 105v1M1208.5 76v10M1210.5 134v7M1211.5 187v3M1212.5 141v2M1213.5 89v1M1214.5 101v3M1215.5 143v1M1216.5 172v4M1217.5 177v2M1218.5 137v8M1219.5 112v1M1220.5 130v3M1221.5 158v2M1222.5 131v2M1223.5 138v3M1224.5 181v3M1225.5 168v3M1226.5 138v3M1227.5 108v2M1228.5 73v4M1234.5 88v2M1234.5 100v1M1236.5 84v1M1237.5 110v2M1238.5 127v1M1239.5 105v1M1240.5 107v1M1241.5 139v3M1248.5 80v1M1249.5 104v4M1250.5 140v3M1251.5 160v2M1252.5 183v3M1253.5 189v4M1254.5 150v2M1255.5 85v1M1256.5 104v5M1257.5 140v2M1258.5 134v3M1259.5 126v1M1260.5 129v1M1260.5 191v1M1261.5 152v5M1261.5 181v2"/><path stroke="#0000cf" d="M810.5 165v1M811.5 164v2M812.5 134v2M813.5 144v8M814.5 200v1M815.5 120v1M815.5 194v1M817.5 103v2M818.5 126v1M821.5 142v2M821.5 191v3M822.5 116v2M823.5 109v1M824.5 125v3M824.5 192v2M827.5 135v2M827.5 193v2M828.5 147v6M828.5 182v6M832.5 154v3M832.5 186v2M894.5 140v3M894.5 190v1M904.5 59v15M910.5 109v12M910.5 158v10M911.5 96v2M911.5 187v2M912.5 128v3M912.5 188v2M922.5 145v2M923.5 59v21M923.5 126v16M925.5 146v5M925.5 190v1M926.5 109v3M926.5 200v1M927.5 122v3M928.5 154v2M928.5 198v1M937.5 145v2M937.5 185v1M938.5 145v2M938.5 185v1M942.5 106v9M943.5 106v9M959.5 150v2M959.5 190v1M977.5 164v22M980.5 91v3M995.5 153v10M996.5 153v8M999.5 152v2M1000.5 176v3M1001.5 181v2M1002.5 161v3M1003.5 139v2M1004.5 139v2M1005.5 162v2M1006.5 190v4M1012.5 147v2M1013.5 172v9M1013.5 194v7M1031.5 67v5M1033.5 67v5M1034.5 174v2M1035.5 156v2M1038.5 150v1M1039.5 129v3M1040.5 73v4M1040.5 182v1M1041.5 173v2M1044.5 140v19M1044.5 181v1M1045.5 93v2M1045.5 190v1M1046.5 113v7M1046.5 185v2M1067.5 159v15M1068.5 159v15M1079.5 180v15M1080.5 180v15M1096.5 145v2M1113.5 99v4M1113.5 187v11M1114.5 129v3M1115.5 156v2M1116.5 184v3M1123.5 59v31M1197.5 134v5M1198.5 100v1M1200.5 84v4M1203.5 156v12M1204.5 181v1M1205.5 77v2M1206.5 83v2M1207.5 106v1M1208.5 86v11M1210.5 141v7M1211.5 190v2M1212.5 143v3M1213.5 90v1M1214.5 104v3M1215.5 144v2M1216.5 176v3M1217.5 179v2M1218.5 145v7M1220.5 133v4M1221.5 160v1M1222.5 133v2M1223.5 141v7M1224.5 184v2M1225.5 171v3M1226.5 141v2M1227.5 110v1M1228.5 77v5M1234.5 85v3M1235.5 78v1M1236.5 85v1M1237.5 112v2M1238.5 128v2M1239.5 106v1M1240.5 108v2M1241.5 142v2M1248.5 81v1M1248.5 126v20M1249.5 108v3M1250.5 143v2M1251.5 162v1M1252.5 186v2M1253.5 193v3M1254.5 152v2M1255.5 86v2M1256.5 109v4M1257.5 142v2M1258.5 137v3M1259.5 127v1M1260.5 130v1M1260.5 190v1M1261.5 157v6M1261.5 179v2"/><path stroke="#0000df" d="M809.5 163v1M810.5 166v1M811.5 166v1M812.5 136v2M813.5 152v6M815.5 121v1M815.5 192v2M817.5 105v2M818.5 127v1M821.5 144v2M821.5 187v4M822.5 118v3M823.5 110v1M824.5 128v2M824.5 189v3M827.5 137v2M827.5 191v2M828.5 153v4M828.5 176v6M832.5 157v3M832.5 161v25M894.5 143v3M894.5 188v2M910.5 121v37M911.5 98v2M911.5 186v1M912.5 131v4M912.5 187v1M922.5 143v2M923.5 80v46M925.5 151v3M925.5 155v4M925.5 188v2M926.5 112v2M927.5 125v3M928.5 156v3M928.5 196v2M937.5 147v2M937.5 183v2M938.5 147v2M938.5 183v2M942.5 98v8M943.5 98v8M959.5 152v2M959.5 188v2M977.5 149v15M980.5 87v4M995.5 163v7M996.5 161v7M999.5 154v2M1000.5 179v4M1001.5 183v3M1002.5 164v2M1003.5 141v1M1004.5 141v1M1005.5 164v3M1006.5 194v3M1012.5 149v8M1013.5 181v13M1031.5 72v8M1033.5 72v8M1034.5 176v3M1035.5 158v1M1038.5 151v2M1039.5 132v5M1040.5 77v3M1040.5 181v1M1041.5 171v2M1044.5 159v22M1045.5 95v1M1045.5 188v2M1046.5 120v6M1046.5 184v1M1067.5 174v27M1068.5 174v27M1079.5 195v6M1080.5 195v6M1096.5 147v2M1113.5 103v3M1113.5 176v11M1114.5 132v2M1115.5 158v2M1116.5 187v2M1197.5 139v5M1198.5 101v1M1199.5 91v1M1203.5 168v8M1204.5 182v1M1205.5 79v5M1206.5 85v2M1207.5 107v1M1208.5 97v8M1210.5 148v6M1211.5 192v3M1212.5 146v1M1213.5 91v1M1214.5 107v3M1215.5 146v2M1216.5 179v2M1217.5 181v1M1218.5 152v4M1219.5 113v1M1220.5 137v3M1221.5 161v1M1222.5 135v1M1223.5 148v6M1224.5 186v2M1225.5 174v2M1226.5 143v2M1227.5 111v1M1228.5 82v3M1234.5 82v3M1234.5 101v1M1235.5 79v1M1236.5 86v1M1237.5 114v2M1238.5 130v1M1239.5 107v1M1240.5 110v1M1241.5 144v3M1248.5 82v1M1248.5 119v7M1248.5 146v3M1249.5 111v3M1250.5 145v1M1251.5 163v2M1252.5 188v2M1253.5 196v3M1254.5 154v1M1255.5 88v1M1256.5 113v4M1257.5 144v2M1258.5 140v3M1259.5 128v1M1260.5 131v1M1261.5 163v6M1261.5 177v2"/><path stroke="#0000ef" d="M809.5 164v1M810.5 167v1M811.5 167v2M812.5 138v1M813.5 158v5M815.5 122v1M815.5 191v1M817.5 107v2M818.5 128v2M821.5 146v2M821.5 183v4M822.5 121v1M823.5 200v1M824.5 130v3M824.5 186v3M827.5 139v2M827.5 188v3M828.5 157v4M828.5 170v6M832.5 160v1M894.5 146v3M894.5 187v1M911.5 100v2M911.5 185v1M912.5 135v4M912.5 186v1M922.5 141v2M925.5 154v1M925.5 159v2M925.5 186v2M926.5 114v2M926.5 199v1M927.5 128v3M928.5 159v1M928.5 195v1M937.5 149v1M937.5 179v4M938.5 149v1M938.5 179v4M942.5 87v11M943.5 87v11M959.5 154v12M959.5 186v2M977.5 135v14M980.5 83v4M995.5 170v7M996.5 168v6M999.5 156v2M1000.5 183v4M1001.5 186v3M1002.5 166v3M1003.5 142v2M1004.5 142v2M1005.5 167v3M1006.5 197v3M1012.5 157v8M1031.5 80v6M1033.5 80v6M1034.5 179v2M1035.5 159v1M1038.5 153v1M1039.5 137v4M1040.5 80v4M1040.5 180v1M1041.5 170v1M1045.5 96v2M1045.5 187v1M1046.5 126v5M1046.5 183v1M1096.5 149v6M1113.5 106v4M1113.5 168v8M1114.5 134v2M1115.5 160v2M1116.5 189v3M1197.5 144v4M1198.5 102v1M1203.5 176v3M1204.5 183v2M1205.5 84v12M1206.5 87v1M1207.5 108v1M1208.5 105v5M1210.5 154v4M1211.5 195v3M1212.5 147v2M1213.5 92v1M1214.5 110v1M1215.5 148v1M1216.5 181v2M1217.5 182v2M1218.5 156v1M1219.5 114v1M1220.5 140v3M1221.5 162v2M1222.5 136v1M1223.5 154v5M1224.5 188v2M1225.5 176v1M1226.5 145v2M1227.5 112v1M1228.5 85v3M1234.5 80v2M1235.5 80v3M1236.5 87v1M1237.5 116v2M1238.5 131v2M1239.5 108v1M1240.5 111v1M1241.5 147v2M1248.5 83v1M1248.5 113v6M1248.5 149v3M1249.5 114v3M1250.5 146v1M1251.5 165v1M1252.5 190v1M1253.5 199v2M1254.5 155v2M1255.5 89v1M1256.5 117v3M1257.5 146v2M1258.5 143v4M1259.5 129v1M1259.5 193v2M1260.5 132v1M1260.5 189v1M1261.5 169v8"/><path stroke="#0000ff" d="M809.5 165v1M810.5 168v1M811.5 169v2M812.5 139v5M813.5 163v5M815.5 123v1M815.5 190v1M816.5 59v6M817.5 109v1M818.5 130v1M821.5 148v2M821.5 179v4M822.5 122v2M822.5 199v2M823.5 111v1M823.5 198v2M824.5 133v2M824.5 183v3M827.5 141v5M827.5 183v5M828.5 161v9M894.5 149v15M894.5 186v1M911.5 102v3M911.5 184v1M912.5 139v3M912.5 185v1M922.5 132v9M925.5 161v3M925.5 184v2M926.5 116v2M926.5 198v1M927.5 131v2M927.5 200v1M928.5 160v2M928.5 193v2M937.5 150v7M937.5 176v3M938.5 150v7M938.5 176v3M942.5 59v28M943.5 59v28M959.5 166v20M977.5 125v10M980.5 74v9M995.5 177v24M996.5 174v21M999.5 158v5M1000.5 187v6M1001.5 189v3M1002.5 169v2M1003.5 144v1M1004.5 144v1M1005.5 170v2M1006.5 200v1M1012.5 165v9M1012.5 197v4M1031.5 86v7M1033.5 86v7M1034.5 181v2M1034.5 199v2M1035.5 160v1M1038.5 154v2M1039.5 141v4M1039.5 181v4M1040.5 84v3M1040.5 179v1M1041.5 168v2M1045.5 98v1M1045.5 186v1M1046.5 131v5M1046.5 182v1M1096.5 155v10M1113.5 110v5M1113.5 148v20M1114.5 136v2M1115.5 162v2M1116.5 192v3M1197.5 148v4M1198.5 103v1M1203.5 179v4M1204.5 185v1M1205.5 96v2M1206.5 88v1M1207.5 109v1M1208.5 110v4M1210.5 158v3M1211.5 198v2M1212.5 149v2M1213.5 93v1M1214.5 111v2M1215.5 149v1M1216.5 183v2M1217.5 184v1M1218.5 157v2M1220.5 143v3M1221.5 164v1M1222.5 137v2M1223.5 159v4M1224.5 190v3M1225.5 177v2M1226.5 147v2M1227.5 113v2M1228.5 88v3M1234.5 73v7M1235.5 83v1M1235.5 95v7M1236.5 88v1M1237.5 118v1M1238.5 133v1M1239.5 109v1M1240.5 112v2M1241.5 149v5M1248.5 84v3M1248.5 104v9M1248.5 152v3M1249.5 117v3M1250.5 147v1M1251.5 166v1M1252.5 191v2M1254.5 157v1M1255.5 90v5M1256.5 120v3M1257.5 148v2M1258.5 147v3M1259.5 130v1M1259.5 192v1M1260.5 133v1M1260.5 188v1"/><path stroke="#0010ff" d="M809.5 166v1M810.5 169v1M811.5 171v1M812.5 144v8M813.5 168v5M815.5 124v1M815.5 189v1M816.5 65v8M817.5 110v1M818.5 131v2M818.5 200v1M821.5 150v15M821.5 176v3M822.5 124v1M822.5 198v1M823.5 112v1M823.5 197v1M824.5 135v2M824.5 180v3M827.5 146v5M827.5 178v5M894.5 164v22M911.5 105v4M911.5 183v1M912.5 142v4M912.5 183v2M922.5 118v14M925.5 164v3M925.5 177v7M926.5 118v2M926.5 197v1M927.5 133v3M928.5 162v2M928.5 191v2M937.5 157v7M937.5 173v3M938.5 157v7M938.5 173v3M977.5 118v7M980.5 64v10M996.5 195v6M999.5 163v10M1000.5 193v8M1001.5 192v4M1002.5 171v3M1003.5 145v3M1004.5 145v3M1005.5 172v3M1012.5 174v9M1012.5 187v10M1031.5 93v6M1033.5 93v6M1034.5 183v5M1034.5 196v3M1036.5 59v13M1037.5 59v13M1038.5 156v1M1039.5 145v3M1039.5 179v2M1040.5 87v4M1040.5 178v1M1041.5 166v2M1045.5 99v4M1045.5 185v1M1046.5 136v14M1046.5 180v2M1096.5 165v10M1113.5 115v33M1114.5 138v3M1115.5 164v2M1116.5 195v3M1197.5 152v4M1199.5 92v1M1202.5 59v3M1203.5 183v2M1204.5 186v1M1205.5 98v2M1206.5 89v2M1207.5 110v1M1208.5 114v2M1209.5 59v3M1210.5 161v4M1211.5 200v1M1212.5 151v2M1213.5 94v1M1214.5 113v3M1215.5 150v1M1216.5 185v2M1217.5 185v2M1218.5 159v1M1219.5 115v1M1220.5 146v2M1221.5 165v1M1222.5 139v1M1223.5 163v3M1224.5 193v2M1225.5 179v2M1226.5 149v1M1227.5 115v2M1228.5 91v2M1234.5 67v6M1235.5 84v2M1235.5 102v1M1236.5 89v1M1237.5 119v1M1238.5 134v1M1239.5 110v1M1240.5 114v2M1241.5 154v7M1248.5 87v17M1248.5 155v2M1249.5 120v2M1250.5 148v1M1251.5 167v1M1252.5 193v2M1254.5 158v1M1255.5 95v6M1256.5 123v1M1257.5 150v1M1258.5 150v3M1259.5 131v1M1259.5 191v1M1260.5 134v1M1260.5 186v2"/><path stroke="#0020ff" d="M809.5 167v1M810.5 170v1M811.5 172v2M812.5 152v8M813.5 173v6M815.5 188v1M816.5 73v10M817.5 111v1M818.5 133v2M818.5 196v4M821.5 165v11M822.5 125v2M822.5 197v1M823.5 113v1M823.5 196v1M824.5 137v2M824.5 178v2M827.5 151v5M827.5 173v5M911.5 109v3M911.5 182v1M912.5 146v4M912.5 182v1M922.5 59v6M922.5 104v14M925.5 167v10M926.5 120v4M926.5 196v1M927.5 136v2M927.5 199v1M928.5 164v2M928.5 189v2M937.5 164v9M938.5 164v9M977.5 110v8M980.5 59v5M999.5 173v9M1001.5 196v4M1002.5 174v3M1003.5 148v3M1004.5 148v3M1005.5 175v3M1012.5 183v4M1031.5 99v7M1033.5 99v7M1034.5 188v8M1035.5 161v1M1036.5 72v13M1037.5 72v13M1038.5 157v1M1039.5 148v4M1039.5 177v2M1040.5 91v2M1040.5 177v1M1041.5 164v2M1045.5 103v6M1045.5 184v1M1046.5 150v30M1096.5 175v10M1114.5 141v2M1115.5 166v3M1116.5 198v3M1197.5 156v4M1198.5 104v1M1202.5 62v8M1203.5 185v2M1204.5 187v1M1205.5 100v3M1206.5 91v1M1207.5 111v1M1208.5 116v2M1209.5 62v4M1210.5 165v3M1212.5 153v3M1213.5 95v2M1214.5 116v2M1215.5 151v2M1216.5 187v2M1217.5 187v2M1218.5 160v1M1219.5 116v1M1220.5 148v3M1221.5 166v2M1222.5 140v5M1223.5 166v5M1224.5 195v2M1225.5 181v2M1226.5 150v2M1227.5 117v2M1228.5 93v3M1234.5 61v6M1234.5 102v1M1235.5 86v1M1235.5 91v4M1235.5 103v1M1236.5 90v1M1237.5 120v2M1238.5 135v2M1239.5 111v1M1240.5 116v2M1241.5 161v8M1241.5 177v24M1248.5 157v3M1249.5 122v3M1250.5 149v1M1251.5 168v1M1252.5 195v1M1254.5 159v1M1255.5 101v6M1256.5 124v2M1257.5 151v1M1258.5 153v2M1259.5 132v1M1259.5 190v1M1260.5 135v3M1260.5 184v2"/><path stroke="#0030ff" d="M809.5 168v1M810.5 171v1M811.5 174v1M812.5 160v2M813.5 179v7M815.5 125v1M815.5 186v2M816.5 83v13M817.5 112v1M818.5 135v1M818.5 195v1M822.5 127v2M822.5 196v1M823.5 114v1M823.5 195v1M824.5 139v3M824.5 175v3M827.5 156v5M827.5 168v5M911.5 112v3M911.5 181v1M912.5 150v12M912.5 181v1M922.5 65v39M926.5 124v5M926.5 195v1M927.5 138v3M927.5 198v1M928.5 166v2M928.5 187v2M977.5 103v7M999.5 182v19M1001.5 200v1M1002.5 177v3M1003.5 151v3M1004.5 151v3M1005.5 178v3M1031.5 106v7M1033.5 106v7M1035.5 162v1M1036.5 85v14M1037.5 85v14M1038.5 158v1M1039.5 152v4M1039.5 174v3M1040.5 93v3M1040.5 176v1M1041.5 162v2M1045.5 109v7M1045.5 183v1M1096.5 185v16M1114.5 143v2M1115.5 169v3M1197.5 160v3M1198.5 105v2M1200.5 88v1M1202.5 70v6M1203.5 187v2M1204.5 188v1M1205.5 103v2M1206.5 92v1M1208.5 118v2M1209.5 66v4M1210.5 168v3M1212.5 156v2M1213.5 97v2M1214.5 118v3M1215.5 153v1M1216.5 189v2M1217.5 189v3M1218.5 161v1M1219.5 117v1M1220.5 151v2M1221.5 168v1M1222.5 145v5M1223.5 171v6M1224.5 197v2M1225.5 183v2M1226.5 152v1M1227.5 119v2M1228.5 96v1M1232.5 59v1M1233.5 98v1M1234.5 59v2M1235.5 87v4M1235.5 104v1M1236.5 91v1M1237.5 122v1M1238.5 137v1M1239.5 112v1M1240.5 118v3M1241.5 169v8M1248.5 160v3M1249.5 125v3M1250.5 150v1M1251.5 169v1M1252.5 196v2M1254.5 160v1M1255.5 107v6M1256.5 126v2M1257.5 152v1M1258.5 155v3M1259.5 133v1M1259.5 189v1M1260.5 138v5M1260.5 182v2"/><path stroke="#0040ff" d="M809.5 169v1M810.5 172v1M811.5 175v4M812.5 162v5M813.5 186v6M815.5 126v1M816.5 96v5M817.5 113v1M818.5 136v1M818.5 194v1M822.5 129v1M822.5 194v2M823.5 115v1M823.5 193v2M824.5 142v3M824.5 167v8M827.5 161v7M911.5 115v4M911.5 179v2M912.5 162v19M926.5 129v4M926.5 193v2M927.5 141v3M927.5 197v1M928.5 168v2M928.5 180v7M977.5 81v22M1002.5 180v2M1003.5 154v3M1004.5 154v3M1005.5 181v3M1031.5 113v5M1033.5 113v5M1036.5 99v8M1037.5 99v8M1038.5 159v1M1039.5 156v4M1039.5 161v13M1040.5 96v3M1040.5 175v1M1041.5 160v2M1045.5 116v7M1045.5 181v2M1114.5 145v3M1115.5 172v3M1197.5 163v3M1198.5 107v1M1202.5 76v1M1203.5 189v3M1204.5 189v1M1205.5 105v2M1205.5 168v2M1206.5 93v1M1207.5 112v1M1208.5 120v1M1209.5 70v4M1210.5 171v3M1212.5 158v2M1213.5 99v3M1214.5 121v3M1215.5 154v1M1216.5 191v2M1217.5 192v2M1218.5 162v1M1219.5 118v1M1220.5 153v2M1221.5 169v1M1222.5 150v5M1223.5 177v6M1224.5 199v2M1225.5 185v2M1226.5 153v2M1227.5 121v1M1232.5 60v4M1236.5 92v2M1237.5 123v1M1238.5 138v2M1239.5 113v3M1240.5 121v2M1248.5 163v3M1248.5 195v6M1249.5 128v3M1250.5 151v1M1251.5 170v1M1252.5 198v1M1254.5 161v2M1255.5 113v6M1256.5 128v2M1257.5 153v1M1258.5 158v3M1258.5 195v2M1259.5 187v2M1260.5 143v5M1260.5 181v1"/><path stroke="#0050ff" d="M809.5 170v1M810.5 173v1M811.5 179v4M812.5 167v4M813.5 192v6M815.5 127v1M815.5 185v1M816.5 101v2M818.5 137v2M818.5 193v1M822.5 130v2M822.5 191v3M823.5 116v3M823.5 190v3M824.5 145v2M824.5 159v8M911.5 119v4M911.5 172v7M926.5 133v5M926.5 192v1M927.5 144v3M927.5 196v1M928.5 170v10M977.5 59v22M1002.5 182v3M1003.5 157v3M1004.5 157v3M1005.5 184v3M1031.5 118v6M1033.5 118v6M1035.5 163v1M1036.5 107v8M1037.5 107v8M1038.5 160v1M1039.5 160v1M1040.5 99v3M1040.5 174v1M1041.5 153v7M1045.5 123v6M1045.5 180v1M1114.5 148v3M1115.5 175v3M1197.5 166v3M1198.5 108v1M1199.5 93v1M1200.5 89v1M1202.5 77v1M1203.5 192v3M1204.5 190v3M1205.5 107v3M1205.5 164v4M1206.5 94v1M1207.5 113v1M1208.5 121v2M1209.5 74v4M1210.5 174v3M1212.5 160v2M1213.5 102v2M1214.5 124v2M1215.5 155v2M1216.5 193v2M1217.5 194v2M1218.5 163v1M1219.5 119v2M1220.5 155v1M1221.5 170v2M1222.5 155v5M1223.5 183v5M1225.5 187v2M1226.5 155v1M1227.5 122v2M1228.5 97v1M1232.5 64v4M1235.5 105v1M1236.5 94v1M1237.5 124v1M1238.5 140v1M1239.5 116v2M1240.5 123v3M1248.5 166v3M1248.5 187v8M1249.5 131v2M1251.5 171v1M1252.5 199v2M1254.5 163v2M1255.5 119v4M1256.5 130v2M1257.5 154v1M1258.5 161v2M1258.5 197v3M1259.5 134v4M1259.5 185v2M1260.5 148v5M1260.5 179v2"/><path stroke="#0060ff" d="M809.5 171v1M810.5 174v2M811.5 183v3M812.5 171v4M813.5 198v3M815.5 128v3M815.5 184v1M816.5 103v1M817.5 114v1M818.5 139v1M818.5 192v1M822.5 132v2M822.5 189v2M823.5 119v2M823.5 188v2M824.5 147v3M824.5 151v8M911.5 123v4M911.5 165v7M926.5 138v5M926.5 190v2M927.5 147v2M927.5 194v2M1002.5 185v4M1003.5 160v3M1004.5 160v3M1005.5 187v5M1031.5 124v5M1033.5 124v5M1035.5 164v1M1036.5 115v6M1037.5 115v5M1038.5 161v1M1040.5 102v3M1040.5 172v2M1041.5 144v9M1045.5 129v7M1045.5 158v22M1114.5 151v4M1114.5 198v3M1115.5 178v4M1197.5 169v4M1198.5 109v2M1202.5 78v1M1203.5 195v3M1204.5 193v3M1205.5 110v4M1205.5 161v3M1205.5 170v3M1206.5 95v1M1207.5 114v1M1208.5 123v1M1209.5 78v5M1210.5 177v2M1212.5 162v1M1213.5 104v3M1214.5 126v2M1215.5 157v1M1216.5 195v3M1217.5 196v3M1218.5 164v2M1219.5 121v3M1220.5 156v1M1221.5 172v1M1222.5 160v4M1223.5 188v5M1225.5 189v2M1226.5 156v2M1227.5 124v1M1228.5 98v1M1232.5 68v3M1233.5 99v1M1236.5 95v1M1237.5 125v1M1238.5 141v2M1239.5 118v3M1240.5 126v2M1248.5 169v4M1248.5 180v7M1249.5 133v2M1250.5 152v1M1251.5 172v1M1254.5 165v2M1255.5 123v3M1256.5 132v1M1257.5 155v1M1258.5 163v3M1258.5 200v1M1259.5 138v6M1259.5 183v2M1260.5 153v9M1260.5 177v2"/><path stroke="#0070ff" d="M810.5 176v3M811.5 186v4M812.5 175v7M815.5 131v2M815.5 183v1M816.5 104v2M818.5 140v1M822.5 134v1M822.5 186v3M823.5 121v2M823.5 186v2M824.5 150v1M911.5 127v6M911.5 157v8M926.5 143v4M926.5 189v1M927.5 149v3M927.5 193v1M1002.5 189v5M1003.5 163v3M1004.5 163v3M1005.5 192v4M1031.5 129v5M1033.5 129v5M1036.5 121v5M1037.5 120v5M1040.5 105v3M1040.5 170v2M1041.5 137v7M1045.5 136v22M1114.5 155v4M1114.5 190v8M1115.5 182v4M1197.5 173v4M1198.5 111v1M1200.5 90v1M1202.5 79v1M1203.5 198v3M1204.5 196v3M1205.5 114v4M1205.5 152v9M1205.5 173v1M1206.5 96v1M1208.5 124v2M1209.5 83v6M1210.5 179v2M1212.5 163v2M1213.5 107v3M1214.5 128v2M1215.5 158v1M1216.5 198v2M1217.5 199v2M1218.5 166v1M1219.5 124v3M1220.5 157v1M1221.5 173v2M1222.5 164v4M1223.5 193v5M1225.5 191v2M1226.5 158v1M1227.5 125v2M1228.5 99v1M1232.5 71v3M1234.5 103v1M1235.5 106v1M1236.5 96v1M1237.5 126v2M1238.5 143v1M1239.5 121v3M1240.5 128v3M1248.5 173v7M1249.5 135v2M1250.5 153v1M1254.5 167v1M1255.5 126v3M1256.5 133v2M1257.5 156v1M1258.5 166v3M1259.5 144v5M1259.5 181v2M1260.5 162v11M1260.5 175v2"/><path stroke="#0080ff" d="M809.5 172v1M810.5 179v4M811.5 190v4M812.5 182v6M815.5 133v3M815.5 182v1M816.5 106v1M816.5 200v1M817.5 115v1M818.5 141v1M818.5 191v1M822.5 135v2M822.5 184v2M823.5 123v2M823.5 184v2M911.5 133v24M926.5 147v5M926.5 187v2M927.5 152v2M927.5 191v2M1002.5 194v4M1003.5 166v4M1004.5 166v4M1005.5 196v5M1031.5 134v5M1032.5 59v2M1033.5 134v5M1035.5 165v1M1036.5 126v5M1037.5 125v5M1038.5 162v1M1040.5 108v4M1040.5 168v2M1041.5 130v7M1114.5 159v5M1114.5 177v13M1115.5 186v4M1197.5 177v4M1198.5 112v1M1199.5 94v1M1202.5 80v1M1204.5 199v2M1205.5 118v3M1205.5 144v8M1205.5 174v2M1207.5 115v1M1208.5 126v1M1209.5 89v6M1210.5 181v2M1212.5 165v2M1213.5 110v2M1214.5 130v2M1215.5 159v1M1216.5 200v1M1218.5 167v1M1219.5 127v2M1220.5 158v1M1221.5 175v1M1222.5 168v6M1223.5 198v3M1225.5 193v2M1226.5 159v2M1227.5 127v2M1228.5 100v1M1232.5 74v4M1236.5 97v1M1237.5 128v1M1238.5 144v2M1239.5 124v2M1240.5 131v2M1249.5 137v2M1250.5 154v1M1251.5 173v1M1254.5 168v2M1255.5 129v4M1256.5 135v2M1257.5 157v1M1258.5 169v3M1258.5 192v3M1259.5 149v6M1259.5 179v2M1260.5 173v2"/><path stroke="#008fff" d="M809.5 173v1M810.5 183v4M811.5 194v4M812.5 188v6M815.5 136v2M816.5 107v2M816.5 199v1M818.5 142v1M818.5 190v1M822.5 137v2M822.5 181v3M823.5 125v2M823.5 182v2M926.5 152v4M926.5 186v1M927.5 154v3M927.5 190v1M1002.5 198v3M1003.5 170v3M1004.5 170v3M1031.5 139v5M1032.5 61v1M1033.5 139v5M1035.5 166v1M1036.5 131v6M1037.5 130v5M1038.5 163v1M1040.5 112v4M1040.5 166v2M1041.5 116v14M1114.5 164v13M1115.5 190v7M1197.5 181v5M1198.5 113v1M1200.5 91v1M1202.5 81v1M1205.5 121v3M1205.5 139v5M1205.5 176v1M1206.5 97v1M1207.5 116v1M1208.5 127v1M1209.5 95v5M1210.5 183v3M1212.5 167v2M1213.5 112v3M1214.5 132v2M1215.5 160v1M1218.5 168v1M1219.5 129v3M1220.5 159v1M1221.5 176v2M1222.5 174v6M1225.5 195v3M1226.5 161v3M1227.5 129v1M1228.5 101v1M1232.5 78v3M1236.5 98v1M1237.5 129v1M1238.5 146v1M1239.5 126v3M1240.5 133v2M1249.5 139v3M1250.5 155v1M1251.5 174v1M1254.5 170v2M1255.5 133v3M1256.5 137v2M1257.5 158v1M1258.5 172v2M1258.5 188v4M1259.5 155v10M1259.5 177v2"/><path stroke="#009fff" d="M809.5 174v1M810.5 187v3M811.5 198v3M812.5 194v6M815.5 138v3M815.5 181v1M816.5 109v1M816.5 197v2M817.5 116v1M818.5 143v1M818.5 189v1M822.5 139v2M822.5 179v2M823.5 127v3M823.5 180v2M926.5 156v4M926.5 183v3M927.5 157v2M927.5 188v2M1003.5 173v4M1004.5 173v4M1031.5 144v5M1032.5 62v2M1033.5 144v5M1035.5 167v2M1036.5 137v4M1037.5 135v5M1038.5 164v1M1040.5 116v4M1040.5 164v2M1041.5 59v5M1041.5 104v12M1115.5 197v4M1197.5 186v4M1198.5 114v2M1201.5 59v1M1202.5 82v1M1205.5 124v3M1205.5 134v5M1206.5 98v1M1208.5 128v2M1209.5 100v6M1210.5 186v2M1212.5 169v3M1213.5 115v6M1214.5 134v2M1215.5 161v2M1218.5 169v1M1219.5 132v2M1220.5 160v1M1221.5 178v1M1222.5 180v4M1225.5 198v2M1226.5 164v3M1227.5 130v2M1228.5 102v1M1232.5 81v3M1233.5 100v1M1235.5 107v1M1236.5 99v1M1237.5 130v2M1238.5 147v2M1239.5 129v2M1240.5 135v3M1249.5 142v3M1250.5 156v1M1251.5 175v2M1254.5 172v2M1255.5 136v3M1256.5 139v2M1257.5 159v1M1258.5 174v14M1259.5 165v12"/><path stroke="#00afff" d="M809.5 175v4M810.5 190v4M812.5 200v1M815.5 141v2M815.5 180v1M816.5 110v2M816.5 196v1M818.5 144v2M818.5 188v1M822.5 141v3M822.5 176v3M823.5 130v2M823.5 177v3M926.5 160v3M926.5 179v4M927.5 159v3M927.5 187v1M1003.5 177v3M1004.5 177v3M1031.5 149v5M1032.5 64v2M1033.5 149v5M1035.5 169v2M1036.5 141v1M1037.5 140v2M1038.5 200v1M1040.5 120v5M1040.5 162v2M1041.5 64v40M1197.5 190v4M1198.5 116v1M1199.5 95v1M1201.5 60v7M1202.5 83v1M1205.5 127v7M1205.5 177v1M1207.5 117v1M1208.5 130v1M1209.5 106v5M1210.5 188v2M1212.5 172v10M1213.5 121v5M1214.5 136v1M1215.5 163v1M1218.5 170v1M1219.5 134v4M1220.5 161v1M1221.5 179v2M1222.5 184v5M1225.5 200v1M1226.5 167v3M1227.5 132v2M1228.5 103v1M1232.5 84v4M1236.5 100v2M1237.5 132v1M1238.5 149v3M1239.5 131v3M1240.5 138v2M1249.5 145v1M1250.5 157v1M1251.5 177v2M1254.5 174v2M1255.5 139v4M1256.5 141v2M1257.5 160v1"/><path stroke="#00bfff" d="M809.5 179v5M810.5 194v4M815.5 143v1M815.5 179v1M816.5 112v1M816.5 195v1M817.5 117v1M818.5 187v1M822.5 144v2M822.5 170v6M823.5 132v2M823.5 175v2M926.5 163v4M926.5 174v5M927.5 162v2M927.5 185v2M1003.5 180v4M1004.5 180v4M1031.5 154v5M1032.5 66v2M1033.5 154v5M1035.5 171v2M1035.5 200v1M1036.5 142v2M1037.5 142v1M1038.5 165v1M1038.5 199v1M1040.5 125v5M1040.5 160v2M1197.5 194v5M1198.5 117v1M1200.5 92v1M1201.5 67v6M1202.5 84v1M1205.5 178v1M1206.5 99v1M1207.5 118v1M1208.5 131v2M1209.5 111v5M1210.5 190v3M1212.5 182v10M1213.5 126v6M1214.5 137v1M1215.5 164v1M1218.5 171v2M1219.5 138v4M1220.5 162v1M1221.5 181v1M1222.5 189v5M1226.5 170v3M1227.5 134v1M1228.5 104v1M1232.5 88v4M1234.5 104v1M1235.5 108v2M1236.5 102v2M1237.5 133v2M1238.5 152v3M1239.5 134v2M1240.5 140v2M1249.5 146v2M1251.5 179v2M1254.5 176v2M1255.5 143v3M1256.5 143v2M1257.5 161v1"/><path stroke="#00cfff" d="M809.5 184v4M810.5 198v3M815.5 144v2M816.5 194v1M817.5 200v1M818.5 146v1M818.5 186v1M822.5 146v2M822.5 161v9M823.5 134v3M823.5 171v4M926.5 167v7M927.5 164v3M927.5 179v6M1003.5 184v5M1004.5 184v5M1031.5 159v8M1031.5 200v1M1032.5 68v1M1033.5 159v7M1035.5 173v2M1035.5 199v1M1036.5 144v1M1037.5 143v1M1038.5 166v3M1038.5 198v1M1040.5 130v30M1197.5 199v2M1198.5 118v2M1199.5 96v1M1201.5 73v3M1202.5 85v3M1206.5 100v1M1207.5 119v1M1208.5 133v1M1209.5 116v4M1210.5 193v3M1212.5 192v9M1213.5 132v4M1214.5 138v1M1215.5 165v1M1218.5 173v1M1219.5 142v5M1220.5 163v1M1221.5 182v2M1222.5 194v5M1226.5 173v3M1227.5 135v2M1228.5 105v1M1232.5 92v3M1235.5 110v1M1236.5 104v2M1237.5 135v1M1238.5 155v4M1239.5 136v2M1240.5 142v3M1240.5 188v13M1249.5 148v1M1250.5 158v1M1251.5 181v1M1254.5 178v2M1255.5 146v3M1256.5 145v2M1257.5 162v2"/><path stroke="#00dfff" d="M809.5 188v5M815.5 146v2M815.5 178v1M816.5 113v1M816.5 193v1M817.5 199v1M818.5 147v1M818.5 185v1M822.5 148v2M822.5 151v10M823.5 137v2M823.5 166v5M927.5 167v2M927.5 172v7M1003.5 189v6M1004.5 189v7M1031.5 167v10M1031.5 192v8M1032.5 69v5M1033.5 166v9M1033.5 196v5M1035.5 175v2M1035.5 198v1M1036.5 145v2M1037.5 144v2M1038.5 169v3M1038.5 197v1M1198.5 120v1M1199.5 97v1M1200.5 93v1M1201.5 76v1M1202.5 88v5M1205.5 179v1M1206.5 101v1M1208.5 134v2M1209.5 120v5M1210.5 196v3M1213.5 136v1M1214.5 139v1M1215.5 166v1M1218.5 174v2M1219.5 147v4M1220.5 164v1M1221.5 184v1M1222.5 199v2M1226.5 176v3M1227.5 137v2M1232.5 95v1M1233.5 101v1M1235.5 111v1M1236.5 106v2M1237.5 136v2M1238.5 159v4M1239.5 138v3M1240.5 145v2M1240.5 179v9M1249.5 149v1M1250.5 159v1M1251.5 182v2M1254.5 180v21M1255.5 149v2M1256.5 147v2M1257.5 164v1"/><path stroke="#00efff" d="M809.5 193v5M815.5 148v1M815.5 177v1M817.5 118v1M817.5 197v2M818.5 148v1M822.5 150v1M823.5 139v3M823.5 162v4M927.5 169v3M1003.5 195v6M1004.5 196v5M1031.5 177v15M1032.5 74v5M1033.5 175v8M1033.5 187v9M1035.5 177v3M1035.5 197v1M1036.5 147v1M1037.5 146v1M1038.5 172v3M1198.5 121v2M1201.5 77v1M1202.5 93v5M1205.5 180v1M1207.5 120v1M1208.5 136v2M1209.5 125v4M1210.5 199v2M1213.5 137v1M1215.5 167v2M1218.5 176v1M1219.5 151v4M1220.5 165v1M1221.5 185v3M1226.5 179v2M1227.5 139v2M1228.5 106v1M1232.5 96v1M1235.5 112v1M1236.5 108v2M1237.5 138v1M1238.5 163v4M1239.5 141v2M1240.5 147v3M1240.5 172v7M1249.5 150v2M1250.5 160v1M1251.5 184v2M1255.5 151v1M1256.5 149v2M1257.5 165v2"/><path stroke="#00ffff" d="M809.5 198v3M815.5 149v28M816.5 114v1M816.5 192v1M817.5 196v1M818.5 149v1M818.5 184v1M823.5 142v3M823.5 157v5M1032.5 79v6M1033.5 183v4M1035.5 180v2M1035.5 196v1M1036.5 148v2M1037.5 147v2M1038.5 175v3M1038.5 196v1M1198.5 123v2M1199.5 98v1M1201.5 78v1M1202.5 98v4M1205.5 181v2M1206.5 102v1M1207.5 121v1M1208.5 138v1M1209.5 129v4M1213.5 138v2M1214.5 140v1M1215.5 169v1M1218.5 177v2M1219.5 155v1M1220.5 166v1M1221.5 188v2M1226.5 181v3M1227.5 141v1M1228.5 107v1M1229.5 59v3M1232.5 97v1M1236.5 110v2M1237.5 139v2M1238.5 167v4M1239.5 143v3M1240.5 150v22M1249.5 152v1M1250.5 161v1M1251.5 186v2M1255.5 152v1M1257.5 167v2"/><path stroke="#10ffef" d="M816.5 191v1M817.5 119v1M817.5 195v1M818.5 150v2M818.5 183v1M823.5 145v3M823.5 153v4M1032.5 85v5M1035.5 182v2M1035.5 195v1M1036.5 150v1M1037.5 149v1M1038.5 178v4M1038.5 187v9M1198.5 125v1M1200.5 94v1M1201.5 79v1M1202.5 102v5M1205.5 183v1M1206.5 103v1M1208.5 139v2M1209.5 133v4M1213.5 140v1M1214.5 141v1M1215.5 170v3M1218.5 179v1M1219.5 156v2M1220.5 167v1M1221.5 190v3M1226.5 184v2M1227.5 142v2M1228.5 108v1M1229.5 62v3M1234.5 105v1M1235.5 113v1M1236.5 112v2M1237.5 141v1M1238.5 171v5M1239.5 146v2M1249.5 153v2M1250.5 162v1M1251.5 188v2M1255.5 153v1M1256.5 151v1M1257.5 169v1"/><path stroke="#20ffdf" d="M816.5 115v1M817.5 194v1M818.5 152v2M818.5 182v1M823.5 148v5M1032.5 90v6M1035.5 184v11M1036.5 151v2M1037.5 150v2M1038.5 182v5M1198.5 126v2M1199.5 99v1M1202.5 107v7M1205.5 184v2M1206.5 104v1M1207.5 122v1M1208.5 141v1M1209.5 137v4M1213.5 141v1M1214.5 142v1M1215.5 173v3M1218.5 180v2M1219.5 158v1M1220.5 168v1M1221.5 193v3M1226.5 186v3M1227.5 144v2M1229.5 65v3M1232.5 98v1M1233.5 102v1M1235.5 114v1M1236.5 114v3M1237.5 142v2M1238.5 176v4M1239.5 148v11M1239.5 174v25M1249.5 155v1M1250.5 163v1M1251.5 190v2M1255.5 154v1M1256.5 152v1M1257.5 170v2"/><path stroke="#30ffcf" d="M816.5 190v1M817.5 120v1M818.5 154v2M1032.5 96v5M1036.5 153v1M1037.5 152v1M1198.5 128v2M1199.5 100v1M1200.5 95v1M1201.5 80v1M1202.5 114v8M1205.5 186v1M1207.5 123v1M1208.5 142v2M1209.5 141v3M1213.5 142v1M1214.5 143v1M1215.5 176v4M1218.5 182v1M1219.5 159v1M1220.5 169v1M1221.5 196v3M1226.5 189v3M1227.5 146v2M1228.5 109v1M1229.5 68v3M1232.5 99v1M1235.5 115v1M1236.5 117v2M1237.5 144v2M1238.5 180v4M1239.5 159v15M1239.5 199v2M1249.5 156v2M1250.5 164v1M1251.5 192v2M1255.5 155v1M1256.5 153v1M1257.5 172v1"/><path stroke="#40ffbf" d="M816.5 116v1M816.5 189v1M817.5 193v1M818.5 156v3M818.5 181v1M1032.5 101v7M1036.5 154v1M1037.5 153v2M1198.5 130v1M1200.5 96v1M1201.5 81v1M1202.5 122v9M1205.5 187v2M1206.5 105v1M1207.5 124v1M1208.5 144v1M1209.5 144v3M1213.5 143v2M1214.5 144v1M1215.5 180v3M1218.5 183v2M1219.5 160v1M1220.5 170v1M1221.5 199v2M1226.5 192v3M1227.5 148v2M1228.5 110v1M1229.5 71v3M1232.5 100v1M1235.5 116v1M1236.5 119v4M1237.5 146v3M1238.5 184v4M1249.5 158v1M1250.5 165v2M1251.5 194v2M1255.5 156v1M1256.5 154v1M1257.5 173v2"/><path stroke="#50ffaf" d="M817.5 192v1M818.5 159v2M818.5 180v1M1032.5 108v7M1036.5 155v2M1037.5 155v1M1198.5 131v2M1199.5 101v1M1200.5 97v1M1201.5 82v1M1202.5 131v9M1205.5 189v2M1206.5 106v1M1208.5 145v2M1209.5 147v3M1213.5 145v1M1214.5 145v1M1215.5 183v4M1218.5 185v4M1219.5 161v1M1220.5 171v2M1226.5 195v3M1227.5 150v2M1229.5 74v4M1235.5 117v1M1236.5 123v6M1237.5 149v7M1238.5 188v3M1249.5 159v2M1250.5 167v1M1251.5 196v3M1255.5 157v1M1256.5 155v1M1257.5 175v2"/><path stroke="#60ff9f" d="M816.5 117v1M816.5 188v1M817.5 121v1M818.5 161v3M1032.5 115v7M1036.5 157v1M1037.5 156v2M1198.5 133v2M1201.5 83v1M1202.5 140v10M1205.5 191v7M1206.5 107v1M1207.5 125v1M1208.5 147v2M1209.5 150v3M1213.5 146v1M1214.5 146v1M1215.5 187v5M1218.5 189v5M1219.5 162v1M1220.5 173v1M1226.5 198v3M1227.5 152v2M1228.5 111v1M1229.5 78v3M1232.5 101v1M1233.5 103v1M1234.5 106v1M1235.5 118v2M1236.5 129v7M1237.5 156v9M1238.5 191v3M1249.5 161v3M1249.5 200v1M1250.5 168v1M1251.5 199v2M1255.5 158v1M1256.5 156v1M1257.5 177v1"/><path stroke="#70ff8f" d="M817.5 191v1M818.5 164v3M818.5 179v1M1032.5 122v6M1036.5 158v1M1037.5 158v1M1198.5 135v4M1199.5 102v1M1200.5 98v1M1201.5 84v2M1202.5 150v12M1205.5 198v3M1207.5 126v1M1208.5 149v1M1209.5 153v3M1213.5 147v1M1214.5 147v1M1215.5 192v4M1218.5 194v5M1219.5 163v2M1220.5 174v2M1227.5 154v2M1228.5 112v2M1229.5 81v4M1232.5 102v1M1235.5 120v3M1236.5 136v7M1236.5 155v4M1237.5 165v8M1238.5 194v2M1249.5 164v2M1249.5 194v6M1250.5 169v1M1255.5 159v1M1256.5 157v1M1257.5 178v3"/><path stroke="#80ff80" d="M816.5 118v1M816.5 187v1M817.5 190v1M818.5 167v4M818.5 178v1M1032.5 128v7M1198.5 139v4M1200.5 99v1M1201.5 86v3M1202.5 162v11M1206.5 108v1M1208.5 150v2M1209.5 156v3M1213.5 148v2M1214.5 148v1M1215.5 196v5M1218.5 199v2M1219.5 165v1M1220.5 176v1M1227.5 156v2M1228.5 114v2M1229.5 85v3M1235.5 123v3M1236.5 143v12M1236.5 159v7M1237.5 173v5M1238.5 196v3M1249.5 166v3M1249.5 188v6M1250.5 170v1M1255.5 160v1M1256.5 158v1M1257.5 181v8M1257.5 195v1"/><path stroke="#8fff70" d="M816.5 186v1M817.5 122v1M818.5 171v4M818.5 177v1M1032.5 135v7M1036.5 159v1M1037.5 159v1M1198.5 143v4M1199.5 103v1M1200.5 100v1M1201.5 89v3M1202.5 173v10M1206.5 109v1M1207.5 127v1M1208.5 152v1M1209.5 159v3M1213.5 150v2M1214.5 149v1M1219.5 166v1M1220.5 177v1M1227.5 158v2M1228.5 116v2M1229.5 88v4M1232.5 103v1M1235.5 126v2M1236.5 166v3M1237.5 178v3M1238.5 199v2M1249.5 169v3M1249.5 182v6M1250.5 171v1M1255.5 161v1M1257.5 189v6M1257.5 196v5"/><path stroke="#9fff60" d="M816.5 119v1M817.5 189v1M818.5 175v2M1032.5 142v6M1036.5 160v1M1198.5 147v4M1199.5 104v1M1200.5 101v1M1201.5 92v3M1202.5 183v10M1206.5 110v1M1207.5 128v1M1208.5 153v2M1209.5 162v3M1213.5 152v2M1214.5 150v2M1219.5 167v1M1220.5 178v2M1227.5 160v5M1228.5 118v3M1229.5 92v3M1235.5 128v2M1236.5 169v2M1237.5 181v3M1249.5 172v2M1249.5 176v6M1250.5 172v1M1255.5 162v2M1256.5 159v1"/><path stroke="#afff50" d="M816.5 185v1M817.5 123v1M817.5 188v1M1032.5 148v7M1032.5 196v5M1037.5 160v1M1198.5 151v4M1199.5 105v1M1201.5 95v3M1202.5 193v8M1206.5 111v2M1207.5 129v1M1208.5 155v2M1209.5 165v3M1213.5 154v3M1214.5 152v2M1219.5 168v1M1220.5 180v1M1227.5 165v6M1228.5 121v2M1229.5 95v1M1232.5 104v1M1233.5 104v1M1234.5 107v1M1234.5 186v15M1235.5 130v3M1236.5 171v2M1237.5 184v3M1249.5 174v2M1250.5 173v2M1255.5 164v2M1256.5 160v1"/><path stroke="#bfff40" d="M816.5 120v1M1032.5 155v10M1032.5 191v5M1036.5 161v1M1037.5 161v1M1198.5 155v4M1199.5 106v1M1200.5 102v1M1201.5 98v3M1206.5 113v1M1207.5 130v1M1208.5 157v1M1209.5 168v2M1213.5 157v2M1214.5 154v1M1219.5 169v2M1220.5 181v1M1227.5 171v6M1228.5 123v2M1229.5 96v2M1234.5 182v4M1235.5 133v2M1236.5 173v2M1237.5 187v2M1250.5 175v2M1255.5 166v3M1256.5 161v1"/><path stroke="#cfff30" d="M816.5 184v1M817.5 187v1M1032.5 165v19M1032.5 185v6M1198.5 159v4M1199.5 107v2M1200.5 103v1M1201.5 101v2M1206.5 114v1M1206.5 169v1M1207.5 131v1M1208.5 158v2M1209.5 170v4M1213.5 159v3M1214.5 155v2M1219.5 171v2M1220.5 182v2M1227.5 177v3M1228.5 125v3M1229.5 98v1M1234.5 181v1M1235.5 135v2M1236.5 175v2M1237.5 189v2M1250.5 177v4M1255.5 169v2M1256.5 162v2"/><path stroke="#dfff20" d="M816.5 121v1M816.5 183v1M817.5 124v1M817.5 186v1M1032.5 184v1M1036.5 162v1M1036.5 200v1M1037.5 162v1M1037.5 200v1M1198.5 163v5M1199.5 109v1M1200.5 104v1M1201.5 103v3M1206.5 115v2M1206.5 166v3M1206.5 170v6M1207.5 132v2M1208.5 160v3M1209.5 174v3M1213.5 162v2M1214.5 157v2M1219.5 173v1M1220.5 184v2M1227.5 180v4M1228.5 128v2M1229.5 99v1M1234.5 179v2M1235.5 137v1M1235.5 200v1M1236.5 177v1M1237.5 191v2M1250.5 181v4M1255.5 171v2M1256.5 164v2"/><path stroke="#efff10" d="M1036.5 163v1M1036.5 199v1M1037.5 199v1M1198.5 168v6M1199.5 110v1M1200.5 105v1M1201.5 106v5M1206.5 117v1M1206.5 164v2M1206.5 176v2M1207.5 134v1M1208.5 163v2M1209.5 177v3M1213.5 164v3M1213.5 189v12M1214.5 159v1M1219.5 174v2M1220.5 186v4M1227.5 184v5M1228.5 130v3M1229.5 100v1M1232.5 105v1M1234.5 108v1M1234.5 177v2M1235.5 138v2M1235.5 197v3M1236.5 178v2M1237.5 193v2M1250.5 185v6M1255.5 173v3M1256.5 166v1"/><path stroke="#ffff00" d="M816.5 122v1M816.5 182v1M817.5 125v1M817.5 185v1M1037.5 163v1M1198.5 174v9M1199.5 111v2M1200.5 106v3M1201.5 111v5M1206.5 118v2M1206.5 161v3M1206.5 178v1M1207.5 135v2M1208.5 165v3M1209.5 180v3M1213.5 167v2M1213.5 175v14M1214.5 160v2M1219.5 176v2M1220.5 190v5M1227.5 189v4M1228.5 133v2M1229.5 101v1M1231.5 59v6M1233.5 105v1M1233.5 182v2M1234.5 109v1M1234.5 176v1M1235.5 140v2M1235.5 194v3M1236.5 180v1M1237.5 195v2M1250.5 191v10M1255.5 176v2M1255.5 192v9M1256.5 167v2"/><path stroke="#ffef00" d="M1036.5 164v1M1036.5 198v1M1037.5 164v1M1037.5 198v1M1198.5 183v9M1199.5 113v1M1200.5 109v2M1201.5 116v7M1206.5 120v1M1206.5 158v3M1206.5 179v1M1207.5 137v2M1208.5 168v2M1209.5 183v4M1213.5 169v6M1214.5 162v2M1219.5 178v2M1220.5 195v5M1227.5 193v5M1228.5 135v3M1229.5 102v1M1231.5 65v10M1233.5 181v1M1233.5 184v9M1234.5 175v1M1235.5 142v2M1235.5 192v2M1236.5 181v2M1237.5 197v2M1255.5 178v14M1256.5 169v2"/><path stroke="#ffdf00" d="M816.5 181v1M817.5 184v1M1036.5 197v1M1037.5 197v1M1198.5 192v9M1199.5 114v2M1200.5 111v2M1201.5 123v7M1206.5 121v2M1206.5 153v5M1206.5 180v3M1207.5 139v1M1208.5 170v3M1209.5 187v4M1214.5 164v2M1219.5 180v1M1220.5 200v1M1227.5 198v3M1228.5 138v2M1229.5 103v2M1231.5 75v11M1232.5 106v1M1233.5 177v4M1233.5 193v8M1234.5 110v1M1234.5 174v1M1235.5 144v2M1235.5 189v3M1236.5 183v2M1237.5 199v2M1256.5 171v2"/><path stroke="#ffcf00" d="M816.5 123v1M817.5 126v1M817.5 183v1M1036.5 165v1M1037.5 165v1M1199.5 116v1M1200.5 113v2M1201.5 130v15M1206.5 123v1M1206.5 148v5M1206.5 183v3M1207.5 140v2M1208.5 173v2M1209.5 191v5M1214.5 166v1M1219.5 181v2M1228.5 140v3M1229.5 105v1M1231.5 86v9M1233.5 176v1M1234.5 111v1M1234.5 173v1M1235.5 146v2M1235.5 186v3M1236.5 185v1M1256.5 173v1"/><path stroke="#ffbf00" d="M816.5 180v1M1036.5 166v4M1036.5 196v1M1037.5 166v3M1037.5 196v1M1199.5 117v2M1200.5 115v3M1201.5 145v29M1206.5 124v2M1206.5 143v5M1206.5 186v3M1206.5 195v6M1207.5 142v2M1208.5 175v2M1209.5 196v5M1214.5 167v2M1219.5 183v2M1228.5 143v3M1231.5 95v2M1233.5 174v2M1234.5 172v1M1235.5 148v1M1235.5 152v7M1235.5 183v3M1236.5 186v2M1256.5 174v2"/><path stroke="#ffaf00" d="M816.5 124v1M817.5 127v2M817.5 182v1M1036.5 170v4M1036.5 195v1M1037.5 169v5M1037.5 195v1M1199.5 119v1M1200.5 118v2M1201.5 174v27M1206.5 126v2M1206.5 138v5M1206.5 189v6M1207.5 144v2M1208.5 177v2M1214.5 169v32M1219.5 185v12M1228.5 146v3M1229.5 106v1M1231.5 97v1M1232.5 107v1M1233.5 106v1M1233.5 173v1M1234.5 112v1M1234.5 170v2M1235.5 149v3M1235.5 159v8M1235.5 179v4M1236.5 188v2M1256.5 176v2"/><path stroke="#ff9f00" d="M816.5 179v1M817.5 129v1M1036.5 174v4M1036.5 191v4M1037.5 174v4M1037.5 191v4M1199.5 120v3M1200.5 120v4M1200.5 196v5M1206.5 128v2M1206.5 131v7M1207.5 146v2M1208.5 179v3M1219.5 197v4M1228.5 149v3M1229.5 107v1M1231.5 98v2M1233.5 172v1M1234.5 113v1M1234.5 169v1M1235.5 167v12M1236.5 190v3M1256.5 178v23"/><path stroke="#ff8f00" d="M816.5 125v1M817.5 130v2M817.5 181v1M1036.5 178v4M1036.5 187v4M1037.5 178v4M1037.5 187v4M1199.5 123v2M1200.5 124v4M1200.5 183v13M1206.5 130v1M1207.5 148v3M1208.5 182v2M1228.5 152v3M1229.5 108v1M1231.5 100v1M1233.5 171v1M1234.5 168v1M1236.5 193v6"/><path stroke="#ff8000" d="M816.5 178v1M817.5 132v1M1036.5 182v5M1037.5 182v5M1199.5 125v2M1200.5 128v4M1200.5 171v12M1207.5 151v2M1208.5 184v5M1228.5 155v3M1230.5 59v7M1231.5 101v1M1232.5 108v1M1233.5 170v1M1234.5 114v1M1234.5 167v1M1236.5 199v2"/><path stroke="#ff7000" d="M816.5 126v1M817.5 133v2M817.5 180v1M1199.5 127v2M1200.5 132v39M1207.5 153v3M1208.5 189v12M1228.5 158v17M1229.5 109v1M1230.5 66v12M1231.5 102v2M1233.5 169v1M1234.5 115v1M1234.5 166v1"/><path stroke="#ff6000" d="M816.5 177v1M817.5 135v1M1199.5 129v2M1207.5 156v4M1207.5 164v10M1228.5 175v8M1229.5 110v1M1230.5 78v12M1231.5 104v1M1232.5 109v1M1233.5 107v1M1233.5 168v1M1234.5 165v1"/><path stroke="#ff5000" d="M816.5 127v3M816.5 174v3M817.5 136v2M817.5 179v1M1199.5 131v3M1207.5 160v4M1207.5 174v4M1207.5 196v5M1228.5 183v10M1229.5 111v1M1230.5 90v6M1231.5 105v1M1232.5 110v1M1232.5 182v3M1233.5 167v1M1234.5 116v1M1234.5 164v1"/><path stroke="#ff4000" d="M816.5 130v3M816.5 170v4M817.5 138v1M817.5 178v1M1199.5 134v4M1207.5 178v6M1207.5 191v5M1228.5 193v8M1229.5 112v3M1230.5 96v1M1232.5 174v8M1232.5 185v16M1233.5 166v1M1234.5 117v1"/><path stroke="#ff3000" d="M816.5 133v3M816.5 167v3M817.5 139v2M1199.5 138v10M1207.5 184v7M1229.5 115v4M1230.5 97v2M1231.5 106v1M1232.5 111v1M1232.5 172v2M1233.5 108v1M1233.5 165v1M1234.5 118v3M1234.5 163v1"/><path stroke="#ff2000" d="M816.5 136v3M816.5 163v4M817.5 141v2M817.5 177v1M1199.5 148v10M1199.5 195v6M1229.5 119v4M1230.5 99v1M1231.5 107v1M1232.5 169v3M1234.5 121v3M1234.5 162v1"/><path stroke="#ff1000" d="M816.5 139v3M816.5 160v3M817.5 143v1M817.5 175v2M1199.5 158v37M1229.5 123v5M1230.5 100v2M1231.5 108v1M1232.5 112v2M1232.5 167v2M1233.5 109v1M1233.5 164v1M1234.5 124v3M1234.5 161v1"/><path stroke="#ff0000" d="M816.5 142v3M816.5 156v4M817.5 144v2M817.5 169v6M1229.5 128v4M1230.5 102v1M1231.5 109v1M1232.5 114v1M1232.5 165v2M1233.5 163v1M1234.5 127v3M1234.5 159v2"/><path stroke="#ef0000" d="M816.5 145v3M816.5 153v3M817.5 146v2M817.5 162v7M1229.5 132v4M1230.5 103v2M1232.5 115v2M1232.5 163v2M1233.5 110v1M1233.5 162v1M1234.5 130v3M1234.5 158v1"/><path stroke="#df0000" d="M816.5 148v5M817.5 148v2M817.5 154v8M1229.5 136v5M1230.5 105v1M1231.5 110v1M1232.5 117v3M1232.5 162v1M1234.5 133v3M1234.5 156v2"/><path stroke="#cf0000" d="M817.5 150v4M1229.5 141v5M1230.5 106v1M1231.5 111v1M1232.5 120v8M1232.5 159v3M1233.5 111v1M1233.5 161v1M1234.5 136v4M1234.5 155v1"/><path stroke="#bf0000" d="M1229.5 146v6M1229.5 175v7M1229.5 191v10M1230.5 107v1M1231.5 112v5M1231.5 199v2M1232.5 128v6M1232.5 156v3M1233.5 112v1M1233.5 159v2M1234.5 140v3M1234.5 153v2"/><path stroke="#af0000" d="M1229.5 152v7M1229.5 163v12M1229.5 182v9M1231.5 117v9M1231.5 177v22M1232.5 134v6M1232.5 154v2M1233.5 113v1M1233.5 158v1M1234.5 143v4M1234.5 151v2"/><path stroke="#9f0000" d="M1229.5 159v4M1230.5 108v1M1231.5 126v9M1231.5 170v7M1232.5 140v5M1232.5 152v2M1233.5 157v1M1234.5 147v4"/><path stroke="#8f0000" d="M1230.5 109v2M1231.5 135v9M1231.5 163v7M1232.5 145v7M1233.5 114v2M1233.5 156v1"/><path stroke="#800000" d="M1230.5 111v90M1231.5 144v19M1233.5 116v40"/></g></g>
<path d="M809 200.5h5M1284 200.5h-5M809 184.5h5M1284 184.5h-5M809 169.5h5M1284 169.5h-5M809 156.5h5M1284 156.5h-5M809 134.5h5M1284 134.5h-5M809 115.5h5M1284 115.5h-5M809 98.5h5M1284 98.5h-5M809 83.5h5M1284 83.5h-5M809 70.5h5M1284 70.5h-5M809 59.5h5M1284 59.5h-5M927.5 201v-5M927.5 59v5M1046.5 201v-5M1046.5 59v5M1165.5 201v-5M1165.5 59v5" stroke="#000" stroke-width="1" fill="none" opacity="0.3"/>
<text class="e" x="805.5" y="209.9">7</text>
<text class="e" x="805.5" y="193.3">8</text>
<text class="e" x="805.5" y="178.7">9</text>
<text class="e" x="805.5" y="165.7">10</text>
<text class="e" x="805.5" y="143.1">12</text>
<text class="e" x="805.5" y="123.9">14</text>
<text class="e" x="805.5" y="107.4">16</text>
<text class="e" x="805.5" y="92.8">18</text>
<text class="e" x="805.5" y="79.7">20</text>
<text class="e" x="805.5" y="67.9">22</text>
<text class="m" x="809.0" y="227.2">00:00</text>
<text class="m" x="927.8" y="227.2">06:00</text>
<text class="m" x="1046.5" y="227.2">12:00</text>
<text class="m" x="1165.2" y="227.2">18:00</text>
<text class="m" x="1284.0" y="227.2">00:00</text>
<text class="b m" transform="translate(771.5 129.7) rotate(-90)">freq (mHz)</text>
<rect x="1302" y="59" width="26" height="142" fill="url(#jet)"/>
<rect x="1302.5" y="59.5" width="25" height="141" fill="none" stroke="#555" stroke-opacity="0.45" stroke-width="1"/>
<text x="1331" y="68.2">4</text>
<text x="1331" y="115.5">2</text>
<text x="1331" y="162.9">0</text>
<text x="1331" y="210.2">-2</text>
<path d="M1302 106.5h3M1328 106.5h-3M1302 153.5h3M1328 153.5h-3" stroke="#000" stroke-width="1" fill="none" opacity="0.35"/>
<text class="b m" transform="translate(1371.6 130.8) rotate(-90)">log<tspan font-size="16" dy="10">2</tspan><tspan dy="-10">(nT</tspan><tspan font-size="15" dy="-11.2">2</tspan><tspan dy="11.2">/Hz)</tspan></text>
<g shape-rendering="crispEdges" fill="none" stroke-width="1"><rect x="809" y="295" width="475" height="142" fill="#00008f" stroke="none"/><g filter="url(#bl)" clip-path="url(#cp1)"><path stroke="#00009f" d="M809.5 365v1M810.5 368v1M811.5 370v1M812.5 377v1M814.5 349v2M815.5 308v1M816.5 307v1M817.5 334v4M818.5 351v1M819.5 377v4M820.5 375v4M821.5 353v3M822.5 344v1M823.5 350v2M824.5 381v4M824.5 428v9M826.5 340v4M826.5 388v4M827.5 412v5M828.5 390v2M829.5 380v2M830.5 382v1M831.5 327v5M831.5 402v3M832.5 335v10M832.5 392v8M846.5 394v13M847.5 394v13M892.5 392v2M893.5 388v1M894.5 394v2M895.5 432v5M900.5 408v5M901.5 397v2M902.5 408v5M907.5 373v5M907.5 422v3M908.5 345v4M909.5 295v9M911.5 318v11M912.5 346v2M912.5 421v2M913.5 342v1M915.5 325v5M919.5 310v3M919.5 379v3M919.5 397v3M920.5 388v1M921.5 389v1M922.5 411v4M924.5 367v4M924.5 399v1M925.5 354v2M925.5 429v4M926.5 354v2M927.5 378v12M928.5 392v2M929.5 409v5M934.5 395v4M935.5 391v4M976.5 347v6M977.5 360v3M980.5 415v5M1000.5 436v1M1001.5 401v5M1002.5 383v2M1003.5 383v2M1004.5 400v5M1005.5 436v1M1006.5 371v7M1006.5 419v6M1007.5 371v7M1007.5 415v7M1031.5 376v5M1032.5 314v3M1032.5 396v3M1033.5 375v7M1034.5 397v7M1035.5 295v18M1035.5 351v9M1037.5 295v7M1038.5 359v4M1039.5 386v2M1040.5 399v2M1041.5 328v5M1042.5 328v5M1043.5 411v8M1044.5 417v3M1045.5 393v2M1046.5 382v2M1047.5 382v2M1048.5 393v2M1049.5 422v15M1123.5 402v7M1202.5 309v5M1203.5 343v12M1204.5 408v5M1211.5 398v11M1212.5 377v2M1213.5 387v5M1215.5 379v4M1215.5 424v1M1226.5 422v2M1227.5 381v2M1228.5 301v6M1233.5 353v2M1234.5 367v2M1235.5 363v5M1236.5 346v2M1237.5 348v1M1238.5 375v48M1247.5 408v4M1248.5 384v4M1249.5 338v3M1250.5 333v3M1251.5 366v9M1252.5 398v3M1253.5 427v3M1254.5 402v3M1255.5 360v3M1256.5 353v2M1257.5 372v5M1258.5 413v4M1282.5 407v8M1283.5 391v2"/><path stroke="#0000af" d="M809.5 366v1M812.5 378v1M814.5 351v1M815.5 309v2M816.5 308v2M817.5 338v1M818.5 352v1M819.5 381v2M820.5 379v3M821.5 356v2M822.5 345v2M823.5 352v3M824.5 385v5M824.5 419v9M826.5 344v3M826.5 385v3M827.5 417v5M827.5 436v1M828.5 392v3M829.5 382v1M830.5 383v2M831.5 332v5M831.5 405v2M832.5 345v21M832.5 385v7M891.5 295v3M892.5 394v1M893.5 389v1M894.5 396v1M900.5 413v9M901.5 399v2M902.5 413v9M907.5 378v3M907.5 420v2M908.5 349v2M909.5 304v5M911.5 329v4M912.5 348v2M912.5 418v3M913.5 343v2M915.5 321v4M919.5 313v3M919.5 377v2M919.5 400v5M920.5 389v1M921.5 390v1M922.5 415v15M923.5 398v2M924.5 371v5M924.5 391v8M925.5 356v1M925.5 433v3M926.5 356v1M928.5 394v1M929.5 414v4M934.5 393v2M935.5 295v13M935.5 382v9M976.5 340v7M977.5 358v2M980.5 409v6M1001.5 406v5M1002.5 385v2M1003.5 385v2M1004.5 405v4M1006.5 378v20M1006.5 413v6M1007.5 378v28M1007.5 411v4M1032.5 317v3M1032.5 394v2M1034.5 404v5M1034.5 435v2M1035.5 360v7M1037.5 302v7M1038.5 363v3M1039.5 388v2M1040.5 401v3M1041.5 333v4M1042.5 333v4M1043.5 419v3M1044.5 420v3M1045.5 395v4M1046.5 384v1M1047.5 384v1M1048.5 395v5M1123.5 295v16M1123.5 397v5M1202.5 314v2M1203.5 355v10M1204.5 413v3M1211.5 409v9M1212.5 379v2M1213.5 392v9M1215.5 383v3M1215.5 422v2M1226.5 424v3M1227.5 383v2M1228.5 307v6M1232.5 295v1M1233.5 355v1M1234.5 369v1M1235.5 368v7M1236.5 348v1M1237.5 349v1M1238.5 423v14M1247.5 412v1M1248.5 388v1M1249.5 341v3M1250.5 336v2M1251.5 375v3M1252.5 401v2M1253.5 430v2M1254.5 405v2M1255.5 363v2M1256.5 355v1M1257.5 377v3M1258.5 417v3M1282.5 415v8M1283.5 393v1"/><path stroke="#0000bf" d="M809.5 367v1M810.5 369v1M811.5 371v1M812.5 379v1M814.5 352v1M815.5 311v1M816.5 310v1M817.5 339v1M818.5 353v1M819.5 383v2M820.5 382v1M821.5 358v2M822.5 347v1M823.5 355v3M824.5 390v4M824.5 405v14M826.5 347v5M826.5 382v3M827.5 422v14M828.5 395v2M829.5 383v1M830.5 385v1M831.5 337v11M831.5 407v4M832.5 366v19M891.5 298v19M891.5 386v2M892.5 395v1M893.5 390v1M894.5 397v1M900.5 422v7M901.5 401v1M902.5 422v7M907.5 381v2M907.5 417v3M908.5 351v2M909.5 309v4M911.5 333v4M912.5 350v1M912.5 415v3M913.5 345v1M913.5 407v1M915.5 303v18M919.5 316v5M919.5 374v3M919.5 405v3M920.5 390v1M921.5 391v1M922.5 384v4M922.5 430v7M923.5 392v6M924.5 376v15M925.5 357v1M925.5 407v1M925.5 436v1M926.5 357v2M928.5 395v1M929.5 418v3M934.5 390v3M935.5 308v18M935.5 370v12M976.5 332v8M977.5 356v2M980.5 404v5M1001.5 411v3M1002.5 387v2M1003.5 387v2M1004.5 409v4M1006.5 398v15M1007.5 406v5M1032.5 320v2M1032.5 392v2M1034.5 409v10M1034.5 432v3M1035.5 367v5M1037.5 309v7M1038.5 366v3M1039.5 390v2M1040.5 404v2M1041.5 337v8M1042.5 337v8M1043.5 422v4M1044.5 423v5M1045.5 399v4M1046.5 385v2M1047.5 385v2M1048.5 400v3M1123.5 311v86M1202.5 316v3M1203.5 365v8M1204.5 416v3M1211.5 418v14M1212.5 381v2M1213.5 401v7M1215.5 386v2M1215.5 420v2M1226.5 427v1M1227.5 385v3M1228.5 313v8M1232.5 296v14M1234.5 370v2M1235.5 375v4M1236.5 349v1M1237.5 350v1M1247.5 413v2M1248.5 389v2M1249.5 344v5M1250.5 338v2M1251.5 378v3M1252.5 403v1M1253.5 432v1M1254.5 407v1M1255.5 365v3M1256.5 356v2M1257.5 380v3M1258.5 420v1M1282.5 423v10M1283.5 394v1"/><path stroke="#0000cf" d="M811.5 372v1M812.5 380v1M814.5 353v1M815.5 312v10M817.5 340v1M818.5 354v1M819.5 385v1M820.5 383v2M821.5 360v2M823.5 358v2M824.5 394v11M826.5 352v30M828.5 397v2M829.5 384v1M830.5 386v2M831.5 348v15M831.5 411v3M891.5 317v19M891.5 382v4M891.5 388v17M892.5 396v1M892.5 405v3M893.5 391v1M894.5 398v3M900.5 429v6M901.5 402v2M902.5 429v6M907.5 383v4M907.5 413v4M908.5 353v2M909.5 313v5M911.5 337v3M911.5 436v1M912.5 351v1M912.5 412v3M913.5 346v1M913.5 406v1M915.5 295v8M919.5 321v25M919.5 372v2M919.5 408v4M920.5 391v1M921.5 392v1M922.5 381v3M922.5 388v8M923.5 387v5M925.5 358v1M925.5 405v2M926.5 359v1M926.5 408v2M928.5 396v1M929.5 421v3M934.5 383v7M935.5 326v33M935.5 360v10M976.5 295v37M977.5 354v2M980.5 394v10M1001.5 414v4M1002.5 389v1M1003.5 389v1M1004.5 413v2M1032.5 322v1M1032.5 390v2M1034.5 419v13M1035.5 372v4M1037.5 316v6M1038.5 369v3M1039.5 392v2M1040.5 406v2M1041.5 345v14M1042.5 345v14M1043.5 426v8M1044.5 428v9M1045.5 403v3M1046.5 387v1M1047.5 387v1M1048.5 403v4M1202.5 319v15M1202.5 377v4M1203.5 373v7M1204.5 419v2M1211.5 432v5M1212.5 383v2M1213.5 408v6M1215.5 388v8M1215.5 417v3M1226.5 428v2M1227.5 388v2M1228.5 321v8M1232.5 310v14M1233.5 356v1M1234.5 372v1M1235.5 379v2M1237.5 351v1M1247.5 415v2M1248.5 391v2M1249.5 349v6M1250.5 340v2M1251.5 381v2M1252.5 404v2M1253.5 433v1M1254.5 408v2M1255.5 368v3M1256.5 358v1M1257.5 383v4M1258.5 421v2M1282.5 433v4M1283.5 395v1"/><path stroke="#0000df" d="M810.5 370v1M812.5 381v1M814.5 354v1M815.5 322v8M816.5 311v1M817.5 341v1M819.5 386v1M820.5 385v2M821.5 362v2M822.5 348v1M823.5 360v3M828.5 399v2M829.5 385v1M830.5 388v1M831.5 363v16M831.5 414v4M891.5 336v46M892.5 397v3M892.5 408v3M893.5 392v1M894.5 401v3M900.5 435v2M901.5 404v1M902.5 435v2M907.5 387v5M907.5 410v3M908.5 355v1M909.5 318v3M911.5 340v2M911.5 433v3M912.5 352v2M912.5 409v3M913.5 347v1M913.5 404v2M919.5 346v26M919.5 412v3M920.5 392v1M921.5 393v1M922.5 376v5M922.5 396v4M923.5 383v4M925.5 359v1M925.5 404v1M926.5 360v1M926.5 410v3M928.5 397v1M929.5 424v3M934.5 295v17M934.5 375v8M935.5 359v1M977.5 353v1M980.5 358v36M1001.5 418v3M1002.5 390v1M1003.5 390v1M1004.5 415v4M1032.5 323v2M1032.5 389v1M1035.5 376v2M1037.5 322v5M1038.5 372v2M1039.5 394v2M1040.5 408v3M1041.5 359v14M1042.5 359v14M1043.5 434v3M1045.5 406v2M1046.5 388v1M1047.5 388v1M1048.5 407v2M1202.5 334v43M1202.5 381v19M1203.5 380v5M1204.5 421v2M1212.5 385v1M1213.5 414v6M1213.5 425v6M1215.5 396v17M1215.5 415v2M1226.5 430v1M1227.5 390v2M1228.5 329v9M1232.5 324v9M1233.5 357v1M1234.5 373v1M1235.5 381v2M1236.5 350v1M1237.5 352v1M1247.5 417v2M1248.5 393v1M1249.5 355v5M1250.5 342v1M1251.5 383v2M1252.5 406v2M1253.5 434v1M1254.5 410v1M1255.5 371v2M1256.5 359v2M1257.5 387v4M1258.5 423v2"/><path stroke="#0000ef" d="M811.5 373v1M812.5 382v1M814.5 355v1M815.5 330v7M816.5 312v2M817.5 342v1M818.5 355v1M819.5 387v2M820.5 387v1M821.5 364v2M822.5 349v1M823.5 363v2M828.5 401v1M829.5 386v1M830.5 389v1M831.5 379v1M831.5 384v15M831.5 418v2M831.5 435v2M892.5 400v3M892.5 411v2M893.5 393v1M894.5 404v3M901.5 405v2M907.5 392v6M907.5 406v4M908.5 356v2M909.5 321v3M911.5 342v3M911.5 430v3M912.5 354v2M912.5 408v1M913.5 348v1M913.5 403v1M919.5 415v9M920.5 393v1M921.5 394v1M922.5 372v4M923.5 380v3M925.5 360v1M925.5 403v1M926.5 361v1M926.5 413v3M928.5 398v1M929.5 427v2M934.5 312v14M934.5 367v8M942.5 405v32M943.5 405v32M977.5 351v2M980.5 295v63M1001.5 421v4M1002.5 391v1M1003.5 391v1M1004.5 419v3M1032.5 325v11M1032.5 387v2M1035.5 378v2M1037.5 327v5M1038.5 374v2M1039.5 396v2M1040.5 411v3M1041.5 373v8M1042.5 373v9M1045.5 408v3M1046.5 389v1M1047.5 389v1M1048.5 409v3M1202.5 400v11M1203.5 385v5M1204.5 423v2M1212.5 386v2M1213.5 420v5M1213.5 431v6M1215.5 413v2M1226.5 431v1M1227.5 392v1M1228.5 338v3M1232.5 333v4M1234.5 374v1M1235.5 383v2M1236.5 351v1M1237.5 353v1M1247.5 419v1M1248.5 394v1M1249.5 360v6M1250.5 343v2M1251.5 385v2M1252.5 408v1M1253.5 435v2M1254.5 411v2M1255.5 373v2M1256.5 361v1M1257.5 391v3M1258.5 425v2M1283.5 396v1"/><path stroke="#0000ff" d="M809.5 368v1M810.5 371v1M814.5 356v5M815.5 337v2M816.5 314v3M818.5 356v1M819.5 389v1M820.5 388v2M821.5 366v1M822.5 350v1M823.5 365v2M828.5 402v2M829.5 387v1M830.5 390v1M831.5 380v4M831.5 399v1M831.5 420v3M831.5 429v6M892.5 403v2M892.5 413v2M893.5 394v1M894.5 407v2M901.5 407v2M907.5 398v8M908.5 358v1M908.5 433v4M909.5 324v2M911.5 345v2M911.5 429v1M912.5 356v2M913.5 349v1M913.5 402v1M919.5 424v13M921.5 395v1M922.5 368v4M923.5 374v6M925.5 361v1M925.5 402v1M926.5 416v2M929.5 429v2M934.5 326v41M942.5 316v89M943.5 316v89M977.5 349v2M1001.5 425v3M1002.5 392v1M1003.5 392v1M1004.5 422v6M1032.5 336v11M1032.5 385v2M1035.5 380v2M1037.5 332v5M1038.5 376v1M1039.5 398v1M1040.5 414v3M1041.5 381v8M1042.5 382v9M1045.5 411v2M1046.5 390v1M1047.5 390v1M1048.5 412v3M1202.5 411v3M1203.5 390v4M1204.5 425v9M1212.5 388v1M1226.5 432v1M1227.5 393v1M1228.5 341v2M1232.5 337v4M1233.5 358v1M1234.5 375v1M1235.5 385v1M1237.5 354v1M1247.5 420v2M1248.5 395v1M1249.5 366v4M1250.5 345v4M1251.5 387v1M1252.5 409v1M1254.5 413v1M1255.5 375v2M1256.5 362v1M1257.5 394v3M1258.5 427v3M1283.5 397v1"/><path stroke="#0010ff" d="M811.5 374v1M812.5 383v1M814.5 361v7M815.5 339v1M816.5 317v2M817.5 343v1M818.5 357v1M819.5 390v1M820.5 390v1M821.5 367v1M822.5 351v1M823.5 367v2M828.5 404v1M829.5 388v1M830.5 391v2M831.5 423v6M892.5 415v16M894.5 409v2M901.5 409v2M908.5 359v1M908.5 430v3M909.5 326v3M911.5 347v2M911.5 428v1M912.5 358v2M913.5 350v1M913.5 401v1M920.5 394v1M921.5 396v1M922.5 364v4M923.5 368v6M925.5 362v1M925.5 401v1M926.5 362v2M926.5 418v2M927.5 392v1M928.5 399v1M929.5 431v2M942.5 295v21M943.5 295v21M977.5 346v3M1001.5 428v3M1002.5 393v2M1003.5 393v2M1004.5 428v3M1032.5 347v12M1032.5 383v2M1035.5 382v2M1037.5 337v4M1038.5 377v1M1039.5 399v2M1040.5 417v4M1041.5 389v7M1042.5 391v8M1045.5 413v3M1046.5 391v1M1047.5 391v1M1048.5 415v3M1202.5 414v3M1203.5 394v5M1204.5 434v3M1212.5 389v6M1226.5 433v1M1227.5 394v1M1228.5 343v2M1230.5 295v1M1232.5 341v3M1234.5 376v1M1235.5 386v2M1236.5 352v1M1237.5 355v1M1247.5 422v2M1248.5 396v1M1249.5 370v4M1250.5 349v5M1251.5 388v1M1252.5 410v1M1254.5 414v1M1255.5 377v2M1256.5 363v1M1257.5 397v2M1258.5 430v2M1283.5 398v1"/><path stroke="#0020ff" d="M809.5 369v1M810.5 372v1M812.5 384v1M814.5 368v5M816.5 319v2M818.5 358v2M819.5 391v1M820.5 391v1M821.5 368v2M822.5 352v1M823.5 369v2M828.5 405v1M829.5 389v1M830.5 393v2M892.5 431v6M893.5 395v1M894.5 411v2M901.5 411v8M908.5 360v2M908.5 428v2M909.5 329v2M911.5 349v1M911.5 426v2M912.5 360v2M913.5 351v1M913.5 400v1M920.5 395v1M921.5 400v3M922.5 360v4M923.5 363v5M925.5 363v2M925.5 400v1M926.5 364v3M926.5 420v3M927.5 393v1M928.5 400v1M929.5 433v2M977.5 343v3M1001.5 431v3M1002.5 395v2M1003.5 395v2M1004.5 431v3M1032.5 359v11M1032.5 381v2M1035.5 384v1M1037.5 341v4M1038.5 378v1M1039.5 401v2M1040.5 421v3M1041.5 396v8M1042.5 399v12M1045.5 416v3M1046.5 392v1M1047.5 392v1M1048.5 418v3M1048.5 434v3M1202.5 417v3M1203.5 399v6M1212.5 395v8M1226.5 434v2M1227.5 395v2M1228.5 345v2M1230.5 296v1M1232.5 344v3M1233.5 359v1M1234.5 377v1M1235.5 388v1M1236.5 353v1M1237.5 356v2M1247.5 424v2M1248.5 397v1M1249.5 374v2M1250.5 354v5M1251.5 389v1M1252.5 411v2M1254.5 415v2M1255.5 379v2M1256.5 364v2M1257.5 399v2M1258.5 432v2M1283.5 399v1"/><path stroke="#0030ff" d="M811.5 375v1M812.5 385v1M813.5 388v1M814.5 373v5M815.5 340v1M816.5 321v1M817.5 344v1M818.5 360v1M819.5 392v2M819.5 435v2M820.5 392v2M821.5 370v1M822.5 353v1M823.5 371v2M823.5 433v4M828.5 406v2M829.5 390v1M830.5 395v2M893.5 396v1M894.5 413v8M901.5 419v8M908.5 362v1M908.5 427v1M909.5 331v2M911.5 350v2M911.5 425v1M912.5 362v2M913.5 352v2M913.5 399v1M920.5 396v1M921.5 397v2M921.5 403v3M922.5 357v3M923.5 358v5M925.5 365v4M925.5 399v1M926.5 367v3M926.5 423v2M927.5 394v1M928.5 401v1M929.5 435v2M977.5 340v3M1001.5 434v3M1002.5 397v4M1003.5 397v4M1004.5 434v3M1032.5 370v11M1035.5 385v2M1037.5 345v4M1038.5 379v2M1039.5 403v2M1040.5 424v4M1040.5 436v1M1041.5 404v8M1042.5 411v10M1045.5 419v3M1045.5 433v4M1046.5 393v1M1047.5 393v1M1048.5 421v3M1048.5 427v7M1202.5 420v3M1202.5 431v6M1203.5 405v5M1212.5 403v9M1227.5 397v1M1228.5 347v3M1230.5 297v1M1232.5 347v1M1235.5 389v2M1237.5 358v2M1247.5 426v2M1248.5 398v1M1249.5 376v2M1250.5 359v5M1251.5 390v1M1252.5 413v1M1254.5 417v1M1255.5 381v2M1256.5 366v2M1257.5 401v1M1258.5 434v2M1283.5 400v2"/><path stroke="#0040ff" d="M810.5 373v1M814.5 378v4M815.5 341v1M816.5 322v2M818.5 361v2M819.5 394v2M819.5 433v2M820.5 394v2M820.5 433v4M821.5 371v1M822.5 354v1M823.5 373v2M823.5 429v4M828.5 408v3M829.5 391v2M830.5 397v2M830.5 400v2M893.5 397v1M894.5 421v16M901.5 427v8M908.5 363v1M908.5 426v1M909.5 333v1M910.5 295v5M911.5 352v1M911.5 424v1M912.5 364v1M912.5 407v1M913.5 354v4M913.5 398v1M921.5 399v1M921.5 406v3M922.5 295v3M922.5 355v2M923.5 295v3M923.5 355v3M925.5 369v3M925.5 398v1M926.5 370v4M926.5 390v2M926.5 406v2M926.5 425v2M927.5 395v1M928.5 402v2M977.5 337v3M1002.5 401v3M1003.5 401v3M1035.5 387v1M1037.5 349v3M1038.5 381v1M1039.5 405v1M1040.5 428v8M1041.5 412v9M1042.5 421v12M1045.5 422v11M1046.5 394v1M1047.5 394v1M1048.5 424v3M1202.5 423v8M1203.5 410v3M1212.5 412v9M1226.5 436v1M1227.5 398v2M1228.5 350v2M1230.5 298v1M1232.5 348v1M1233.5 360v1M1234.5 378v1M1235.5 391v1M1236.5 354v1M1237.5 360v2M1247.5 428v1M1248.5 399v1M1249.5 378v1M1250.5 364v5M1251.5 391v1M1252.5 414v1M1254.5 418v1M1255.5 383v2M1256.5 368v1M1257.5 402v1M1258.5 436v1M1283.5 402v5"/><path stroke="#0050ff" d="M809.5 370v1M811.5 376v1M812.5 386v1M813.5 389v1M814.5 382v3M816.5 324v2M817.5 345v1M818.5 363v1M819.5 396v2M819.5 431v2M820.5 396v7M820.5 427v6M821.5 372v2M822.5 355v2M823.5 375v2M823.5 426v3M828.5 411v4M829.5 393v1M830.5 399v1M830.5 402v1M893.5 398v2M901.5 435v2M908.5 425v1M909.5 334v1M910.5 300v4M911.5 353v1M911.5 423v1M912.5 365v2M912.5 405v2M913.5 358v4M913.5 397v1M920.5 397v1M921.5 409v2M922.5 298v5M922.5 352v3M923.5 298v5M923.5 353v2M925.5 372v4M925.5 387v11M926.5 374v3M926.5 384v6M926.5 404v2M926.5 427v3M927.5 396v1M928.5 404v3M928.5 408v2M977.5 334v3M1002.5 404v4M1003.5 404v3M1035.5 388v2M1037.5 352v2M1038.5 382v1M1039.5 406v2M1041.5 421v8M1042.5 433v4M1046.5 395v4M1047.5 395v4M1203.5 413v2M1212.5 421v16M1227.5 400v1M1228.5 352v2M1230.5 299v1M1234.5 379v1M1235.5 392v2M1236.5 355v2M1237.5 362v2M1247.5 429v2M1248.5 400v1M1249.5 379v2M1250.5 369v6M1251.5 392v1M1252.5 415v1M1254.5 419v1M1255.5 385v2M1256.5 369v2M1257.5 403v1M1283.5 407v4"/><path stroke="#0060ff" d="M810.5 374v1M812.5 387v1M814.5 385v2M815.5 342v1M816.5 326v2M818.5 364v2M819.5 398v3M819.5 429v2M820.5 403v7M820.5 423v4M821.5 374v1M822.5 357v2M823.5 377v3M823.5 422v4M828.5 415v3M828.5 433v4M829.5 394v2M830.5 403v2M893.5 400v3M908.5 364v1M908.5 424v1M909.5 335v2M910.5 304v5M911.5 354v1M911.5 422v1M912.5 367v3M912.5 404v1M913.5 362v3M913.5 396v1M920.5 398v4M921.5 411v3M922.5 303v3M922.5 350v2M923.5 303v3M923.5 350v3M925.5 376v3M925.5 381v6M926.5 377v7M926.5 392v2M926.5 401v3M926.5 430v2M927.5 397v1M928.5 407v1M928.5 410v2M977.5 330v4M1002.5 408v3M1003.5 407v4M1035.5 390v3M1037.5 354v2M1038.5 383v1M1039.5 408v2M1041.5 429v8M1046.5 399v3M1047.5 399v3M1203.5 415v3M1227.5 401v1M1228.5 354v2M1230.5 300v1M1232.5 349v1M1233.5 361v1M1234.5 380v1M1235.5 394v1M1236.5 357v2M1237.5 364v3M1247.5 431v1M1248.5 401v1M1249.5 381v2M1250.5 375v2M1251.5 393v1M1252.5 416v1M1254.5 420v2M1255.5 387v3M1256.5 371v1M1257.5 404v1M1283.5 411v4"/><path stroke="#0070ff" d="M809.5 371v1M811.5 377v1M813.5 390v1M814.5 387v1M815.5 343v1M816.5 328v2M817.5 346v1M818.5 366v1M819.5 401v2M819.5 427v2M820.5 410v13M821.5 375v2M822.5 359v2M823.5 380v3M823.5 419v3M828.5 418v4M828.5 429v4M829.5 396v2M830.5 405v2M893.5 403v4M908.5 365v1M908.5 422v2M909.5 337v1M910.5 309v4M911.5 355v2M911.5 421v1M912.5 370v2M912.5 402v2M913.5 365v4M913.5 392v4M920.5 402v3M921.5 414v23M922.5 306v4M922.5 348v2M923.5 306v4M923.5 348v2M925.5 379v2M926.5 394v7M926.5 432v2M927.5 398v1M928.5 412v3M977.5 311v19M1002.5 411v4M1003.5 411v3M1035.5 393v4M1035.5 436v1M1036.5 295v56M1037.5 356v2M1038.5 384v1M1039.5 410v3M1046.5 402v3M1047.5 402v4M1203.5 418v2M1227.5 402v1M1228.5 356v1M1230.5 301v2M1234.5 381v1M1235.5 395v2M1236.5 359v3M1237.5 367v2M1247.5 432v2M1249.5 383v1M1250.5 377v1M1252.5 417v1M1254.5 422v1M1255.5 390v2M1256.5 372v2M1283.5 415v5"/><path stroke="#0080ff" d="M809.5 372v1M810.5 375v1M816.5 330v1M818.5 367v1M819.5 403v3M819.5 426v1M821.5 377v1M822.5 361v1M823.5 383v2M823.5 415v4M828.5 422v7M829.5 398v1M830.5 407v1M893.5 407v3M908.5 366v2M908.5 421v1M909.5 338v2M910.5 313v3M910.5 434v3M911.5 357v1M911.5 420v1M912.5 372v3M912.5 399v3M913.5 369v4M913.5 381v11M920.5 405v3M922.5 310v4M922.5 346v2M923.5 310v4M923.5 346v2M926.5 434v3M927.5 399v1M928.5 415v3M977.5 295v16M1002.5 415v4M1003.5 414v5M1035.5 397v3M1035.5 434v2M1036.5 351v4M1037.5 358v2M1038.5 385v1M1039.5 413v4M1046.5 405v4M1047.5 406v3M1203.5 420v3M1227.5 403v1M1228.5 357v1M1230.5 303v1M1232.5 350v1M1233.5 362v1M1235.5 397v1M1236.5 362v2M1237.5 369v5M1237.5 406v20M1247.5 434v1M1248.5 402v1M1249.5 384v2M1250.5 378v2M1251.5 394v1M1252.5 418v1M1255.5 392v2M1256.5 374v2M1257.5 405v1M1283.5 420v11"/><path stroke="#008fff" d="M809.5 373v1M811.5 378v1M813.5 391v1M814.5 388v1M815.5 344v1M816.5 331v2M817.5 347v1M818.5 368v1M819.5 406v2M819.5 425v1M821.5 378v2M822.5 362v2M823.5 385v3M823.5 410v5M829.5 399v2M830.5 408v4M830.5 436v1M893.5 410v2M908.5 368v1M908.5 420v1M909.5 340v1M909.5 435v2M910.5 316v4M910.5 432v2M911.5 358v1M911.5 419v1M912.5 375v4M912.5 397v2M913.5 373v8M920.5 408v3M922.5 314v4M922.5 335v11M923.5 314v4M923.5 335v11M927.5 400v1M927.5 408v1M928.5 418v3M1002.5 419v4M1003.5 419v4M1035.5 400v4M1035.5 433v1M1036.5 355v4M1037.5 360v2M1038.5 386v2M1039.5 417v4M1039.5 435v2M1046.5 409v3M1047.5 409v3M1203.5 423v14M1227.5 404v1M1228.5 358v1M1230.5 304v1M1234.5 382v1M1235.5 398v1M1236.5 364v2M1237.5 374v10M1237.5 396v10M1237.5 426v6M1247.5 435v2M1248.5 403v1M1249.5 386v1M1250.5 380v2M1251.5 395v1M1252.5 419v1M1254.5 423v1M1255.5 394v3M1256.5 376v1M1257.5 406v1M1283.5 431v6"/><path stroke="#009fff" d="M809.5 374v1M810.5 376v1M811.5 379v1M812.5 388v1M814.5 389v2M816.5 333v2M818.5 369v1M819.5 408v3M819.5 423v2M821.5 380v2M822.5 364v2M823.5 388v3M823.5 404v6M829.5 401v2M830.5 412v4M830.5 432v4M893.5 412v25M908.5 369v2M908.5 419v1M909.5 341v2M909.5 433v2M910.5 320v4M910.5 430v2M911.5 359v1M911.5 418v1M912.5 379v5M912.5 395v2M920.5 411v3M920.5 422v15M922.5 318v17M923.5 318v17M927.5 401v3M927.5 409v3M928.5 421v3M1002.5 423v5M1003.5 423v5M1035.5 404v3M1035.5 431v2M1036.5 359v4M1037.5 362v3M1038.5 388v1M1039.5 421v5M1039.5 433v2M1046.5 412v4M1046.5 434v3M1047.5 412v4M1047.5 434v3M1227.5 405v1M1228.5 359v1M1230.5 305v2M1233.5 363v1M1234.5 383v1M1235.5 399v2M1236.5 366v2M1237.5 384v12M1237.5 432v4M1248.5 404v1M1249.5 387v2M1250.5 382v2M1251.5 396v1M1252.5 420v1M1254.5 424v2M1255.5 397v2M1256.5 377v2M1257.5 407v1"/><path stroke="#00afff" d="M809.5 375v1M810.5 377v1M812.5 389v1M813.5 392v1M814.5 391v2M815.5 345v1M816.5 335v2M817.5 348v1M818.5 370v1M819.5 411v3M819.5 422v1M821.5 382v2M821.5 434v3M822.5 366v2M822.5 435v2M823.5 391v2M823.5 398v6M829.5 403v2M830.5 416v4M830.5 429v3M908.5 371v2M908.5 417v2M909.5 343v1M909.5 430v3M910.5 324v3M910.5 429v1M911.5 360v2M911.5 416v2M912.5 384v11M920.5 414v8M927.5 404v4M927.5 412v4M928.5 424v3M1002.5 428v5M1003.5 428v5M1035.5 407v24M1036.5 363v4M1037.5 365v2M1038.5 389v1M1039.5 426v7M1046.5 416v4M1046.5 430v4M1047.5 416v4M1047.5 430v4M1227.5 406v1M1228.5 360v1M1230.5 307v1M1232.5 351v1M1234.5 384v1M1235.5 401v1M1236.5 368v5M1237.5 436v1M1248.5 405v1M1250.5 384v1M1251.5 397v1M1252.5 421v2M1254.5 426v1M1255.5 399v1M1256.5 379v1"/><path stroke="#00bfff" d="M809.5 376v1M811.5 380v1M814.5 393v1M815.5 346v1M815.5 436v1M816.5 337v1M818.5 371v1M819.5 414v3M819.5 421v1M821.5 384v2M821.5 430v4M822.5 368v2M822.5 432v3M823.5 393v5M829.5 405v1M830.5 420v9M908.5 373v1M908.5 416v1M909.5 344v2M909.5 429v1M910.5 327v3M910.5 428v1M911.5 362v1M911.5 414v2M927.5 416v3M928.5 427v2M1002.5 433v4M1003.5 433v4M1036.5 367v4M1037.5 367v2M1038.5 390v2M1046.5 420v4M1046.5 426v4M1047.5 420v10M1227.5 407v1M1228.5 361v1M1230.5 308v1M1231.5 295v35M1233.5 364v1M1234.5 385v1M1235.5 402v1M1236.5 373v11M1248.5 406v1M1249.5 389v1M1250.5 385v2M1251.5 398v1M1252.5 423v1M1254.5 427v2M1255.5 400v1M1256.5 380v2M1257.5 408v1"/><path stroke="#00cfff" d="M809.5 377v1M810.5 378v1M811.5 381v1M812.5 390v1M813.5 393v1M814.5 394v2M815.5 435v1M816.5 338v1M818.5 372v1M819.5 417v4M821.5 386v1M821.5 426v4M822.5 370v1M822.5 429v3M829.5 406v2M829.5 435v2M908.5 374v2M908.5 414v2M909.5 346v1M909.5 428v1M910.5 330v2M910.5 427v1M911.5 363v1M911.5 413v1M927.5 419v3M928.5 429v3M1036.5 371v4M1037.5 369v2M1038.5 392v2M1046.5 424v2M1227.5 408v1M1228.5 362v1M1230.5 309v1M1231.5 330v3M1232.5 352v1M1233.5 365v1M1234.5 386v1M1235.5 403v2M1236.5 384v28M1248.5 407v1M1249.5 390v1M1250.5 387v1M1251.5 399v1M1252.5 424v2M1254.5 429v2M1255.5 401v1M1256.5 382v3M1257.5 409v1"/><path stroke="#00dfff" d="M809.5 378v1M810.5 379v1M811.5 382v1M812.5 391v1M814.5 396v1M815.5 347v1M815.5 434v1M817.5 349v1M818.5 373v1M821.5 387v2M821.5 422v4M822.5 371v2M822.5 426v3M829.5 408v5M829.5 432v3M908.5 376v2M908.5 412v2M909.5 347v2M909.5 427v1M910.5 332v2M910.5 426v1M911.5 364v1M911.5 411v2M927.5 422v3M928.5 432v3M1036.5 375v2M1037.5 371v3M1038.5 394v2M1227.5 409v1M1228.5 363v1M1230.5 310v1M1231.5 333v2M1235.5 405v1M1236.5 412v4M1248.5 408v1M1249.5 391v1M1250.5 388v1M1251.5 400v1M1252.5 426v2M1254.5 431v2M1255.5 402v1M1256.5 385v3M1257.5 410v1"/><path stroke="#00efff" d="M809.5 379v1M810.5 380v1M811.5 383v1M813.5 394v1M814.5 397v1M815.5 433v1M816.5 339v1M818.5 374v1M821.5 389v2M821.5 418v4M822.5 373v2M822.5 423v3M829.5 413v5M829.5 429v3M908.5 378v2M908.5 410v2M909.5 349v1M909.5 426v1M910.5 334v2M910.5 425v1M911.5 365v2M911.5 410v1M927.5 425v3M928.5 435v2M1036.5 377v2M1037.5 374v2M1038.5 396v3M1227.5 410v1M1228.5 364v1M1230.5 311v1M1231.5 335v2M1232.5 353v1M1233.5 366v1M1234.5 387v1M1235.5 406v1M1236.5 416v3M1248.5 409v1M1249.5 392v1M1250.5 389v1M1252.5 428v2M1254.5 433v2M1255.5 403v1M1256.5 388v3M1257.5 411v1"/><path stroke="#00ffff" d="M809.5 380v2M812.5 392v1M814.5 398v2M815.5 348v1M815.5 432v1M817.5 350v1M818.5 375v2M818.5 436v1M821.5 391v2M821.5 410v8M822.5 375v3M822.5 420v3M829.5 418v5M829.5 426v3M908.5 380v2M908.5 408v2M909.5 350v1M909.5 425v1M910.5 336v2M910.5 424v1M911.5 367v2M911.5 408v2M927.5 428v3M1036.5 379v2M1037.5 376v1M1038.5 399v2M1227.5 411v1M1228.5 365v1M1230.5 312v1M1231.5 337v2M1233.5 367v1M1234.5 388v1M1235.5 407v2M1236.5 419v3M1248.5 410v1M1249.5 393v1M1250.5 390v1M1251.5 401v1M1252.5 430v2M1254.5 435v2M1255.5 404v1M1256.5 391v3M1257.5 412v1"/><path stroke="#10ffef" d="M809.5 382v1M810.5 381v1M811.5 384v1M813.5 395v1M814.5 400v2M815.5 431v1M816.5 340v1M818.5 377v1M818.5 435v1M821.5 393v17M822.5 378v2M822.5 417v3M829.5 423v3M908.5 382v1M908.5 406v2M909.5 351v1M909.5 424v1M910.5 338v2M910.5 423v1M911.5 369v3M911.5 407v1M927.5 431v3M1036.5 381v2M1037.5 377v2M1038.5 401v2M1228.5 366v1M1230.5 313v1M1231.5 339v2M1232.5 354v1M1233.5 368v1M1234.5 389v1M1235.5 409v1M1236.5 422v3M1248.5 411v1M1249.5 394v1M1250.5 391v1M1251.5 402v1M1252.5 432v1M1255.5 405v1M1256.5 394v4M1257.5 413v1"/><path stroke="#20ffdf" d="M809.5 383v1M810.5 382v1M811.5 385v1M812.5 393v1M814.5 402v1M815.5 349v1M815.5 430v1M818.5 378v1M818.5 434v1M822.5 380v3M822.5 414v3M908.5 383v4M908.5 404v2M909.5 352v2M909.5 423v1M910.5 340v2M910.5 422v1M911.5 372v2M911.5 406v1M927.5 434v3M1036.5 383v2M1036.5 436v1M1037.5 379v1M1038.5 403v2M1038.5 436v1M1227.5 412v1M1228.5 367v1M1230.5 314v1M1231.5 341v2M1232.5 355v1M1232.5 375v2M1234.5 390v1M1235.5 410v2M1236.5 425v2M1248.5 412v1M1249.5 395v1M1250.5 392v1M1251.5 403v1M1252.5 433v2M1256.5 398v2M1257.5 414v1"/><path stroke="#30ffcf" d="M809.5 384v1M810.5 383v1M811.5 386v1M812.5 394v1M813.5 396v1M814.5 403v2M815.5 429v1M816.5 341v1M817.5 351v1M818.5 379v1M818.5 433v1M822.5 383v3M822.5 410v4M908.5 387v17M909.5 354v1M909.5 422v1M910.5 342v2M910.5 421v1M911.5 374v3M911.5 404v2M1036.5 385v2M1036.5 435v1M1037.5 380v2M1038.5 405v3M1038.5 435v1M1227.5 413v1M1228.5 368v1M1230.5 315v1M1231.5 343v1M1232.5 371v4M1232.5 377v3M1233.5 369v1M1234.5 391v1M1235.5 412v1M1236.5 427v2M1248.5 413v1M1249.5 396v1M1250.5 393v1M1251.5 404v1M1252.5 435v2M1255.5 406v1M1256.5 400v1M1257.5 415v1"/><path stroke="#40ffbf" d="M809.5 385v2M810.5 384v1M814.5 405v2M814.5 436v1M815.5 350v1M815.5 428v1M818.5 380v1M818.5 432v1M822.5 386v3M822.5 405v5M909.5 355v1M909.5 421v1M910.5 344v2M910.5 420v1M911.5 377v3M911.5 402v2M1036.5 387v2M1036.5 433v2M1037.5 382v1M1038.5 408v2M1038.5 433v2M1227.5 414v1M1230.5 316v1M1231.5 344v2M1232.5 356v1M1232.5 368v3M1232.5 380v2M1233.5 370v1M1233.5 398v9M1234.5 392v1M1235.5 413v1M1236.5 429v3M1248.5 414v1M1249.5 397v1M1250.5 394v1M1251.5 405v1M1255.5 407v1M1256.5 401v1M1257.5 416v1"/><path stroke="#50ffaf" d="M809.5 387v1M810.5 385v1M811.5 387v1M812.5 395v1M813.5 397v1M814.5 407v2M814.5 434v2M815.5 427v1M816.5 342v1M818.5 381v1M818.5 431v1M822.5 389v2M822.5 401v4M909.5 356v1M909.5 420v1M910.5 346v2M910.5 419v1M911.5 380v3M911.5 394v8M1036.5 389v2M1036.5 432v1M1037.5 383v2M1038.5 410v10M1038.5 431v2M1227.5 415v1M1228.5 369v1M1230.5 317v1M1231.5 346v1M1232.5 357v2M1232.5 363v5M1232.5 382v1M1233.5 371v1M1233.5 396v2M1233.5 407v3M1234.5 393v1M1235.5 414v2M1236.5 432v2M1248.5 415v2M1249.5 398v1M1250.5 395v1M1251.5 406v1M1255.5 408v1M1256.5 402v1M1257.5 417v1"/><path stroke="#60ff9f" d="M809.5 388v1M811.5 388v1M814.5 409v2M814.5 431v3M815.5 351v1M815.5 426v1M817.5 352v1M818.5 382v1M818.5 430v1M822.5 391v3M822.5 396v5M909.5 357v1M909.5 419v1M910.5 348v2M910.5 418v1M911.5 383v11M1036.5 391v5M1036.5 431v1M1037.5 385v1M1038.5 420v11M1228.5 370v1M1230.5 318v1M1231.5 347v11M1232.5 359v4M1232.5 383v1M1233.5 372v1M1233.5 394v2M1233.5 410v1M1234.5 394v2M1235.5 416v1M1236.5 434v2M1248.5 417v1M1249.5 399v1M1250.5 396v1M1251.5 407v1M1255.5 409v1M1256.5 403v1M1257.5 418v1"/><path stroke="#70ff8f" d="M809.5 389v1M810.5 386v1M811.5 389v1M812.5 396v1M813.5 398v1M814.5 411v4M814.5 428v3M815.5 425v1M816.5 343v1M816.5 436v1M818.5 383v2M818.5 429v1M822.5 394v2M909.5 358v1M909.5 418v1M910.5 350v1M910.5 417v1M1036.5 396v6M1036.5 425v6M1037.5 386v2M1227.5 416v1M1230.5 319v2M1231.5 358v1M1232.5 384v1M1233.5 373v2M1233.5 392v2M1233.5 411v2M1234.5 396v1M1235.5 417v2M1236.5 436v1M1248.5 418v1M1249.5 400v1M1250.5 397v1M1251.5 408v2M1255.5 410v1M1256.5 404v1M1257.5 419v1"/><path stroke="#80ff80" d="M809.5 390v1M810.5 387v1M812.5 397v1M813.5 399v1M814.5 415v3M814.5 422v6M815.5 352v1M816.5 435v1M818.5 385v1M818.5 428v1M909.5 359v2M909.5 416v2M910.5 351v2M910.5 416v1M1036.5 402v5M1036.5 416v9M1037.5 388v1M1037.5 436v1M1227.5 417v1M1228.5 371v1M1230.5 321v1M1231.5 359v2M1232.5 385v1M1233.5 375v2M1233.5 390v2M1233.5 413v1M1234.5 397v1M1235.5 419v1M1248.5 419v1M1249.5 401v1M1250.5 398v1M1251.5 410v1M1255.5 411v1M1256.5 405v1M1257.5 420v2"/><path stroke="#8fff70" d="M809.5 391v1M810.5 388v1M811.5 390v1M813.5 400v1M814.5 418v4M815.5 424v1M816.5 344v1M817.5 353v1M818.5 386v1M818.5 427v1M909.5 361v1M909.5 415v1M910.5 353v1M910.5 414v2M1036.5 407v9M1037.5 389v3M1037.5 435v1M1227.5 418v1M1228.5 372v1M1230.5 322v1M1231.5 361v1M1232.5 386v1M1233.5 377v2M1233.5 387v3M1233.5 414v1M1234.5 398v2M1234.5 422v11M1235.5 420v2M1248.5 420v3M1249.5 402v1M1250.5 399v1M1251.5 411v1M1255.5 412v1M1256.5 406v1M1257.5 422v1"/><path stroke="#9fff60" d="M809.5 392v2M810.5 389v1M811.5 391v1M812.5 398v1M813.5 401v1M815.5 353v1M815.5 423v1M816.5 434v1M818.5 387v1M818.5 426v1M909.5 362v1M909.5 414v1M910.5 354v2M910.5 413v1M1037.5 392v4M1037.5 433v2M1227.5 419v1M1230.5 323v1M1231.5 362v1M1232.5 387v1M1233.5 379v8M1233.5 415v1M1234.5 400v3M1234.5 418v4M1234.5 433v2M1235.5 422v2M1248.5 423v3M1249.5 403v1M1250.5 400v1M1251.5 412v2M1255.5 413v1M1256.5 407v1M1257.5 423v1"/><path stroke="#afff50" d="M809.5 394v1M810.5 390v1M811.5 392v1M812.5 399v1M813.5 402v1M815.5 422v1M816.5 345v1M816.5 433v1M818.5 388v1M909.5 363v1M909.5 412v2M910.5 356v1M910.5 412v1M1037.5 396v3M1037.5 432v1M1228.5 373v1M1230.5 324v1M1232.5 388v1M1233.5 416v1M1234.5 403v4M1234.5 413v5M1234.5 435v2M1235.5 424v2M1248.5 426v2M1249.5 404v1M1250.5 401v1M1251.5 414v1M1255.5 414v1M1256.5 408v1M1257.5 424v1"/><path stroke="#bfff40" d="M809.5 395v1M811.5 393v1M812.5 400v1M813.5 403v1M816.5 432v1M817.5 354v1M818.5 389v2M818.5 425v1M909.5 364v1M909.5 411v1M910.5 357v2M910.5 410v2M1037.5 399v4M1037.5 430v2M1227.5 420v1M1228.5 374v1M1230.5 325v1M1231.5 363v1M1232.5 389v1M1233.5 417v1M1234.5 407v6M1235.5 426v2M1248.5 428v3M1249.5 405v1M1250.5 402v2M1251.5 415v1M1255.5 415v2M1256.5 409v1M1257.5 425v4"/><path stroke="#cfff30" d="M809.5 396v1M810.5 391v1M813.5 404v1M815.5 354v1M815.5 421v1M816.5 346v1M817.5 436v1M818.5 391v4M818.5 424v1M909.5 365v2M909.5 409v2M910.5 359v1M910.5 409v1M1037.5 403v4M1037.5 422v8M1227.5 421v1M1230.5 326v2M1231.5 364v1M1232.5 390v1M1233.5 418v1M1235.5 428v3M1248.5 431v3M1249.5 406v2M1250.5 404v1M1251.5 416v2M1255.5 417v1M1256.5 410v1M1257.5 429v3"/><path stroke="#dfff20" d="M809.5 397v1M810.5 392v1M811.5 394v1M812.5 401v1M813.5 405v2M815.5 420v1M816.5 431v1M818.5 395v3M909.5 367v2M909.5 408v1M910.5 360v2M910.5 408v1M1037.5 407v15M1227.5 422v1M1228.5 375v1M1230.5 328v1M1231.5 365v1M1232.5 391v1M1233.5 419v1M1235.5 431v6M1248.5 434v3M1249.5 408v1M1250.5 405v1M1251.5 418v1M1255.5 418v1M1257.5 432v4"/><path stroke="#efff10" d="M809.5 398v1M810.5 393v1M811.5 395v1M812.5 402v1M813.5 407v1M815.5 355v1M815.5 418v2M816.5 347v1M816.5 430v1M817.5 355v1M817.5 435v1M818.5 398v4M818.5 423v1M909.5 369v3M909.5 406v2M910.5 362v1M910.5 407v1M1227.5 423v1M1228.5 376v1M1230.5 329v1M1232.5 392v1M1233.5 420v1M1249.5 409v1M1250.5 406v1M1251.5 419v1M1255.5 419v2M1256.5 411v2M1257.5 436v1"/><path stroke="#ffff00" d="M809.5 399v1M810.5 394v1M811.5 396v1M812.5 403v1M812.5 436v1M813.5 408v1M815.5 356v4M815.5 412v6M817.5 356v1M817.5 434v1M818.5 402v4M818.5 422v1M909.5 372v2M909.5 405v1M910.5 363v2M910.5 405v2M1227.5 424v1M1230.5 330v2M1231.5 366v1M1232.5 393v1M1233.5 421v1M1249.5 410v2M1250.5 407v1M1251.5 420v4M1255.5 421v1M1256.5 413v1"/><path stroke="#ffef00" d="M809.5 400v1M809.5 435v2M810.5 395v1M811.5 436v1M812.5 404v2M812.5 434v2M813.5 409v2M813.5 435v2M815.5 360v7M815.5 406v6M816.5 348v1M816.5 429v1M817.5 357v1M817.5 433v1M818.5 406v4M818.5 421v1M909.5 374v3M909.5 403v2M910.5 365v1M910.5 404v1M1227.5 425v1M1228.5 377v1M1230.5 332v1M1232.5 394v1M1249.5 412v1M1250.5 408v2M1251.5 424v4M1255.5 422v1M1256.5 414v2"/><path stroke="#ffdf00" d="M809.5 401v1M809.5 434v1M810.5 436v1M811.5 397v1M811.5 435v1M812.5 406v2M812.5 433v1M813.5 411v3M813.5 433v2M815.5 367v6M815.5 402v4M816.5 428v1M817.5 358v1M818.5 410v5M909.5 377v3M909.5 398v5M910.5 366v2M910.5 402v2M1227.5 426v1M1228.5 378v1M1230.5 333v2M1231.5 367v1M1233.5 422v1M1249.5 413v2M1250.5 410v2M1251.5 428v4M1255.5 423v2M1256.5 416v1"/><path stroke="#ffcf00" d="M809.5 402v1M809.5 433v1M810.5 396v1M811.5 398v1M812.5 408v1M812.5 432v1M813.5 414v3M813.5 431v2M815.5 373v6M815.5 397v5M816.5 349v1M817.5 359v2M817.5 432v1M818.5 415v6M909.5 380v3M909.5 391v7M910.5 368v5M910.5 398v4M1227.5 427v1M1230.5 335v2M1231.5 368v1M1232.5 395v1M1233.5 423v1M1249.5 415v1M1250.5 412v1M1251.5 432v4M1255.5 425v4M1256.5 417v2"/><path stroke="#ffbf00" d="M809.5 403v3M809.5 432v1M810.5 397v1M810.5 435v1M811.5 399v1M811.5 434v1M812.5 409v3M812.5 431v1M813.5 417v5M813.5 427v4M815.5 379v6M815.5 394v3M816.5 427v1M817.5 361v1M817.5 431v1M909.5 383v8M910.5 373v4M910.5 393v5M1227.5 428v1M1228.5 379v1M1230.5 337v2M1232.5 396v1M1233.5 424v1M1249.5 416v2M1250.5 413v2M1251.5 436v1M1255.5 429v6M1256.5 419v1"/><path stroke="#ffaf00" d="M809.5 406v3M809.5 431v1M810.5 398v1M810.5 434v1M811.5 400v1M811.5 433v1M812.5 412v2M812.5 430v1M813.5 422v5M815.5 385v9M816.5 350v1M817.5 362v2M817.5 430v1M910.5 377v4M910.5 389v4M1227.5 429v1M1228.5 380v1M1230.5 339v2M1231.5 369v1M1232.5 397v1M1233.5 425v1M1249.5 418v1M1250.5 415v1M1255.5 435v2M1256.5 420v2"/><path stroke="#ff9f00" d="M809.5 409v3M809.5 430v1M810.5 399v1M812.5 414v3M812.5 426v4M816.5 426v1M817.5 364v1M910.5 381v8M1227.5 430v1M1228.5 381v1M1230.5 341v1M1231.5 370v1M1233.5 426v1M1249.5 419v5M1250.5 416v2M1256.5 422v1"/><path stroke="#ff8f00" d="M809.5 412v3M809.5 425v5M810.5 400v1M810.5 433v1M811.5 401v1M811.5 432v1M812.5 417v9M817.5 365v2M817.5 429v1M1227.5 431v1M1230.5 342v2M1232.5 398v1M1249.5 424v6M1250.5 418v1M1256.5 423v2"/><path stroke="#ff8000" d="M809.5 415v10M810.5 432v1M811.5 402v1M811.5 431v1M816.5 351v1M816.5 425v1M817.5 367v1M817.5 428v1M1227.5 432v1M1228.5 382v1M1229.5 295v47M1230.5 344v1M1231.5 371v1M1232.5 399v1M1233.5 427v1M1249.5 430v6M1250.5 419v6M1256.5 425v8"/><path stroke="#ff7000" d="M810.5 401v1M810.5 431v1M811.5 403v3M817.5 368v2M817.5 427v1M1227.5 433v1M1228.5 383v1M1229.5 342v3M1230.5 345v2M1232.5 400v1M1233.5 428v1M1249.5 436v1M1250.5 425v7M1256.5 433v4"/><path stroke="#ff6000" d="M810.5 402v1M811.5 406v2M811.5 430v1M816.5 352v1M816.5 424v1M817.5 370v1M1227.5 434v1M1228.5 384v1M1229.5 345v3M1230.5 347v2M1231.5 372v1M1232.5 401v1M1233.5 429v1M1250.5 432v5"/><path stroke="#ff5000" d="M810.5 403v3M810.5 430v1M811.5 408v3M811.5 426v4M817.5 371v2M817.5 426v1M1227.5 435v1M1228.5 385v2M1229.5 348v3M1230.5 349v2M1231.5 373v1M1232.5 402v1M1233.5 430v1"/><path stroke="#ff4000" d="M810.5 406v3M810.5 427v3M811.5 411v3M811.5 422v4M816.5 423v1M817.5 373v1M1227.5 436v1M1228.5 387v1M1229.5 351v3M1230.5 351v2M1232.5 403v1M1233.5 431v1"/><path stroke="#ff3000" d="M810.5 409v3M810.5 424v3M811.5 414v3M811.5 419v3M816.5 353v1M817.5 374v2M817.5 425v1M1228.5 388v2M1229.5 354v1M1230.5 353v2M1231.5 374v1M1232.5 404v1"/><path stroke="#ff2000" d="M810.5 412v4M810.5 421v3M811.5 417v2M816.5 422v1M817.5 376v1M1228.5 390v2M1229.5 355v2M1230.5 355v1M1231.5 375v1M1232.5 405v1M1233.5 432v1"/><path stroke="#ff1000" d="M810.5 416v5M816.5 354v1M817.5 377v2M817.5 424v1M1228.5 392v2M1229.5 357v1M1230.5 356v1M1231.5 376v1M1232.5 406v1M1233.5 433v2"/><path stroke="#ff0000" d="M816.5 421v1M817.5 379v2M817.5 423v1M1228.5 394v2M1229.5 358v1M1230.5 357v1M1231.5 377v1M1232.5 407v1M1233.5 435v1"/><path stroke="#ef0000" d="M816.5 420v1M817.5 381v2M1228.5 396v2M1229.5 359v2M1230.5 358v1M1232.5 408v1M1233.5 436v1"/><path stroke="#df0000" d="M816.5 355v1M817.5 383v2M817.5 422v1M1228.5 398v3M1229.5 361v1M1230.5 359v1M1231.5 378v1M1232.5 409v1"/><path stroke="#cf0000" d="M816.5 356v1M816.5 416v4M817.5 385v2M1228.5 401v3M1229.5 362v1M1230.5 360v1M1231.5 379v2M1232.5 410v2"/><path stroke="#bf0000" d="M816.5 357v4M816.5 412v4M817.5 387v2M817.5 421v1M1228.5 404v3M1229.5 363v1M1230.5 361v1M1231.5 381v1M1232.5 412v2"/><path stroke="#af0000" d="M816.5 361v3M816.5 407v5M817.5 389v17M817.5 420v1M1228.5 407v3M1229.5 364v2M1230.5 362v1M1231.5 382v1M1232.5 414v2"/><path stroke="#9f0000" d="M816.5 364v5M816.5 401v6M817.5 406v14M1228.5 410v4M1229.5 366v2M1230.5 363v2M1231.5 383v1M1232.5 416v2"/><path stroke="#8f0000" d="M816.5 369v13M816.5 394v7M1228.5 414v6M1229.5 368v3M1230.5 365v1M1231.5 384v4M1232.5 418v3"/><path stroke="#800000" d="M816.5 382v12M1228.5 420v17M1229.5 371v66M1230.5 366v71M1231.5 388v49M1232.5 421v16"/></g></g>
<path d="M809 436.5h5M1284 436.5h-5M809 420.5h5M1284 420.5h-5M809 405.5h5M1284 405.5h-5M809 392.5h5M1284 392.5h-5M809 370.5h5M1284 370.5h-5M809 351.5h5M1284 351.5h-5M809 334.5h5M1284 334.5h-5M809 319.5h5M1284 319.5h-5M809 306.5h5M1284 306.5h-5M809 295.5h5M1284 295.5h-5M927.5 437v-5M927.5 295v5M1046.5 437v-5M1046.5 295v5M1165.5 437v-5M1165.5 295v5" stroke="#000" stroke-width="1" fill="none" opacity="0.3"/>
<text class="e" x="805.5" y="445.9">7</text>
<text class="e" x="805.5" y="429.3">8</text>
<text class="e" x="805.5" y="414.7">9</text>
<text class="e" x="805.5" y="401.7">10</text>
<text class="e" x="805.5" y="379.1">12</text>
<text class="e" x="805.5" y="359.9">14</text>
<text class="e" x="805.5" y="343.4">16</text>
<text class="e" x="805.5" y="328.8">18</text>
<text class="e" x="805.5" y="315.7">20</text>
<text class="e" x="805.5" y="303.9">22</text>
<text class="m" x="809.0" y="463.2">00:00</text>
<text class="m" x="927.8" y="463.2">06:00</text>
<text class="m" x="1046.5" y="463.2">12:00</text>
<text class="m" x="1165.2" y="463.2">18:00</text>
<text class="m" x="1284.0" y="463.2">00:00</text>
<text class="b m" transform="translate(771.5 365.7) rotate(-90)">freq (mHz)</text>
<rect x="1302" y="295" width="26" height="142" fill="url(#jet)"/>
<rect x="1302.5" y="295.5" width="25" height="141" fill="none" stroke="#555" stroke-opacity="0.45" stroke-width="1"/>
<text x="1331" y="304.2">4</text>
<text x="1331" y="351.5">2</text>
<text x="1331" y="398.9">0</text>
<text x="1331" y="446.2">-2</text>
<path d="M1302 342.5h3M1328 342.5h-3M1302 389.5h3M1328 389.5h-3" stroke="#000" stroke-width="1" fill="none" opacity="0.35"/>
<text class="b m" transform="translate(1371.6 366.8) rotate(-90)">log<tspan font-size="16" dy="10">2</tspan><tspan dy="-10">(nT</tspan><tspan font-size="15" dy="-11.2">2</tspan><tspan dy="11.2">/Hz)</tspan></text>
<g shape-rendering="crispEdges" fill="none" stroke-width="1"><rect x="809" y="531" width="475" height="142" fill="#00008f" stroke="none"/><g filter="url(#bl)" clip-path="url(#cp2)"><path stroke="#00009f" d="M816.5 602v2M816.5 642v2M817.5 613v8M817.5 630v8M880.5 642v5M881.5 642v5M891.5 576v4M891.5 621v3M909.5 573v5M909.5 624v2M910.5 573v5M910.5 624v2M921.5 638v3M921.5 656v3M925.5 609v15M925.5 643v4M926.5 598v3M926.5 652v3M938.5 581v5M938.5 668v2M939.5 581v5M939.5 668v2M959.5 594v5M959.5 645v4M979.5 619v25M980.5 660v2M994.5 629v6M994.5 656v4M995.5 629v6M995.5 656v4M1125.5 531v15M1125.5 666v2M1146.5 636v9M1147.5 636v9M1194.5 626v5M1195.5 614v3M1196.5 650v23M1200.5 640v5M1201.5 571v4M1202.5 652v12M1211.5 643v18M1212.5 634v4M1212.5 663v3M1220.5 634v3M1220.5 664v2M1227.5 642v2M1227.5 670v2M1228.5 551v11M1228.5 597v6M1228.5 609v6M1229.5 534v2M1230.5 561v5M1231.5 593v1M1232.5 609v1M1233.5 614v26M1234.5 587v1M1235.5 584v2M1236.5 601v11M1236.5 624v17M1239.5 592v7M1240.5 592v7M1255.5 610v5M1255.5 656v3M1256.5 626v26"/><path stroke="#0000af" d="M816.5 604v1M816.5 641v1M817.5 621v9M880.5 647v5M881.5 647v5M891.5 580v3M891.5 618v3M909.5 626v2M910.5 626v2M921.5 641v2M921.5 653v3M925.5 624v19M926.5 601v2M926.5 650v2M938.5 586v12M938.5 666v2M939.5 586v12M939.5 666v2M959.5 599v5M959.5 643v2M979.5 564v55M980.5 658v2M994.5 635v21M995.5 635v21M1125.5 546v44M1125.5 664v2M1194.5 631v11M1195.5 617v4M1200.5 645v12M1201.5 575v3M1202.5 664v9M1212.5 638v4M1212.5 661v2M1220.5 637v4M1220.5 662v2M1227.5 644v1M1227.5 669v1M1228.5 562v8M1228.5 593v4M1228.5 615v5M1229.5 536v1M1230.5 566v3M1231.5 594v2M1232.5 610v1M1232.5 640v12M1233.5 640v6M1234.5 588v2M1235.5 586v1M1236.5 612v12M1236.5 641v9M1255.5 615v3M1255.5 653v3"/><path stroke="#0000bf" d="M816.5 605v2M816.5 640v1M880.5 652v18M881.5 652v18M891.5 583v18M891.5 616v2M909.5 628v2M910.5 628v2M921.5 643v3M921.5 651v2M926.5 603v3M926.5 648v2M938.5 598v17M938.5 661v5M939.5 598v17M939.5 661v5M959.5 604v39M979.5 531v33M980.5 655v3M1125.5 590v22M1125.5 662v2M1194.5 642v8M1195.5 621v2M1200.5 657v9M1201.5 578v12M1201.5 628v3M1212.5 642v3M1212.5 647v14M1220.5 641v2M1220.5 660v2M1227.5 645v1M1227.5 668v1M1228.5 570v4M1228.5 591v2M1228.5 620v5M1229.5 537v1M1230.5 569v2M1231.5 596v1M1232.5 611v1M1232.5 638v2M1232.5 652v5M1232.5 659v1M1233.5 646v4M1234.5 590v1M1235.5 587v1M1236.5 650v5M1255.5 618v23M1255.5 650v3"/><path stroke="#0000cf" d="M816.5 607v1M816.5 639v1M880.5 670v3M881.5 670v3M891.5 601v15M909.5 630v2M910.5 630v2M921.5 646v5M926.5 606v2M926.5 646v2M938.5 615v17M938.5 649v12M939.5 615v17M939.5 649v12M980.5 649v6M1125.5 612v18M1125.5 661v1M1194.5 650v7M1195.5 623v3M1200.5 666v7M1201.5 590v18M1201.5 619v9M1201.5 631v2M1212.5 645v2M1220.5 643v17M1227.5 646v1M1227.5 667v1M1228.5 574v3M1228.5 589v2M1228.5 625v1M1229.5 538v1M1230.5 571v2M1232.5 636v2M1232.5 657v2M1232.5 660v1M1233.5 650v4M1234.5 591v1M1235.5 588v1M1236.5 655v5M1255.5 641v9"/><path stroke="#0000df" d="M816.5 608v1M816.5 638v1M909.5 632v5M910.5 632v5M926.5 608v1M926.5 644v2M938.5 632v17M939.5 632v17M980.5 642v7M1125.5 630v31M1194.5 657v16M1195.5 626v2M1201.5 608v11M1201.5 633v3M1227.5 666v1M1228.5 577v3M1228.5 587v2M1228.5 626v1M1229.5 539v1M1230.5 573v2M1231.5 597v1M1232.5 612v1M1232.5 635v1M1232.5 661v1M1233.5 654v3M1234.5 592v1M1235.5 589v1M1236.5 660v5"/><path stroke="#0000ef" d="M816.5 609v2M816.5 636v2M909.5 637v7M910.5 637v7M926.5 609v12M926.5 642v2M980.5 636v6M1195.5 628v3M1201.5 636v3M1227.5 647v1M1227.5 665v1M1228.5 580v4M1228.5 585v2M1228.5 627v1M1229.5 540v2M1230.5 575v2M1232.5 613v1M1232.5 633v2M1232.5 662v1M1233.5 657v3M1234.5 593v1M1235.5 590v1M1236.5 665v4"/><path stroke="#0000ff" d="M816.5 611v4M816.5 633v3M909.5 644v8M910.5 644v8M926.5 621v17M926.5 640v2M980.5 627v9M1195.5 631v8M1201.5 639v3M1227.5 648v1M1227.5 664v1M1228.5 584v1M1228.5 628v1M1229.5 542v3M1230.5 577v1M1231.5 598v1M1232.5 614v2M1232.5 632v1M1232.5 663v2M1233.5 660v3M1234.5 594v2M1236.5 669v4"/><path stroke="#0010ff" d="M816.5 615v5M816.5 629v4M909.5 652v21M910.5 652v21M926.5 638v2M980.5 607v20M1195.5 639v8M1201.5 642v3M1227.5 649v1M1228.5 629v1M1229.5 545v1M1230.5 578v2M1231.5 599v1M1232.5 616v1M1232.5 631v1M1232.5 665v1M1233.5 663v2M1234.5 596v1M1235.5 591v1"/><path stroke="#0020ff" d="M816.5 620v4M816.5 626v3M980.5 587v20M1195.5 647v9M1195.5 669v4M1201.5 645v9M1227.5 663v1M1228.5 630v1M1229.5 546v2M1230.5 580v1M1232.5 617v1M1232.5 630v1M1232.5 666v1M1233.5 665v3M1234.5 597v1M1235.5 592v1"/><path stroke="#0030ff" d="M816.5 624v2M980.5 567v20M1195.5 656v13M1201.5 654v11M1227.5 650v1M1227.5 662v1M1229.5 548v2M1230.5 581v2M1231.5 600v1M1232.5 618v1M1232.5 629v1M1232.5 667v1M1233.5 668v2M1234.5 598v1M1235.5 593v2"/><path stroke="#0040ff" d="M980.5 549v18M1201.5 665v8M1227.5 651v2M1228.5 631v1M1229.5 550v1M1230.5 583v1M1232.5 619v1M1232.5 628v1M1232.5 668v1M1233.5 670v2M1234.5 599v1M1235.5 595v1"/><path stroke="#0050ff" d="M980.5 531v18M1227.5 653v1M1227.5 661v1M1228.5 632v1M1229.5 551v2M1230.5 584v1M1231.5 601v1M1232.5 620v1M1232.5 627v1M1232.5 669v1M1233.5 672v1M1234.5 600v2M1235.5 596v1"/><path stroke="#0060ff" d="M1227.5 654v1M1228.5 633v1M1229.5 553v2M1230.5 585v1M1232.5 621v1M1232.5 670v1M1234.5 602v1M1234.5 632v5M1235.5 597v1M1235.5 634v3"/><path stroke="#0070ff" d="M1227.5 655v2M1227.5 660v1M1228.5 634v1M1229.5 555v2M1231.5 602v1M1232.5 622v1M1232.5 626v1M1232.5 671v2M1234.5 603v6M1234.5 625v7M1234.5 637v5M1235.5 598v2M1235.5 629v5M1235.5 637v7"/><path stroke="#0080ff" d="M1227.5 657v1M1227.5 659v1M1229.5 557v2M1230.5 586v1M1231.5 603v1M1232.5 623v3M1234.5 609v16M1234.5 642v5M1235.5 600v1M1235.5 625v4M1235.5 644v6"/><path stroke="#008fff" d="M1227.5 658v1M1228.5 635v1M1229.5 559v2M1230.5 587v1M1234.5 647v4M1235.5 601v1M1235.5 621v4M1235.5 650v7"/><path stroke="#009fff" d="M1228.5 636v1M1229.5 561v2M1231.5 604v1M1234.5 651v6M1235.5 602v19M1235.5 657v6"/><path stroke="#00afff" d="M1229.5 563v2M1230.5 588v1M1234.5 657v5M1235.5 663v7"/><path stroke="#00bfff" d="M1228.5 637v1M1228.5 672v1M1229.5 565v2M1234.5 662v5M1235.5 670v3"/><path stroke="#00cfff" d="M1228.5 638v1M1229.5 567v1M1230.5 589v1M1231.5 605v1M1234.5 667v5"/><path stroke="#00dfff" d="M1228.5 639v1M1228.5 671v1M1229.5 568v2M1234.5 672v1"/><path stroke="#00efff" d="M1229.5 570v1M1230.5 590v1"/><path stroke="#00ffff" d="M1228.5 640v1M1228.5 670v1M1229.5 571v2M1231.5 606v1"/><path stroke="#10ffef" d="M1228.5 669v1M1229.5 573v1M1230.5 591v1"/><path stroke="#20ffdf" d="M1228.5 641v1M1229.5 574v2"/><path stroke="#30ffcf" d="M1228.5 668v1M1229.5 576v1M1230.5 592v1"/><path stroke="#40ffbf" d="M1228.5 642v1M1229.5 577v2M1230.5 593v1M1231.5 607v1"/><path stroke="#50ffaf" d="M1228.5 667v1M1229.5 579v2M1231.5 660v1"/><path stroke="#60ff9f" d="M1228.5 643v1M1228.5 666v1M1229.5 581v1M1229.5 597v9M1230.5 594v1M1231.5 659v1M1231.5 661v5"/><path stroke="#70ff8f" d="M1229.5 582v3M1229.5 592v5M1229.5 606v2M1231.5 608v1M1231.5 641v16M1231.5 658v1M1231.5 666v3"/><path stroke="#80ff80" d="M1228.5 644v1M1228.5 665v1M1229.5 585v7M1229.5 608v2M1230.5 595v1M1231.5 639v2M1231.5 657v1M1231.5 669v4"/><path stroke="#8fff70" d="M1229.5 610v2M1230.5 596v1M1231.5 609v1M1231.5 638v1"/><path stroke="#9fff60" d="M1228.5 645v1M1228.5 664v1M1229.5 612v1"/><path stroke="#afff50" d="M1229.5 613v1M1230.5 597v1M1231.5 637v1"/><path stroke="#bfff40" d="M1228.5 646v1M1228.5 663v1M1229.5 614v2M1230.5 598v1M1231.5 610v1M1231.5 636v1"/><path stroke="#cfff30" d="M1228.5 647v1M1229.5 616v1M1229.5 672v1M1231.5 635v1"/><path stroke="#dfff20" d="M1228.5 662v1M1229.5 617v2M1229.5 671v1M1230.5 599v1"/><path stroke="#efff10" d="M1228.5 648v1M1229.5 619v2M1229.5 623v2M1230.5 600v1M1231.5 611v1M1231.5 634v1"/><path stroke="#ffff00" d="M1228.5 661v1M1229.5 621v2M1229.5 625v1M1229.5 670v1M1230.5 601v1M1231.5 633v1"/><path stroke="#ffef00" d="M1228.5 649v1M1229.5 626v1M1229.5 669v1M1230.5 602v1M1230.5 672v1M1231.5 612v1M1231.5 632v1"/><path stroke="#ffdf00" d="M1228.5 650v2M1228.5 660v1M1229.5 627v1M1229.5 668v1M1230.5 603v1M1230.5 670v2"/><path stroke="#ffcf00" d="M1228.5 652v2M1229.5 628v1M1230.5 604v1M1230.5 669v1M1231.5 613v1M1231.5 631v1"/><path stroke="#ffbf00" d="M1228.5 654v2M1228.5 659v1M1229.5 629v2M1229.5 667v1M1230.5 605v1M1230.5 667v2M1231.5 614v1M1231.5 630v1"/><path stroke="#ffaf00" d="M1228.5 656v3M1229.5 631v1M1229.5 666v1M1230.5 665v2M1231.5 615v1M1231.5 629v1"/><path stroke="#ff9f00" d="M1229.5 632v3M1229.5 665v1M1230.5 606v1M1230.5 664v1M1231.5 616v2M1231.5 628v1"/><path stroke="#ff8f00" d="M1229.5 635v4M1229.5 664v1M1230.5 663v1M1231.5 618v1M1231.5 627v1"/><path stroke="#ff8000" d="M1229.5 639v2M1230.5 607v1M1230.5 662v1M1231.5 619v1M1231.5 626v1"/><path stroke="#ff7000" d="M1229.5 641v1M1229.5 663v1M1230.5 608v1M1230.5 660v2M1231.5 620v1"/><path stroke="#ff6000" d="M1229.5 642v1M1230.5 659v1M1231.5 621v5"/><path stroke="#ff5000" d="M1229.5 643v1M1229.5 662v1M1230.5 609v1M1230.5 639v5"/><path stroke="#ff4000" d="M1229.5 644v1M1229.5 661v1M1230.5 610v1M1230.5 637v2M1230.5 644v4M1230.5 657v2"/><path stroke="#ff3000" d="M1229.5 645v1M1230.5 611v1M1230.5 636v1M1230.5 648v9"/><path stroke="#ff2000" d="M1229.5 646v1M1229.5 660v1M1230.5 634v2"/><path stroke="#ff1000" d="M1229.5 647v2M1229.5 659v1M1230.5 612v1M1230.5 633v1"/><path stroke="#ff0000" d="M1229.5 649v1M1229.5 658v1M1230.5 613v2M1230.5 631v2"/><path stroke="#ef0000" d="M1229.5 650v8M1230.5 615v2M1230.5 629v2"/><path stroke="#df0000" d="M1230.5 617v2M1230.5 625v4"/><path stroke="#cf0000" d="M1230.5 619v3M1230.5 623v2"/><path stroke="#bf0000" d="M1230.5 622v1"/></g></g>
<path d="M809 672.5h5M1284 672.5h-5M809 656.5h5M1284 656.5h-5M809 641.5h5M1284 641.5h-5M809 628.5h5M1284 628.5h-5M809 606.5h5M1284 606.5h-5M809 587.5h5M1284 587.5h-5M809 570.5h5M1284 570.5h-5M809 555.5h5M1284 555.5h-5M809 542.5h5M1284 542.5h-5M809 531.5h5M1284 531.5h-5M927.5 673v-5M927.5 531v5M1046.5 673v-5M1046.5 531v5M1165.5 673v-5M1165.5 531v5" stroke="#000" stroke-width="1" fill="none" opacity="0.3"/>
<text class="e" x="805.5" y="681.9">7</text>
<text class="e" x="805.5" y="665.3">8</text>
<text class="e" x="805.5" y="650.7">9</text>
<text class="e" x="805.5" y="637.7">10</text>
<text class="e" x="805.5" y="615.1">12</text>
<text class="e" x="805.5" y="595.9">14</text>
<text class="e" x="805.5" y="579.4">16</text>
<text class="e" x="805.5" y="564.8">18</text>
<text class="e" x="805.5" y="551.7">20</text>
<text class="e" x="805.5" y="539.9">22</text>
<text class="m" x="809.0" y="699.2">00:00</text>
<text class="m" x="927.8" y="699.2">06:00</text>
<text class="m" x="1046.5" y="699.2">12:00</text>
<text class="m" x="1165.2" y="699.2">18:00</text>
<text class="m" x="1284.0" y="699.2">00:00</text>
<text class="b m" transform="translate(771.5 601.7) rotate(-90)">freq (mHz)</text>
<rect x="1302" y="531" width="26" height="142" fill="url(#jet)"/>
<rect x="1302.5" y="531.5" width="25" height="141" fill="none" stroke="#555" stroke-opacity="0.45" stroke-width="1"/>
<text x="1331" y="540.2">4</text>
<text x="1331" y="587.5">2</text>
<text x="1331" y="634.9">0</text>
<text x="1331" y="682.2">-2</text>
<path d="M1302 578.5h3M1328 578.5h-3M1302 625.5h3M1328 625.5h-3" stroke="#000" stroke-width="1" fill="none" opacity="0.35"/>
<text class="b m" transform="translate(1371.6 602.8) rotate(-90)">log<tspan font-size="16" dy="10">2</tspan><tspan dy="-10">(nT</tspan><tspan font-size="15" dy="-11.2">2</tspan><tspan dy="11.2">/Hz)</tspan></text>
</svg></body></html>
